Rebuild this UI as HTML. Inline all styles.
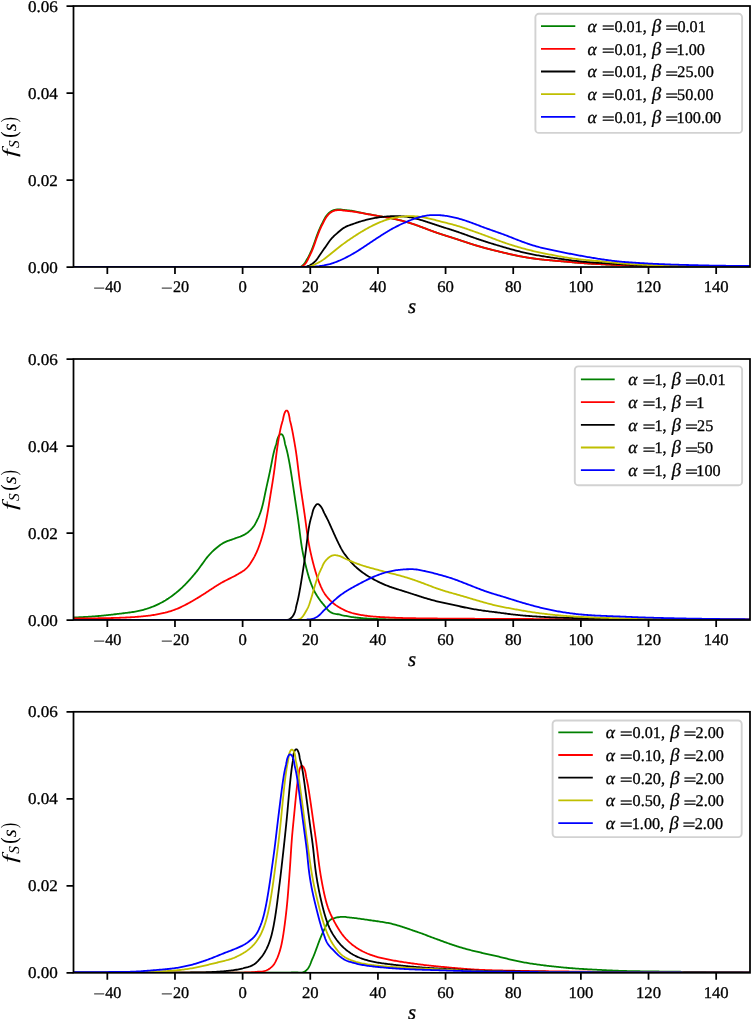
<!DOCTYPE html><html><head><meta charset="utf-8"><style>html,body{margin:0;padding:0;background:#fff;}svg{display:block;will-change:transform;}text{font-family:"Liberation Serif",serif;fill:#000;text-rendering:geometricPrecision;stroke:#000;stroke-width:0.3px;}.it{font-style:italic;}</style></head><body>
<svg width="751" height="1019" viewBox="0 0 751 1019">
<rect x="0" y="0" width="751" height="1019" fill="#fff"/>
<clipPath id="c0"><rect x="73.50" y="6.00" width="676.50" height="261.00"/></clipPath>
<g clip-path="url(#c0)" fill="none" stroke-width="1.80" stroke-linejoin="round" stroke-linecap="butt">
<path d="M73.20 267.00 L74.40 267.00 L75.60 267.00 L76.80 267.00 L78.00 267.00 L79.20 267.00 L80.40 267.00 L81.60 267.00 L82.80 267.00 L84.00 267.00 L85.20 267.00 L86.40 267.00 L87.60 267.00 L88.80 267.00 L90.00 267.00 L91.20 267.00 L92.40 267.00 L93.60 267.00 L94.80 267.00 L96.00 267.00 L97.20 267.00 L98.40 267.00 L99.60 267.00 L100.80 267.00 L102.00 267.00 L103.20 267.00 L104.40 267.00 L105.60 267.00 L106.80 267.00 L108.00 267.00 L109.20 267.00 L110.40 267.00 L111.60 267.00 L112.80 267.00 L114.00 267.00 L115.20 267.00 L116.40 267.00 L117.60 267.00 L118.80 267.00 L120.00 267.00 L121.20 267.00 L122.40 267.00 L123.60 267.00 L124.80 267.00 L126.00 267.00 L127.20 267.00 L128.40 267.00 L129.60 267.00 L130.80 267.00 L132.00 267.00 L133.20 267.00 L134.40 267.00 L135.60 267.00 L136.80 267.00 L138.00 267.00 L139.20 267.00 L140.40 267.00 L141.60 267.00 L142.80 267.00 L144.00 267.00 L145.20 267.00 L146.40 267.00 L147.60 267.00 L148.80 267.00 L150.00 267.00 L151.20 267.00 L152.40 267.00 L153.60 267.00 L154.80 267.00 L156.00 267.00 L157.20 267.00 L158.40 267.00 L159.60 267.00 L160.80 267.00 L162.00 267.00 L163.20 267.00 L164.40 267.00 L165.60 267.00 L166.80 267.00 L168.00 267.00 L169.20 267.00 L170.40 267.00 L171.60 267.00 L172.80 267.00 L174.00 267.00 L175.20 267.00 L176.40 267.00 L177.60 267.00 L178.80 267.00 L180.00 267.00 L181.20 267.00 L182.40 267.00 L183.60 267.00 L184.80 267.00 L186.00 267.00 L187.20 267.00 L188.40 267.00 L189.60 267.00 L190.80 267.00 L192.00 267.00 L193.20 267.00 L194.40 267.00 L195.60 267.00 L196.80 267.00 L198.00 267.00 L199.20 267.00 L200.40 267.00 L201.60 267.00 L202.80 267.00 L204.00 267.00 L205.20 267.00 L206.40 267.00 L207.60 267.00 L208.80 267.00 L210.00 267.00 L211.20 267.00 L212.40 267.00 L213.60 267.00 L214.80 267.00 L216.00 267.00 L217.20 267.00 L218.40 267.00 L219.60 267.00 L220.80 267.00 L222.00 267.00 L223.20 267.00 L224.40 267.00 L225.60 267.00 L226.80 267.00 L228.00 267.00 L229.20 267.00 L230.40 267.00 L231.60 267.00 L232.80 267.00 L234.00 267.00 L235.20 267.00 L236.40 267.00 L237.60 267.00 L238.80 267.00 L240.00 267.00 L241.20 267.00 L242.40 267.00 L243.60 267.00 L244.80 267.00 L246.00 267.00 L247.20 267.00 L248.40 267.00 L249.60 267.00 L250.80 267.00 L252.00 267.00 L253.20 267.00 L254.40 267.00 L255.60 267.00 L256.80 267.00 L258.00 267.00 L259.20 267.00 L260.40 267.00 L261.60 267.00 L262.80 267.00 L264.00 267.00 L265.20 267.00 L266.40 267.00 L267.60 267.00 L268.80 267.00 L270.00 267.00 L271.20 267.00 L272.40 267.00 L273.60 267.00 L274.80 267.00 L276.00 267.00 L277.20 267.00 L278.40 267.00 L279.60 267.00 L280.80 267.00 L281.99 267.00 L283.19 267.00 L284.38 267.00 L285.58 267.00 L286.76 267.00 L287.95 267.00 L289.13 267.00 L290.30 267.00 L291.47 267.00 L292.67 267.00 L293.90 267.00 L295.14 267.00 L296.38 267.00 L297.59 267.00 L298.79 267.00 L299.98 267.00 L301.08 266.64 L302.04 266.00 L302.89 265.17 L303.71 264.30 L304.49 263.39 L305.19 262.40 L305.81 261.35 L306.41 260.29 L307.02 259.28 L307.63 258.27 L308.21 257.25 L308.75 256.20 L309.28 255.14 L309.79 254.08 L310.30 253.01 L310.79 251.94 L311.27 250.86 L311.74 249.76 L312.19 248.66 L312.62 247.55 L313.05 246.43 L313.46 245.31 L313.86 244.19 L314.26 243.06 L314.66 241.93 L315.06 240.80 L315.45 239.67 L315.85 238.53 L316.25 237.40 L316.65 236.28 L317.07 235.15 L317.48 234.03 L317.91 232.91 L318.35 231.80 L318.80 230.69 L319.25 229.58 L319.73 228.49 L320.21 227.40 L320.72 226.32 L321.23 225.25 L321.77 224.19 L322.31 223.14 L322.85 222.08 L323.38 221.01 L323.91 219.93 L324.46 218.87 L325.05 217.83 L325.69 216.83 L326.38 215.86 L327.10 214.93 L327.87 214.03 L328.69 213.18 L329.57 212.40 L330.52 211.69 L331.52 211.07 L332.56 210.55 L333.65 210.12 L334.78 209.78 L335.93 209.54 L337.11 209.40 L338.29 209.35 L339.48 209.38 L340.68 209.48 L341.88 209.62 L343.07 209.77 L344.26 209.91 L345.45 210.05 L346.63 210.18 L347.81 210.30 L348.99 210.44 L350.17 210.58 L351.35 210.74 L352.53 210.91 L353.71 211.10 L354.89 211.30 L356.06 211.52 L357.24 211.76 L358.41 212.01 L359.58 212.27 L360.74 212.53 L361.91 212.79 L363.08 213.04 L364.25 213.29 L365.43 213.54 L366.60 213.79 L367.77 214.03 L368.95 214.26 L370.12 214.49 L371.30 214.71 L372.48 214.93 L373.66 215.15 L374.84 215.36 L376.02 215.56 L377.20 215.77 L378.38 215.97 L379.56 216.17 L380.75 216.38 L381.93 216.59 L383.11 216.79 L384.29 217.00 L385.47 217.22 L386.65 217.44 L387.83 217.66 L389.01 217.89 L390.18 218.12 L391.36 218.36 L392.53 218.60 L393.71 218.84 L394.88 219.09 L396.05 219.35 L397.22 219.61 L398.39 219.88 L399.56 220.16 L400.72 220.44 L401.88 220.73 L403.04 221.03 L404.20 221.34 L405.36 221.65 L406.51 221.98 L407.66 222.32 L408.81 222.66 L409.95 223.02 L411.09 223.38 L412.23 223.75 L413.37 224.13 L414.50 224.52 L415.63 224.92 L416.76 225.32 L417.89 225.72 L419.02 226.13 L420.14 226.55 L421.27 226.97 L422.39 227.39 L423.51 227.81 L424.64 228.24 L425.76 228.66 L426.88 229.09 L428.00 229.51 L429.12 229.94 L430.25 230.36 L431.37 230.78 L432.49 231.19 L433.62 231.60 L434.75 232.01 L435.88 232.41 L437.01 232.81 L438.15 233.19 L439.28 233.58 L440.42 233.96 L441.56 234.33 L442.70 234.70 L443.84 235.06 L444.99 235.43 L446.13 235.78 L447.28 236.14 L448.42 236.50 L449.57 236.86 L450.71 237.22 L451.86 237.58 L453.00 237.94 L454.14 238.31 L455.28 238.67 L456.42 239.05 L457.56 239.42 L458.70 239.80 L459.84 240.18 L460.98 240.56 L462.11 240.94 L463.25 241.32 L464.39 241.70 L465.53 242.08 L466.67 242.46 L467.80 242.84 L468.94 243.21 L470.09 243.58 L471.23 243.94 L472.37 244.31 L473.52 244.66 L474.66 245.02 L475.81 245.37 L476.96 245.71 L478.11 246.05 L479.26 246.39 L480.41 246.72 L481.57 247.05 L482.72 247.38 L483.88 247.69 L485.04 248.01 L486.19 248.32 L487.35 248.63 L488.51 248.93 L489.68 249.23 L490.84 249.52 L492.00 249.81 L493.17 250.10 L494.33 250.39 L495.50 250.68 L496.66 250.96 L497.83 251.24 L498.99 251.53 L500.16 251.81 L501.33 252.09 L502.49 252.37 L503.66 252.65 L504.83 252.93 L505.99 253.21 L507.16 253.49 L508.33 253.76 L509.50 254.03 L510.67 254.30 L511.84 254.57 L513.01 254.83 L514.18 255.08 L515.35 255.33 L516.53 255.57 L517.70 255.81 L518.88 256.04 L520.06 256.27 L521.23 256.49 L522.41 256.70 L523.59 256.92 L524.78 257.12 L525.96 257.32 L527.14 257.52 L528.33 257.71 L529.51 257.90 L530.70 258.08 L531.88 258.25 L533.07 258.43 L534.26 258.59 L535.45 258.75 L536.64 258.91 L537.83 259.06 L539.02 259.20 L540.21 259.34 L541.40 259.47 L542.59 259.60 L543.79 259.72 L544.98 259.83 L546.17 259.95 L547.37 260.06 L548.56 260.16 L549.76 260.27 L550.95 260.37 L552.15 260.47 L553.34 260.58 L554.54 260.68 L555.74 260.78 L556.93 260.88 L558.13 260.98 L559.32 261.08 L560.52 261.19 L561.71 261.29 L562.91 261.40 L564.10 261.51 L565.30 261.62 L566.49 261.72 L567.69 261.83 L568.88 261.94 L570.08 262.05 L571.27 262.16 L572.47 262.27 L573.66 262.38 L574.86 262.48 L576.05 262.59 L577.25 262.69 L578.45 262.79 L579.64 262.89 L580.84 262.99 L582.03 263.08 L583.23 263.17 L584.43 263.26 L585.62 263.34 L586.82 263.43 L588.02 263.51 L589.21 263.58 L590.41 263.66 L591.61 263.73 L592.81 263.80 L594.01 263.87 L595.20 263.94 L596.40 264.00 L597.60 264.07 L598.80 264.13 L600.00 264.19 L601.20 264.25 L602.39 264.31 L603.59 264.37 L604.79 264.43 L605.99 264.49 L607.19 264.55 L608.39 264.61 L609.59 264.66 L610.78 264.72 L611.98 264.77 L613.18 264.83 L614.38 264.88 L615.58 264.94 L616.78 264.99 L617.98 265.04 L619.18 265.09 L620.37 265.14 L621.57 265.19 L622.77 265.24 L623.97 265.29 L625.17 265.33 L626.37 265.38 L627.57 265.42 L628.77 265.46 L629.97 265.51 L631.17 265.55 L632.37 265.59 L633.57 265.62 L634.76 265.66 L635.96 265.70 L637.16 265.73 L638.36 265.76 L639.56 265.80 L640.76 265.83 L641.96 265.85 L643.16 265.88 L644.36 265.91 L645.56 265.93 L646.76 265.96 L647.96 265.98 L649.16 266.00 L650.36 266.03 L651.56 266.05 L652.76 266.07 L653.96 266.09 L655.16 266.11 L656.36 266.12 L657.56 266.14 L658.76 266.16 L659.96 266.18 L661.16 266.19 L662.36 266.21 L663.56 266.22 L664.76 266.24 L665.96 266.25 L667.16 266.27 L668.36 266.28 L669.56 266.29 L670.76 266.31 L671.96 266.32 L673.16 266.33 L674.36 266.34 L675.56 266.35 L676.76 266.37 L677.96 266.38 L679.16 266.39 L680.36 266.40 L681.56 266.41 L682.76 266.42 L683.96 266.43 L685.16 266.44 L686.36 266.45 L687.56 266.46 L688.76 266.47 L689.96 266.48 L691.16 266.49 L692.36 266.50 L693.56 266.51 L694.76 266.52 L695.96 266.53 L697.16 266.54 L698.36 266.55 L699.56 266.56 L700.76 266.57 L701.96 266.57 L703.16 266.58 L704.36 266.59 L705.56 266.60 L706.76 266.61 L707.96 266.62 L709.16 266.63 L710.36 266.63 L711.56 266.64 L712.76 266.65 L713.96 266.66 L715.16 266.66 L716.36 266.67 L717.56 266.68 L718.76 266.69 L719.96 266.69 L721.16 266.70 L722.36 266.71 L723.56 266.71 L724.76 266.72 L725.96 266.72 L727.16 266.73 L728.36 266.74 L729.56 266.74 L730.76 266.75 L731.96 266.75 L733.16 266.76 L734.36 266.76 L735.56 266.77 L736.76 266.77 L737.96 266.77 L739.16 266.78 L740.36 266.78 L741.56 266.78 L742.76 266.79 L743.96 266.79 L745.16 266.79 L746.36 266.80 L747.56 266.80 L748.76 266.80 L749.96 266.80 L749.96 266.80" stroke="#008000"/>
<path d="M73.20 267.00 L74.40 267.00 L75.60 267.00 L76.80 267.00 L78.00 267.00 L79.20 267.00 L80.40 267.00 L81.60 267.00 L82.80 267.00 L84.00 267.00 L85.20 267.00 L86.40 267.00 L87.60 267.00 L88.80 267.00 L90.00 267.00 L91.20 267.00 L92.40 267.00 L93.60 267.00 L94.80 267.00 L96.00 267.00 L97.20 267.00 L98.40 267.00 L99.60 267.00 L100.80 267.00 L102.00 267.00 L103.20 267.00 L104.40 267.00 L105.60 267.00 L106.80 267.00 L108.00 267.00 L109.20 267.00 L110.40 267.00 L111.60 267.00 L112.80 267.00 L114.00 267.00 L115.20 267.00 L116.40 267.00 L117.60 267.00 L118.80 267.00 L120.00 267.00 L121.20 267.00 L122.40 267.00 L123.60 267.00 L124.80 267.00 L126.00 267.00 L127.20 267.00 L128.40 267.00 L129.60 267.00 L130.80 267.00 L132.00 267.00 L133.20 267.00 L134.40 267.00 L135.60 267.00 L136.80 267.00 L138.00 267.00 L139.20 267.00 L140.40 267.00 L141.60 267.00 L142.80 267.00 L144.00 267.00 L145.20 267.00 L146.40 267.00 L147.60 267.00 L148.80 267.00 L150.00 267.00 L151.20 267.00 L152.40 267.00 L153.60 267.00 L154.80 267.00 L156.00 267.00 L157.20 267.00 L158.40 267.00 L159.60 267.00 L160.80 267.00 L162.00 267.00 L163.20 267.00 L164.40 267.00 L165.60 267.00 L166.80 267.00 L168.00 267.00 L169.20 267.00 L170.40 267.00 L171.60 267.00 L172.80 267.00 L174.00 267.00 L175.20 267.00 L176.40 267.00 L177.60 267.00 L178.80 267.00 L180.00 267.00 L181.20 267.00 L182.40 267.00 L183.60 267.00 L184.80 267.00 L186.00 267.00 L187.20 267.00 L188.40 267.00 L189.60 267.00 L190.80 267.00 L192.00 267.00 L193.20 267.00 L194.40 267.00 L195.60 267.00 L196.80 267.00 L198.00 267.00 L199.20 267.00 L200.40 267.00 L201.60 267.00 L202.80 267.00 L204.00 267.00 L205.20 267.00 L206.40 267.00 L207.60 267.00 L208.80 267.00 L210.00 267.00 L211.20 267.00 L212.40 267.00 L213.60 267.00 L214.80 267.00 L216.00 267.00 L217.20 267.00 L218.40 267.00 L219.60 267.00 L220.80 267.00 L222.00 267.00 L223.20 267.00 L224.40 267.00 L225.60 267.00 L226.80 267.00 L228.00 267.00 L229.20 267.00 L230.40 267.00 L231.60 267.00 L232.80 267.00 L234.00 267.00 L235.20 267.00 L236.40 267.00 L237.60 267.00 L238.80 267.00 L240.00 267.00 L241.20 267.00 L242.40 267.00 L243.60 267.00 L244.80 267.00 L246.00 267.00 L247.20 267.00 L248.40 267.00 L249.60 267.00 L250.80 267.00 L252.00 267.00 L253.20 267.00 L254.40 267.00 L255.60 267.00 L256.80 267.00 L258.00 267.00 L259.20 267.00 L260.40 267.00 L261.60 267.00 L262.80 267.00 L264.00 267.00 L265.20 267.00 L266.40 267.00 L267.60 267.00 L268.80 267.00 L270.00 267.00 L271.20 267.00 L272.40 267.00 L273.60 267.00 L274.80 267.00 L276.00 267.00 L277.20 267.00 L278.40 267.00 L279.60 267.00 L280.80 267.00 L282.00 267.00 L283.19 267.00 L284.39 267.00 L285.58 267.00 L286.78 267.00 L287.96 267.00 L289.15 267.00 L290.33 267.00 L291.50 267.00 L292.68 267.00 L293.89 267.00 L295.13 267.00 L296.37 267.00 L297.59 267.00 L298.79 267.00 L299.98 267.00 L301.14 266.99 L302.21 266.35 L303.19 265.71 L304.10 264.93 L304.93 264.08 L305.70 263.16 L306.39 262.18 L307.01 261.15 L307.58 260.08 L308.11 258.99 L308.62 257.91 L309.13 256.83 L309.65 255.77 L310.18 254.72 L310.69 253.66 L311.20 252.60 L311.68 251.52 L312.15 250.43 L312.60 249.33 L313.03 248.22 L313.46 247.10 L313.87 245.98 L314.28 244.85 L314.68 243.73 L315.07 242.60 L315.47 241.47 L315.86 240.33 L316.26 239.20 L316.66 238.07 L317.07 236.95 L317.48 235.82 L317.90 234.70 L318.32 233.58 L318.76 232.47 L319.21 231.36 L319.67 230.25 L320.14 229.16 L320.63 228.07 L321.13 226.99 L321.65 225.92 L322.18 224.86 L322.73 223.81 L323.27 222.75 L323.80 221.68 L324.32 220.60 L324.88 219.54 L325.47 218.50 L326.11 217.50 L326.80 216.54 L327.53 215.60 L328.30 214.71 L329.12 213.86 L330.00 213.08 L330.94 212.37 L331.94 211.76 L332.99 211.23 L334.09 210.81 L335.21 210.47 L336.36 210.24 L337.54 210.10 L338.72 210.05 L339.92 210.08 L341.11 210.19 L342.31 210.33 L343.50 210.49 L344.70 210.63 L345.88 210.76 L347.07 210.89 L348.25 211.01 L349.43 211.13 L350.61 211.27 L351.80 211.42 L352.98 211.59 L354.16 211.76 L355.35 211.94 L356.53 212.14 L357.71 212.33 L358.89 212.54 L360.08 212.74 L361.26 212.95 L362.44 213.17 L363.62 213.38 L364.80 213.60 L365.98 213.81 L367.16 214.03 L368.34 214.24 L369.52 214.45 L370.70 214.66 L371.88 214.87 L373.06 215.07 L374.24 215.27 L375.43 215.48 L376.61 215.68 L377.79 215.88 L378.97 216.08 L380.16 216.28 L381.34 216.48 L382.52 216.69 L383.70 216.90 L384.88 217.11 L386.06 217.33 L387.24 217.55 L388.42 217.78 L389.60 218.00 L390.77 218.24 L391.95 218.48 L393.12 218.72 L394.30 218.97 L395.47 219.22 L396.64 219.48 L397.81 219.75 L398.98 220.02 L400.14 220.30 L401.31 220.58 L402.47 220.88 L403.63 221.18 L404.78 221.50 L405.94 221.82 L407.09 222.15 L408.24 222.49 L409.38 222.84 L410.52 223.20 L411.66 223.57 L412.80 223.94 L413.94 224.33 L415.07 224.72 L416.20 225.12 L417.33 225.52 L418.46 225.93 L419.58 226.34 L420.71 226.76 L421.83 227.18 L422.96 227.60 L424.08 228.03 L425.20 228.45 L426.32 228.88 L427.44 229.30 L428.56 229.73 L429.69 230.15 L430.81 230.57 L431.93 230.99 L433.06 231.40 L434.19 231.81 L435.32 232.21 L436.45 232.61 L437.58 233.00 L438.72 233.39 L439.85 233.77 L440.99 234.14 L442.13 234.52 L443.27 234.88 L444.42 235.25 L445.56 235.61 L446.71 235.96 L447.85 236.32 L449.00 236.68 L450.14 237.04 L451.29 237.40 L452.43 237.76 L453.57 238.12 L454.71 238.49 L455.85 238.86 L457.00 239.23 L458.13 239.61 L459.27 239.99 L460.41 240.37 L461.55 240.75 L462.69 241.13 L463.82 241.51 L464.96 241.89 L466.10 242.27 L467.24 242.65 L468.38 243.02 L469.52 243.39 L470.66 243.76 L471.80 244.13 L472.95 244.49 L474.09 244.84 L475.24 245.19 L476.39 245.54 L477.54 245.89 L478.69 246.22 L479.84 246.56 L480.99 246.89 L482.15 247.21 L483.30 247.54 L484.46 247.85 L485.62 248.17 L486.78 248.47 L487.94 248.78 L489.10 249.08 L490.26 249.38 L491.42 249.67 L492.59 249.96 L493.75 250.25 L494.92 250.54 L496.08 250.82 L497.25 251.10 L498.41 251.39 L499.58 251.67 L500.75 251.95 L501.91 252.23 L503.08 252.51 L504.25 252.79 L505.41 253.07 L506.58 253.35 L507.75 253.63 L508.91 253.90 L510.08 254.17 L511.25 254.43 L512.42 254.70 L513.59 254.95 L514.77 255.21 L515.94 255.45 L517.12 255.69 L518.29 255.93 L519.47 256.16 L520.65 256.38 L521.83 256.60 L523.01 256.81 L524.19 257.02 L525.37 257.22 L526.55 257.42 L527.74 257.61 L528.92 257.80 L530.11 257.99 L531.29 258.17 L532.48 258.34 L533.67 258.51 L534.85 258.67 L536.04 258.83 L537.23 258.98 L538.42 259.13 L539.61 259.27 L540.81 259.40 L542.00 259.53 L543.19 259.66 L544.38 259.78 L545.58 259.89 L546.77 260.00 L547.97 260.11 L549.16 260.22 L550.36 260.32 L551.55 260.42 L552.75 260.53 L553.94 260.63 L555.14 260.73 L556.34 260.83 L557.53 260.93 L558.73 261.03 L559.92 261.14 L561.12 261.24 L562.31 261.35 L563.51 261.45 L564.70 261.56 L565.90 261.67 L567.09 261.78 L568.29 261.89 L569.48 262.00 L570.68 262.11 L571.87 262.22 L573.07 262.32 L574.26 262.43 L575.46 262.54 L576.65 262.64 L577.85 262.74 L579.05 262.84 L580.24 262.94 L581.44 263.03 L582.63 263.12 L583.83 263.21 L585.03 263.30 L586.22 263.39 L587.42 263.47 L588.62 263.55 L589.82 263.62 L591.01 263.70 L592.21 263.77 L593.41 263.84 L594.61 263.91 L595.81 263.97 L597.00 264.04 L598.20 264.10 L599.40 264.16 L600.60 264.22 L601.80 264.28 L603.00 264.34 L604.19 264.40 L605.39 264.46 L606.59 264.52 L607.79 264.58 L608.99 264.63 L610.19 264.69 L611.39 264.75 L612.58 264.80 L613.78 264.86 L614.98 264.91 L616.18 264.96 L617.38 265.02 L618.58 265.07 L619.78 265.12 L620.98 265.17 L622.18 265.21 L623.37 265.26 L624.57 265.31 L625.77 265.35 L626.97 265.40 L628.17 265.44 L629.37 265.48 L630.57 265.53 L631.77 265.57 L632.97 265.61 L634.17 265.64 L635.37 265.68 L636.57 265.71 L637.77 265.75 L638.97 265.78 L640.17 265.81 L641.36 265.84 L642.56 265.87 L643.76 265.90 L644.96 265.92 L646.16 265.95 L647.36 265.97 L648.56 265.99 L649.76 266.02 L650.96 266.04 L652.16 266.06 L653.36 266.08 L654.56 266.10 L655.76 266.12 L656.96 266.13 L658.16 266.15 L659.36 266.17 L660.56 266.18 L661.76 266.20 L662.96 266.22 L664.16 266.23 L665.36 266.24 L666.56 266.26 L667.76 266.27 L668.96 266.29 L670.16 266.30 L671.36 266.31 L672.56 266.32 L673.76 266.34 L674.96 266.35 L676.16 266.36 L677.36 266.37 L678.56 266.38 L679.76 266.39 L680.96 266.40 L682.16 266.42 L683.36 266.43 L684.56 266.44 L685.76 266.45 L686.96 266.46 L688.16 266.47 L689.36 266.48 L690.56 266.49 L691.76 266.50 L692.96 266.50 L694.16 266.51 L695.36 266.52 L696.56 266.53 L697.76 266.54 L698.96 266.55 L700.16 266.56 L701.36 266.57 L702.56 266.58 L703.76 266.59 L704.96 266.60 L706.16 266.60 L707.36 266.61 L708.56 266.62 L709.76 266.63 L710.96 266.64 L712.16 266.65 L713.36 266.65 L714.56 266.66 L715.76 266.67 L716.96 266.68 L718.16 266.68 L719.36 266.69 L720.56 266.70 L721.76 266.70 L722.96 266.71 L724.16 266.72 L725.36 266.72 L726.56 266.73 L727.76 266.73 L728.96 266.74 L730.16 266.74 L731.36 266.75 L732.56 266.75 L733.76 266.76 L734.96 266.76 L736.16 266.77 L737.36 266.77 L738.56 266.78 L739.76 266.78 L740.96 266.78 L742.16 266.79 L743.36 266.79 L744.56 266.79 L745.76 266.79 L746.96 266.80 L748.16 266.80 L749.36 266.80 L749.76 266.80" stroke="#ff0000"/>
<path d="M73.20 267.00 L74.40 267.00 L75.60 267.00 L76.80 267.00 L78.00 267.00 L79.20 267.00 L80.40 267.00 L81.60 267.00 L82.80 267.00 L84.00 267.00 L85.20 267.00 L86.40 267.00 L87.60 267.00 L88.80 267.00 L90.00 267.00 L91.20 267.00 L92.40 267.00 L93.60 267.00 L94.80 267.00 L96.00 267.00 L97.20 267.00 L98.40 267.00 L99.60 267.00 L100.80 267.00 L102.00 267.00 L103.20 267.00 L104.40 267.00 L105.60 267.00 L106.80 267.00 L108.00 267.00 L109.20 267.00 L110.40 267.00 L111.60 267.00 L112.80 267.00 L114.00 267.00 L115.20 267.00 L116.40 267.00 L117.60 267.00 L118.80 267.00 L120.00 267.00 L121.20 267.00 L122.40 267.00 L123.60 267.00 L124.80 267.00 L126.00 267.00 L127.20 267.00 L128.40 267.00 L129.60 267.00 L130.80 267.00 L132.00 267.00 L133.20 267.00 L134.40 267.00 L135.60 267.00 L136.80 267.00 L138.00 267.00 L139.20 267.00 L140.40 267.00 L141.60 267.00 L142.80 267.00 L144.00 267.00 L145.20 267.00 L146.40 267.00 L147.60 267.00 L148.80 267.00 L150.00 267.00 L151.20 267.00 L152.40 267.00 L153.60 267.00 L154.80 267.00 L156.00 267.00 L157.20 267.00 L158.40 267.00 L159.60 267.00 L160.80 267.00 L162.00 267.00 L163.20 267.00 L164.40 267.00 L165.60 267.00 L166.80 267.00 L168.00 267.00 L169.20 267.00 L170.40 267.00 L171.60 267.00 L172.80 267.00 L174.00 267.00 L175.20 267.00 L176.40 267.00 L177.60 267.00 L178.80 267.00 L180.00 267.00 L181.20 267.00 L182.40 267.00 L183.60 267.00 L184.80 267.00 L186.00 267.00 L187.20 267.00 L188.40 267.00 L189.60 267.00 L190.80 267.00 L192.00 267.00 L193.20 267.00 L194.40 267.00 L195.60 267.00 L196.80 267.00 L198.00 267.00 L199.20 267.00 L200.40 267.00 L201.60 267.00 L202.80 267.00 L204.00 267.00 L205.20 267.00 L206.40 267.00 L207.60 267.00 L208.80 267.00 L210.00 267.00 L211.20 267.00 L212.40 267.00 L213.60 267.00 L214.80 267.00 L216.00 267.00 L217.20 267.00 L218.40 267.00 L219.60 267.00 L220.80 267.00 L222.00 267.00 L223.20 267.00 L224.40 267.00 L225.60 267.00 L226.80 267.00 L228.00 267.00 L229.20 267.00 L230.40 267.00 L231.60 267.00 L232.80 267.00 L234.00 267.00 L235.20 267.00 L236.40 267.00 L237.60 267.00 L238.80 267.00 L240.00 267.00 L241.20 267.00 L242.40 267.00 L243.60 267.00 L244.80 267.00 L246.00 267.00 L247.20 267.00 L248.40 267.00 L249.60 267.00 L250.80 267.00 L252.00 267.00 L253.20 267.00 L254.40 267.00 L255.60 267.00 L256.80 267.00 L258.00 267.00 L259.20 267.00 L260.40 267.00 L261.60 267.00 L262.80 267.00 L264.00 267.00 L265.20 267.00 L266.40 267.00 L267.60 267.00 L268.80 267.00 L270.00 267.00 L271.20 267.00 L272.40 267.00 L273.60 267.00 L274.80 267.00 L276.00 267.00 L277.20 267.00 L278.40 267.00 L279.60 267.00 L280.80 267.00 L282.00 267.00 L283.20 267.00 L284.40 267.00 L285.60 267.00 L286.80 267.00 L288.00 267.00 L289.20 267.00 L290.39 267.00 L291.59 267.00 L292.79 267.00 L293.98 267.00 L295.17 267.00 L296.36 267.00 L297.55 267.00 L298.75 267.00 L299.96 267.00 L301.17 267.00 L302.38 267.00 L303.58 267.00 L304.77 267.00 L305.94 266.60 L307.09 266.34 L308.21 265.97 L309.31 265.52 L310.36 264.98 L311.37 264.37 L312.34 263.70 L313.28 262.98 L314.19 262.23 L315.05 261.42 L315.86 260.56 L316.62 259.64 L317.33 258.68 L318.02 257.70 L318.68 256.70 L319.36 255.71 L320.03 254.73 L320.72 253.75 L321.41 252.78 L322.10 251.81 L322.77 250.83 L323.45 249.84 L324.12 248.85 L324.80 247.87 L325.47 246.88 L326.14 245.89 L326.82 244.90 L327.49 243.91 L328.17 242.93 L328.86 241.95 L329.57 240.99 L330.30 240.05 L331.06 239.13 L331.84 238.23 L332.65 237.35 L333.48 236.51 L334.34 235.69 L335.22 234.88 L336.10 234.09 L336.99 233.31 L337.89 232.55 L338.80 231.79 L339.71 231.04 L340.62 230.28 L341.54 229.52 L342.48 228.78 L343.46 228.11 L344.47 227.49 L345.52 226.93 L346.60 226.41 L347.69 225.93 L348.79 225.49 L349.91 225.06 L351.04 224.66 L352.18 224.28 L353.31 223.89 L354.44 223.50 L355.57 223.10 L356.70 222.71 L357.83 222.33 L358.97 221.96 L360.11 221.60 L361.26 221.26 L362.41 220.92 L363.56 220.59 L364.72 220.28 L365.87 219.98 L367.04 219.69 L368.20 219.41 L369.37 219.14 L370.54 218.88 L371.71 218.63 L372.88 218.40 L374.06 218.17 L375.24 217.96 L376.42 217.76 L377.60 217.56 L378.78 217.38 L379.97 217.22 L381.15 217.06 L382.34 216.91 L383.53 216.78 L384.72 216.66 L385.92 216.55 L387.11 216.45 L388.30 216.36 L389.50 216.29 L390.69 216.23 L391.89 216.18 L393.09 216.15 L394.28 216.13 L395.48 216.12 L396.67 216.13 L397.87 216.15 L399.06 216.19 L400.26 216.24 L401.45 216.31 L402.64 216.38 L403.83 216.47 L405.02 216.58 L406.21 216.71 L407.39 216.87 L408.57 217.05 L409.75 217.25 L410.92 217.47 L412.09 217.72 L413.25 217.98 L414.42 218.26 L415.58 218.54 L416.74 218.84 L417.90 219.14 L419.05 219.46 L420.20 219.79 L421.35 220.12 L422.50 220.47 L423.65 220.82 L424.79 221.18 L425.93 221.54 L427.07 221.91 L428.21 222.29 L429.35 222.67 L430.49 223.05 L431.62 223.43 L432.76 223.81 L433.90 224.19 L435.03 224.57 L436.17 224.95 L437.31 225.33 L438.45 225.71 L439.59 226.08 L440.73 226.44 L441.87 226.81 L443.02 227.17 L444.16 227.53 L445.30 227.89 L446.45 228.24 L447.59 228.60 L448.74 228.95 L449.88 229.31 L451.02 229.67 L452.16 230.04 L453.30 230.41 L454.44 230.78 L455.58 231.16 L456.71 231.55 L457.85 231.94 L458.98 232.34 L460.11 232.74 L461.24 233.14 L462.37 233.54 L463.49 233.95 L464.62 234.36 L465.75 234.77 L466.88 235.18 L468.01 235.59 L469.14 235.99 L470.26 236.40 L471.39 236.80 L472.53 237.20 L473.66 237.60 L474.79 237.99 L475.92 238.39 L477.06 238.78 L478.19 239.16 L479.33 239.55 L480.47 239.93 L481.61 240.31 L482.75 240.68 L483.89 241.05 L485.03 241.42 L486.17 241.79 L487.31 242.16 L488.46 242.52 L489.60 242.88 L490.75 243.24 L491.89 243.59 L493.04 243.94 L494.19 244.29 L495.33 244.64 L496.48 244.99 L497.63 245.33 L498.78 245.67 L499.93 246.01 L501.08 246.35 L502.23 246.69 L503.38 247.02 L504.54 247.36 L505.69 247.69 L506.84 248.02 L507.99 248.35 L509.15 248.68 L510.30 249.01 L511.46 249.33 L512.61 249.65 L513.77 249.97 L514.93 250.28 L516.09 250.59 L517.25 250.89 L518.41 251.19 L519.57 251.49 L520.74 251.77 L521.90 252.06 L523.07 252.34 L524.24 252.61 L525.41 252.88 L526.58 253.14 L527.75 253.40 L528.92 253.66 L530.09 253.90 L531.27 254.14 L532.44 254.38 L533.62 254.61 L534.80 254.83 L535.98 255.05 L537.16 255.27 L538.34 255.47 L539.52 255.68 L540.71 255.88 L541.89 256.07 L543.07 256.26 L544.26 256.45 L545.44 256.63 L546.63 256.81 L547.82 256.99 L549.00 257.17 L550.19 257.35 L551.38 257.52 L552.56 257.70 L553.75 257.87 L554.94 258.04 L556.13 258.22 L557.31 258.39 L558.50 258.56 L559.69 258.74 L560.88 258.91 L562.06 259.08 L563.25 259.25 L564.44 259.42 L565.63 259.58 L566.82 259.75 L568.01 259.91 L569.19 260.07 L570.38 260.23 L571.57 260.38 L572.76 260.53 L573.95 260.68 L575.15 260.83 L576.34 260.97 L577.53 261.11 L578.72 261.24 L579.91 261.37 L581.11 261.49 L582.30 261.61 L583.49 261.73 L584.69 261.84 L585.88 261.95 L587.08 262.05 L588.27 262.15 L589.47 262.24 L590.67 262.33 L591.86 262.41 L593.06 262.50 L594.26 262.57 L595.45 262.65 L596.65 262.73 L597.85 262.80 L599.05 262.88 L600.24 262.95 L601.44 263.02 L602.64 263.10 L603.84 263.17 L605.04 263.25 L606.23 263.32 L607.43 263.40 L608.63 263.47 L609.83 263.55 L611.02 263.63 L612.22 263.70 L613.42 263.78 L614.62 263.86 L615.81 263.93 L617.01 264.01 L618.21 264.08 L619.41 264.15 L620.60 264.22 L621.80 264.29 L623.00 264.36 L624.20 264.43 L625.40 264.50 L626.59 264.56 L627.79 264.62 L628.99 264.68 L630.19 264.74 L631.39 264.80 L632.59 264.86 L633.79 264.91 L634.98 264.97 L636.18 265.02 L637.38 265.07 L638.58 265.11 L639.78 265.16 L640.98 265.21 L642.18 265.25 L643.38 265.29 L644.58 265.33 L645.78 265.37 L646.98 265.41 L648.17 265.44 L649.37 265.48 L650.57 265.51 L651.77 265.54 L652.97 265.57 L654.17 265.61 L655.37 265.64 L656.57 265.67 L657.77 265.69 L658.97 265.72 L660.17 265.75 L661.37 265.77 L662.57 265.80 L663.77 265.82 L664.97 265.85 L666.17 265.87 L667.37 265.89 L668.57 265.92 L669.77 265.94 L670.97 265.96 L672.17 265.98 L673.37 266.00 L674.57 266.01 L675.77 266.03 L676.97 266.05 L678.17 266.07 L679.37 266.08 L680.57 266.10 L681.77 266.11 L682.97 266.13 L684.17 266.14 L685.37 266.16 L686.57 266.17 L687.77 266.18 L688.97 266.20 L690.17 266.21 L691.37 266.22 L692.57 266.24 L693.77 266.25 L694.97 266.26 L696.17 266.27 L697.37 266.28 L698.57 266.30 L699.77 266.31 L700.97 266.32 L702.17 266.33 L703.37 266.34 L704.57 266.35 L705.77 266.37 L706.97 266.38 L708.17 266.39 L709.37 266.40 L710.57 266.41 L711.77 266.42 L712.97 266.43 L714.17 266.44 L715.37 266.45 L716.57 266.46 L717.77 266.46 L718.97 266.47 L720.17 266.48 L721.37 266.49 L722.57 266.50 L723.77 266.51 L724.97 266.51 L726.17 266.52 L727.37 266.53 L728.57 266.53 L729.77 266.54 L730.97 266.55 L732.17 266.55 L733.37 266.56 L734.57 266.56 L735.77 266.57 L736.97 266.57 L738.17 266.58 L739.37 266.58 L740.57 266.58 L741.77 266.59 L742.97 266.59 L744.17 266.59 L745.37 266.60 L746.57 266.60 L747.77 266.60 L748.97 266.60 L749.77 266.60" stroke="#000000"/>
<path d="M73.20 267.00 L74.40 267.00 L75.60 267.00 L76.80 267.00 L78.00 267.00 L79.20 267.00 L80.40 267.00 L81.60 267.00 L82.80 267.00 L84.00 267.00 L85.20 267.00 L86.40 267.00 L87.60 267.00 L88.80 267.00 L90.00 267.00 L91.20 267.00 L92.40 267.00 L93.60 267.00 L94.80 267.00 L96.00 267.00 L97.20 267.00 L98.40 267.00 L99.60 267.00 L100.80 267.00 L102.00 267.00 L103.20 267.00 L104.40 267.00 L105.60 267.00 L106.80 267.00 L108.00 267.00 L109.20 267.00 L110.40 267.00 L111.60 267.00 L112.80 267.00 L114.00 267.00 L115.20 267.00 L116.40 267.00 L117.60 267.00 L118.80 267.00 L120.00 267.00 L121.20 267.00 L122.40 267.00 L123.60 267.00 L124.80 267.00 L126.00 267.00 L127.20 267.00 L128.40 267.00 L129.60 267.00 L130.80 267.00 L132.00 267.00 L133.20 267.00 L134.40 267.00 L135.60 267.00 L136.80 267.00 L138.00 267.00 L139.20 267.00 L140.40 267.00 L141.60 267.00 L142.80 267.00 L144.00 267.00 L145.20 267.00 L146.40 267.00 L147.60 267.00 L148.80 267.00 L150.00 267.00 L151.20 267.00 L152.40 267.00 L153.60 267.00 L154.80 267.00 L156.00 267.00 L157.20 267.00 L158.40 267.00 L159.60 267.00 L160.80 267.00 L162.00 267.00 L163.20 267.00 L164.40 267.00 L165.60 267.00 L166.80 267.00 L168.00 267.00 L169.20 267.00 L170.40 267.00 L171.60 267.00 L172.80 267.00 L174.00 267.00 L175.20 267.00 L176.40 267.00 L177.60 267.00 L178.80 267.00 L180.00 267.00 L181.20 267.00 L182.40 267.00 L183.60 267.00 L184.80 267.00 L186.00 267.00 L187.20 267.00 L188.40 267.00 L189.60 267.00 L190.80 267.00 L192.00 267.00 L193.20 267.00 L194.40 267.00 L195.60 267.00 L196.80 267.00 L198.00 267.00 L199.20 267.00 L200.40 267.00 L201.60 267.00 L202.80 267.00 L204.00 267.00 L205.20 267.00 L206.40 267.00 L207.60 267.00 L208.80 267.00 L210.00 267.00 L211.20 267.00 L212.40 267.00 L213.60 267.00 L214.80 267.00 L216.00 267.00 L217.20 267.00 L218.40 267.00 L219.60 267.00 L220.80 267.00 L222.00 267.00 L223.20 267.00 L224.40 267.00 L225.60 267.00 L226.80 267.00 L228.00 267.00 L229.20 267.00 L230.40 267.00 L231.60 267.00 L232.80 267.00 L234.00 267.00 L235.20 267.00 L236.40 267.00 L237.60 267.00 L238.80 267.00 L240.00 267.00 L241.20 267.00 L242.40 267.00 L243.60 267.00 L244.80 267.00 L246.00 267.00 L247.20 267.00 L248.40 267.00 L249.60 267.00 L250.80 267.00 L252.00 267.00 L253.20 267.00 L254.40 267.00 L255.60 267.00 L256.80 267.00 L258.00 267.00 L259.20 267.00 L260.40 267.00 L261.60 267.00 L262.80 267.00 L264.00 267.00 L265.20 267.00 L266.40 267.00 L267.60 267.00 L268.80 267.00 L270.00 267.00 L271.20 267.00 L272.40 267.00 L273.60 267.00 L274.80 267.00 L276.00 267.00 L277.20 267.00 L278.40 267.00 L279.60 267.00 L280.80 267.00 L282.00 267.00 L283.20 267.00 L284.40 267.00 L285.60 267.00 L286.80 267.00 L288.00 267.00 L289.20 267.00 L290.40 267.00 L291.60 267.00 L292.80 267.00 L293.99 267.00 L295.19 267.00 L296.39 267.00 L297.58 267.00 L298.78 267.00 L299.97 267.00 L301.17 267.00 L302.37 267.00 L303.57 267.00 L304.78 267.00 L305.98 267.00 L307.17 267.00 L308.36 266.98 L309.52 266.50 L310.68 266.21 L311.81 265.86 L312.93 265.43 L314.02 264.92 L315.07 264.36 L316.12 263.79 L317.17 263.25 L318.23 262.71 L319.27 262.16 L320.30 261.57 L321.32 260.95 L322.31 260.31 L323.29 259.63 L324.25 258.92 L325.21 258.20 L326.15 257.47 L327.10 256.74 L328.05 256.01 L328.99 255.27 L329.92 254.53 L330.85 253.78 L331.78 253.02 L332.71 252.26 L333.64 251.50 L334.56 250.74 L335.49 249.99 L336.42 249.23 L337.36 248.48 L338.30 247.73 L339.24 246.99 L340.18 246.26 L341.14 245.53 L342.09 244.81 L343.05 244.10 L344.02 243.39 L344.99 242.68 L345.97 241.99 L346.94 241.29 L347.93 240.61 L348.91 239.93 L349.90 239.25 L350.90 238.58 L351.89 237.91 L352.89 237.25 L353.89 236.59 L354.90 235.93 L355.90 235.28 L356.91 234.63 L357.93 233.99 L358.94 233.35 L359.96 232.72 L360.98 232.09 L362.01 231.47 L363.04 230.86 L364.07 230.25 L365.11 229.65 L366.15 229.06 L367.19 228.47 L368.24 227.89 L369.30 227.32 L370.36 226.76 L371.42 226.21 L372.49 225.67 L373.56 225.13 L374.64 224.61 L375.72 224.10 L376.81 223.60 L377.90 223.11 L378.99 222.63 L380.10 222.17 L381.20 221.72 L382.32 221.29 L383.43 220.87 L384.56 220.47 L385.69 220.09 L386.82 219.72 L387.97 219.38 L389.11 219.05 L390.26 218.74 L391.42 218.45 L392.58 218.18 L393.75 217.93 L394.92 217.69 L396.09 217.48 L397.27 217.28 L398.45 217.09 L399.64 216.93 L400.82 216.78 L402.01 216.64 L403.20 216.53 L404.39 216.42 L405.58 216.34 L406.77 216.27 L407.96 216.22 L409.16 216.19 L410.35 216.17 L411.54 216.18 L412.73 216.20 L413.92 216.24 L415.11 216.31 L416.30 216.39 L417.49 216.50 L418.68 216.62 L419.86 216.77 L421.04 216.93 L422.22 217.12 L423.40 217.31 L424.57 217.53 L425.75 217.76 L426.92 218.00 L428.08 218.26 L429.25 218.53 L430.42 218.81 L431.58 219.09 L432.74 219.38 L433.90 219.68 L435.06 219.98 L436.22 220.29 L437.38 220.59 L438.54 220.90 L439.70 221.21 L440.86 221.51 L442.01 221.82 L443.17 222.12 L444.33 222.42 L445.49 222.71 L446.66 222.99 L447.82 223.28 L448.98 223.56 L450.14 223.85 L451.30 224.15 L452.46 224.45 L453.62 224.76 L454.77 225.09 L455.92 225.43 L457.07 225.77 L458.21 226.12 L459.36 226.47 L460.50 226.83 L461.64 227.20 L462.78 227.57 L463.92 227.95 L465.05 228.33 L466.19 228.71 L467.32 229.10 L468.46 229.49 L469.59 229.89 L470.72 230.28 L471.86 230.68 L472.99 231.08 L474.12 231.48 L475.25 231.88 L476.38 232.29 L477.51 232.69 L478.64 233.10 L479.76 233.51 L480.89 233.92 L482.02 234.33 L483.14 234.74 L484.27 235.16 L485.39 235.58 L486.52 236.00 L487.64 236.42 L488.76 236.84 L489.88 237.26 L491.01 237.69 L492.13 238.11 L493.25 238.54 L494.37 238.96 L495.49 239.38 L496.61 239.81 L497.73 240.23 L498.86 240.65 L499.98 241.07 L501.11 241.48 L502.23 241.89 L503.36 242.30 L504.49 242.70 L505.62 243.09 L506.75 243.48 L507.89 243.87 L509.03 244.24 L510.17 244.62 L511.31 244.98 L512.45 245.34 L513.60 245.70 L514.75 246.05 L515.90 246.39 L517.05 246.73 L518.20 247.07 L519.35 247.40 L520.50 247.73 L521.66 248.05 L522.82 248.37 L523.97 248.68 L525.13 248.99 L526.29 249.30 L527.45 249.60 L528.62 249.89 L529.78 250.18 L530.94 250.47 L532.11 250.75 L533.28 251.03 L534.45 251.30 L535.62 251.57 L536.79 251.83 L537.96 252.09 L539.13 252.35 L540.30 252.60 L541.48 252.85 L542.65 253.09 L543.83 253.33 L545.00 253.57 L546.18 253.81 L547.35 254.05 L548.53 254.28 L549.71 254.51 L550.89 254.74 L552.06 254.97 L553.24 255.19 L554.42 255.41 L555.60 255.63 L556.78 255.85 L557.96 256.07 L559.14 256.28 L560.32 256.49 L561.51 256.69 L562.69 256.90 L563.87 257.10 L565.06 257.29 L566.24 257.48 L567.42 257.67 L568.61 257.85 L569.80 258.03 L570.98 258.20 L572.17 258.37 L573.36 258.54 L574.55 258.69 L575.74 258.85 L576.93 259.00 L578.12 259.14 L579.31 259.28 L580.50 259.41 L581.70 259.55 L582.89 259.67 L584.08 259.79 L585.28 259.91 L586.47 260.03 L587.66 260.14 L588.86 260.26 L590.05 260.37 L591.25 260.47 L592.44 260.58 L593.64 260.69 L594.83 260.80 L596.03 260.90 L597.22 261.01 L598.42 261.12 L599.61 261.23 L600.81 261.34 L602.00 261.46 L603.20 261.57 L604.39 261.69 L605.59 261.80 L606.78 261.92 L607.97 262.04 L609.17 262.16 L610.36 262.28 L611.56 262.40 L612.75 262.52 L613.94 262.64 L615.14 262.76 L616.33 262.87 L617.53 262.98 L618.72 263.09 L619.92 263.20 L621.11 263.31 L622.31 263.41 L623.50 263.51 L624.70 263.61 L625.89 263.70 L627.09 263.79 L628.29 263.88 L629.48 263.97 L630.68 264.05 L631.88 264.13 L633.08 264.21 L634.27 264.29 L635.47 264.36 L636.67 264.43 L637.87 264.50 L639.06 264.57 L640.26 264.64 L641.46 264.70 L642.66 264.76 L643.86 264.82 L645.06 264.88 L646.25 264.94 L647.45 264.99 L648.65 265.04 L649.85 265.10 L651.05 265.15 L652.25 265.19 L653.45 265.24 L654.65 265.28 L655.85 265.32 L657.05 265.37 L658.24 265.40 L659.44 265.44 L660.64 265.48 L661.84 265.51 L663.04 265.54 L664.24 265.57 L665.44 265.60 L666.64 265.63 L667.84 265.65 L669.04 265.68 L670.24 265.70 L671.44 265.72 L672.64 265.75 L673.84 265.77 L675.04 265.79 L676.24 265.81 L677.44 265.82 L678.64 265.84 L679.84 265.86 L681.04 265.88 L682.24 265.89 L683.44 265.91 L684.64 265.92 L685.84 265.94 L687.04 265.95 L688.24 265.97 L689.44 265.98 L690.64 266.00 L691.84 266.01 L693.04 266.02 L694.24 266.04 L695.44 266.05 L696.64 266.06 L697.84 266.08 L699.04 266.09 L700.24 266.10 L701.44 266.11 L702.64 266.13 L703.84 266.14 L705.04 266.15 L706.24 266.16 L707.44 266.17 L708.64 266.18 L709.84 266.20 L711.04 266.21 L712.24 266.22 L713.44 266.23 L714.64 266.24 L715.84 266.25 L717.04 266.26 L718.24 266.27 L719.44 266.28 L720.64 266.30 L721.84 266.31 L723.04 266.32 L724.24 266.33 L725.44 266.34 L726.64 266.35 L727.84 266.35 L729.04 266.36 L730.24 266.37 L731.44 266.38 L732.64 266.39 L733.84 266.40 L735.04 266.41 L736.24 266.42 L737.44 266.43 L738.64 266.43 L739.84 266.44 L741.04 266.45 L742.24 266.46 L743.44 266.46 L744.64 266.47 L745.84 266.48 L747.04 266.49 L748.24 266.49 L749.44 266.50 L749.84 266.50" stroke="#bfbf00"/>
<path d="M73.20 267.00 L74.40 267.00 L75.60 267.00 L76.80 267.00 L78.00 267.00 L79.20 267.00 L80.40 267.00 L81.60 267.00 L82.80 267.00 L84.00 267.00 L85.20 267.00 L86.40 267.00 L87.60 267.00 L88.80 267.00 L90.00 267.00 L91.20 267.00 L92.40 267.00 L93.60 267.00 L94.80 267.00 L96.00 267.00 L97.20 267.00 L98.40 267.00 L99.60 267.00 L100.80 267.00 L102.00 267.00 L103.20 267.00 L104.40 267.00 L105.60 267.00 L106.80 267.00 L108.00 267.00 L109.20 267.00 L110.40 267.00 L111.60 267.00 L112.80 267.00 L114.00 267.00 L115.20 267.00 L116.40 267.00 L117.60 267.00 L118.80 267.00 L120.00 267.00 L121.20 267.00 L122.40 267.00 L123.60 267.00 L124.80 267.00 L126.00 267.00 L127.20 267.00 L128.40 267.00 L129.60 267.00 L130.80 267.00 L132.00 267.00 L133.20 267.00 L134.40 267.00 L135.60 267.00 L136.80 267.00 L138.00 267.00 L139.20 267.00 L140.40 267.00 L141.60 267.00 L142.80 267.00 L144.00 267.00 L145.20 267.00 L146.40 267.00 L147.60 267.00 L148.80 267.00 L150.00 267.00 L151.20 267.00 L152.40 267.00 L153.60 267.00 L154.80 267.00 L156.00 267.00 L157.20 267.00 L158.40 267.00 L159.60 267.00 L160.80 267.00 L162.00 267.00 L163.20 267.00 L164.40 267.00 L165.60 267.00 L166.80 267.00 L168.00 267.00 L169.20 267.00 L170.40 267.00 L171.60 267.00 L172.80 267.00 L174.00 267.00 L175.20 267.00 L176.40 267.00 L177.60 267.00 L178.80 267.00 L180.00 267.00 L181.20 267.00 L182.40 267.00 L183.60 267.00 L184.80 267.00 L186.00 267.00 L187.20 267.00 L188.40 267.00 L189.60 267.00 L190.80 267.00 L192.00 267.00 L193.20 267.00 L194.40 267.00 L195.60 267.00 L196.80 267.00 L198.00 267.00 L199.20 267.00 L200.40 267.00 L201.60 267.00 L202.80 267.00 L204.00 267.00 L205.20 267.00 L206.40 267.00 L207.60 267.00 L208.80 267.00 L210.00 267.00 L211.20 267.00 L212.40 267.00 L213.60 267.00 L214.80 267.00 L216.00 267.00 L217.20 267.00 L218.40 267.00 L219.60 267.00 L220.80 267.00 L222.00 267.00 L223.20 267.00 L224.40 267.00 L225.60 267.00 L226.80 267.00 L228.00 267.00 L229.20 267.00 L230.40 267.00 L231.60 267.00 L232.80 267.00 L234.00 267.00 L235.20 267.00 L236.40 267.00 L237.60 267.00 L238.80 267.00 L240.00 267.00 L241.20 267.00 L242.40 267.00 L243.60 267.00 L244.80 267.00 L246.00 267.00 L247.20 267.00 L248.40 267.00 L249.60 267.00 L250.80 267.00 L252.00 267.00 L253.20 267.00 L254.40 267.00 L255.60 267.00 L256.80 267.00 L258.00 267.00 L259.20 267.00 L260.40 267.00 L261.60 267.00 L262.80 267.00 L264.00 267.00 L265.20 267.00 L266.40 267.00 L267.60 267.00 L268.80 267.00 L270.00 267.00 L271.20 267.00 L272.40 267.00 L273.60 267.00 L274.80 267.00 L276.00 267.00 L277.20 267.00 L278.40 267.00 L279.60 267.00 L280.80 267.00 L282.00 267.00 L283.20 267.00 L284.40 267.00 L285.60 267.00 L286.80 267.00 L288.00 267.00 L289.20 267.00 L290.40 267.00 L291.60 267.00 L292.80 267.00 L294.00 267.00 L295.20 267.00 L296.40 267.00 L297.60 267.00 L298.80 267.00 L300.00 267.00 L301.20 267.00 L302.40 267.00 L303.60 267.00 L304.80 267.00 L306.00 267.00 L307.19 267.00 L308.39 267.00 L309.59 267.00 L310.79 267.00 L311.98 267.00 L313.18 267.00 L314.37 266.96 L315.56 266.51 L316.76 266.40 L317.94 266.28 L319.13 266.15 L320.31 265.99 L321.50 265.82 L322.67 265.63 L323.85 265.43 L325.02 265.20 L326.18 264.95 L327.34 264.68 L328.50 264.39 L329.65 264.09 L330.80 263.76 L331.94 263.41 L333.07 263.04 L334.20 262.65 L335.32 262.25 L336.44 261.83 L337.55 261.39 L338.66 260.94 L339.76 260.48 L340.85 260.00 L341.94 259.50 L343.03 259.00 L344.11 258.48 L345.18 257.96 L346.25 257.42 L347.32 256.87 L348.38 256.32 L349.43 255.75 L350.48 255.18 L351.53 254.59 L352.57 254.00 L353.61 253.40 L354.64 252.79 L355.66 252.17 L356.69 251.54 L357.71 250.91 L358.72 250.27 L359.73 249.63 L360.74 248.98 L361.75 248.33 L362.75 247.67 L363.75 247.01 L364.75 246.35 L365.75 245.68 L366.74 245.02 L367.74 244.35 L368.74 243.68 L369.73 243.01 L370.73 242.35 L371.73 241.68 L372.73 241.02 L373.73 240.35 L374.73 239.69 L375.73 239.03 L376.73 238.37 L377.74 237.72 L378.74 237.06 L379.75 236.41 L380.75 235.75 L381.76 235.10 L382.77 234.46 L383.78 233.81 L384.80 233.17 L385.82 232.54 L386.84 231.91 L387.86 231.29 L388.89 230.68 L389.92 230.07 L390.96 229.47 L392.00 228.89 L393.05 228.31 L394.11 227.74 L395.16 227.19 L396.23 226.64 L397.30 226.10 L398.37 225.58 L399.45 225.06 L400.53 224.54 L401.62 224.04 L402.71 223.54 L403.80 223.04 L404.89 222.56 L405.99 222.07 L407.09 221.60 L408.19 221.13 L409.30 220.67 L410.41 220.22 L411.52 219.77 L412.63 219.34 L413.75 218.93 L414.88 218.52 L416.00 218.14 L417.14 217.77 L418.28 217.42 L419.42 217.10 L420.57 216.79 L421.72 216.51 L422.88 216.25 L424.05 216.02 L425.22 215.81 L426.39 215.63 L427.57 215.47 L428.75 215.33 L429.93 215.22 L431.12 215.14 L432.30 215.08 L433.49 215.04 L434.68 215.03 L435.87 215.04 L437.07 215.07 L438.26 215.12 L439.45 215.18 L440.64 215.27 L441.83 215.38 L443.01 215.50 L444.20 215.65 L445.39 215.80 L446.57 215.97 L447.75 216.16 L448.93 216.36 L450.11 216.58 L451.28 216.81 L452.45 217.05 L453.62 217.30 L454.79 217.57 L455.95 217.85 L457.11 218.14 L458.27 218.45 L459.42 218.76 L460.58 219.09 L461.72 219.43 L462.87 219.78 L464.01 220.14 L465.15 220.51 L466.29 220.89 L467.42 221.28 L468.55 221.67 L469.68 222.07 L470.81 222.48 L471.93 222.90 L473.06 223.32 L474.18 223.74 L475.30 224.17 L476.42 224.60 L477.54 225.02 L478.66 225.45 L479.78 225.88 L480.90 226.31 L482.03 226.73 L483.15 227.15 L484.27 227.57 L485.40 227.99 L486.52 228.40 L487.65 228.81 L488.78 229.21 L489.91 229.62 L491.04 230.02 L492.17 230.42 L493.31 230.81 L494.44 231.21 L495.57 231.61 L496.70 232.00 L497.83 232.40 L498.96 232.80 L500.09 233.21 L501.22 233.61 L502.35 234.03 L503.47 234.44 L504.59 234.86 L505.72 235.28 L506.84 235.71 L507.95 236.14 L509.07 236.58 L510.19 237.02 L511.30 237.46 L512.42 237.90 L513.53 238.34 L514.65 238.78 L515.76 239.22 L516.88 239.66 L518.00 240.09 L519.12 240.52 L520.24 240.95 L521.36 241.37 L522.49 241.79 L523.61 242.20 L524.74 242.61 L525.87 243.01 L527.00 243.40 L528.14 243.79 L529.27 244.17 L530.41 244.55 L531.55 244.92 L532.69 245.28 L533.84 245.63 L534.99 245.97 L536.14 246.31 L537.29 246.63 L538.45 246.95 L539.60 247.25 L540.77 247.55 L541.93 247.83 L543.09 248.11 L544.26 248.38 L545.43 248.65 L546.60 248.90 L547.77 249.16 L548.95 249.41 L550.12 249.65 L551.29 249.90 L552.47 250.14 L553.64 250.38 L554.82 250.62 L555.99 250.86 L557.17 251.10 L558.34 251.35 L559.52 251.59 L560.69 251.83 L561.87 252.07 L563.05 252.31 L564.22 252.56 L565.40 252.80 L566.57 253.04 L567.75 253.27 L568.92 253.51 L570.10 253.75 L571.28 253.98 L572.46 254.21 L573.63 254.44 L574.81 254.67 L575.99 254.89 L577.17 255.11 L578.35 255.33 L579.53 255.55 L580.71 255.76 L581.89 255.98 L583.07 256.19 L584.25 256.40 L585.44 256.61 L586.62 256.81 L587.80 257.02 L588.98 257.22 L590.17 257.42 L591.35 257.62 L592.53 257.82 L593.72 258.01 L594.90 258.21 L596.08 258.40 L597.27 258.59 L598.45 258.78 L599.64 258.96 L600.83 259.15 L602.01 259.32 L603.20 259.50 L604.39 259.67 L605.57 259.84 L606.76 260.01 L607.95 260.17 L609.14 260.33 L610.33 260.48 L611.52 260.63 L612.71 260.77 L613.90 260.92 L615.09 261.05 L616.29 261.18 L617.48 261.31 L618.67 261.43 L619.87 261.55 L621.06 261.67 L622.25 261.78 L623.45 261.88 L624.64 261.98 L625.84 262.08 L627.04 262.18 L628.23 262.27 L629.43 262.35 L630.63 262.44 L631.82 262.52 L633.02 262.60 L634.22 262.68 L635.42 262.76 L636.61 262.83 L637.81 262.91 L639.01 262.98 L640.21 263.05 L641.40 263.12 L642.60 263.19 L643.80 263.26 L645.00 263.33 L646.20 263.40 L647.39 263.46 L648.59 263.53 L649.79 263.59 L650.99 263.66 L652.19 263.72 L653.39 263.78 L654.58 263.84 L655.78 263.90 L656.98 263.96 L658.18 264.01 L659.38 264.07 L660.58 264.12 L661.78 264.17 L662.98 264.22 L664.17 264.27 L665.37 264.32 L666.57 264.36 L667.77 264.41 L668.97 264.45 L670.17 264.49 L671.37 264.53 L672.57 264.57 L673.77 264.61 L674.97 264.65 L676.17 264.68 L677.37 264.72 L678.57 264.75 L679.77 264.79 L680.96 264.82 L682.16 264.86 L683.36 264.89 L684.56 264.92 L685.76 264.96 L686.96 264.99 L688.16 265.02 L689.36 265.06 L690.56 265.09 L691.76 265.12 L692.96 265.15 L694.16 265.18 L695.36 265.21 L696.56 265.24 L697.76 265.27 L698.96 265.30 L700.16 265.33 L701.36 265.36 L702.56 265.38 L703.76 265.41 L704.96 265.43 L706.16 265.46 L707.36 265.48 L708.56 265.51 L709.76 265.53 L710.96 265.55 L712.16 265.57 L713.36 265.59 L714.56 265.61 L715.76 265.63 L716.95 265.65 L718.15 265.67 L719.35 265.69 L720.55 265.70 L721.75 265.72 L722.95 265.74 L724.15 265.75 L725.35 265.77 L726.55 265.78 L727.75 265.80 L728.95 265.81 L730.15 265.83 L731.35 265.84 L732.55 265.86 L733.75 265.87 L734.95 265.88 L736.15 265.89 L737.35 265.91 L738.55 265.92 L739.75 265.93 L740.95 265.94 L742.15 265.95 L743.35 265.96 L744.55 265.97 L745.75 265.98 L746.95 265.99 L748.15 265.99 L749.35 266.00 L749.75 266.00" stroke="#0000ff"/>
</g>
<rect x="73.50" y="6.00" width="676.50" height="261.00" fill="none" stroke="#000" stroke-width="1.75" stroke-linejoin="miter"/>
<path d="M107.33 267.00 V274.00 M174.97 267.00 V274.00 M242.62 267.00 V274.00 M310.27 267.00 V274.00 M377.93 267.00 V274.00 M445.57 267.00 V274.00 M513.23 267.00 V274.00 M580.88 267.00 V274.00 M648.52 267.00 V274.00 M716.17 267.00 V274.00 M73.50 267.00 H66.50 M73.50 180.00 H66.50 M73.50 93.00 H66.50 M73.50 6.00 H66.50" stroke="#000" stroke-width="1.75" fill="none"/>
<rect x="94.12" y="287.60" width="10.1" height="1.0" fill="#222"/>
<text x="105.23" y="292.20" font-size="16.20">40</text>
<rect x="161.78" y="287.60" width="10.1" height="1.0" fill="#222"/>
<text x="172.88" y="292.20" font-size="16.20">20</text>
<text transform="translate(242.62 292.20) scale(1.03 1)" font-size="16.20" text-anchor="middle">0</text>
<text transform="translate(310.27 292.20) scale(1.03 1)" font-size="16.20" text-anchor="middle">20</text>
<text transform="translate(377.93 292.20) scale(1.03 1)" font-size="16.20" text-anchor="middle">40</text>
<text transform="translate(445.57 292.20) scale(1.03 1)" font-size="16.20" text-anchor="middle">60</text>
<text transform="translate(513.23 292.20) scale(1.03 1)" font-size="16.20" text-anchor="middle">80</text>
<text transform="translate(580.88 292.20) scale(1.03 1)" font-size="16.20" text-anchor="middle">100</text>
<text transform="translate(648.52 292.20) scale(1.03 1)" font-size="16.20" text-anchor="middle">120</text>
<text transform="translate(716.17 292.20) scale(1.03 1)" font-size="16.20" text-anchor="middle">140</text>
<text transform="translate(57.90 272.50) scale(1.055 1)" font-size="16.20" text-anchor="end">0.00</text>
<text transform="translate(57.90 185.50) scale(1.055 1)" font-size="16.20" text-anchor="end">0.02</text>
<text transform="translate(57.90 98.50) scale(1.055 1)" font-size="16.20" text-anchor="end">0.04</text>
<text transform="translate(57.90 11.50) scale(1.055 1)" font-size="16.20" text-anchor="end">0.06</text>
<text x="412.05" y="312.90" font-size="20.80" text-anchor="middle" class="it">s</text>
<text transform="translate(15.70 157.02) rotate(-90) scale(1.414 1)" font-size="20.00" style="stroke:none" class="it">f</text>
<text transform="translate(18.50 147.98) rotate(-90) scale(1.017 1)" font-size="15.20" style="stroke:none" class="it">S</text>
<text transform="translate(15.50 137.84) rotate(-90) scale(0.867 1)" font-size="22.00" style="stroke:none">(</text>
<text transform="translate(15.70 131.35) rotate(-90) scale(1.024 1)" font-size="20.00" style="stroke:none" class="it">s</text>
<text transform="translate(15.50 122.29) rotate(-90) scale(0.690 1)" font-size="22.00" style="stroke:none">)</text>
<rect x="535.40" y="13.80" width="206.70" height="119.10" rx="3.5" ry="3.5" fill="#fff" stroke="#d2d2d2" stroke-width="1.90"/>
<path d="M541.00 26.10 H575.30" stroke="#008000" stroke-width="1.80"/>
<text x="587.48" y="32.00" font-size="17.50" class="it">α</text>
<text x="601.65" y="32.00" font-size="16.20" textLength="12.97" lengthAdjust="spacingAndGlyphs" dy="1.2">=</text>
<text x="614.38" y="32.00" font-size="16.20">0.01,</text>
<text x="652.06" y="32.00" font-size="18.50" class="it">β</text>
<text x="665.20" y="32.00" font-size="16.20" textLength="12.97" lengthAdjust="spacingAndGlyphs" dy="1.2">=</text>
<text x="677.43" y="32.00" font-size="16.20">0.01</text>
<path d="M541.00 48.80 H575.30" stroke="#ff0000" stroke-width="1.80"/>
<text x="587.48" y="54.70" font-size="17.50" class="it">α</text>
<text x="601.65" y="54.70" font-size="16.20" textLength="12.97" lengthAdjust="spacingAndGlyphs" dy="1.2">=</text>
<text x="614.38" y="54.70" font-size="16.20">0.01,</text>
<text x="652.06" y="54.70" font-size="18.50" class="it">β</text>
<text x="665.20" y="54.70" font-size="16.20" textLength="12.97" lengthAdjust="spacingAndGlyphs" dy="1.2">=</text>
<text x="676.62" y="54.70" font-size="16.20">1.00</text>
<path d="M541.00 71.50 H575.30" stroke="#000000" stroke-width="1.80"/>
<text x="587.48" y="77.40" font-size="17.50" class="it">α</text>
<text x="601.65" y="77.40" font-size="16.20" textLength="12.97" lengthAdjust="spacingAndGlyphs" dy="1.2">=</text>
<text x="614.38" y="77.40" font-size="16.20">0.01,</text>
<text x="652.06" y="77.40" font-size="18.50" class="it">β</text>
<text x="665.20" y="77.40" font-size="16.20" textLength="12.97" lengthAdjust="spacingAndGlyphs" dy="1.2">=</text>
<text x="677.34" y="77.40" font-size="16.20">25.00</text>
<path d="M541.00 94.20 H575.30" stroke="#bfbf00" stroke-width="1.80"/>
<text x="587.48" y="100.10" font-size="17.50" class="it">α</text>
<text x="601.65" y="100.10" font-size="16.20" textLength="12.97" lengthAdjust="spacingAndGlyphs" dy="1.2">=</text>
<text x="614.38" y="100.10" font-size="16.20">0.01,</text>
<text x="652.06" y="100.10" font-size="18.50" class="it">β</text>
<text x="665.20" y="100.10" font-size="16.20" textLength="12.97" lengthAdjust="spacingAndGlyphs" dy="1.2">=</text>
<text x="677.11" y="100.10" font-size="16.20">50.00</text>
<path d="M541.00 116.90 H575.30" stroke="#0000ff" stroke-width="1.80"/>
<text x="587.48" y="122.80" font-size="17.50" class="it">α</text>
<text x="601.65" y="122.80" font-size="16.20" textLength="12.97" lengthAdjust="spacingAndGlyphs" dy="1.2">=</text>
<text x="614.38" y="122.80" font-size="16.20">0.01,</text>
<text x="652.06" y="122.80" font-size="18.50" class="it">β</text>
<text x="665.20" y="122.80" font-size="16.20" textLength="12.97" lengthAdjust="spacingAndGlyphs" dy="1.2">=</text>
<text x="676.62" y="122.80" font-size="16.20">100.00</text>
<clipPath id="c1"><rect x="73.50" y="359.00" width="676.50" height="261.00"/></clipPath>
<g clip-path="url(#c1)" fill="none" stroke-width="1.80" stroke-linejoin="round" stroke-linecap="butt">
<path d="M73.20 617.50 L74.40 617.46 L75.60 617.41 L76.80 617.36 L78.00 617.31 L79.19 617.25 L80.39 617.19 L81.59 617.13 L82.79 617.07 L83.99 617.00 L85.19 616.93 L86.38 616.86 L87.58 616.79 L88.78 616.71 L89.98 616.63 L91.17 616.55 L92.37 616.47 L93.57 616.38 L94.76 616.29 L95.96 616.20 L97.16 616.10 L98.35 616.00 L99.55 615.90 L100.74 615.79 L101.94 615.68 L103.13 615.56 L104.32 615.45 L105.52 615.32 L106.71 615.20 L107.90 615.07 L109.09 614.93 L110.29 614.80 L111.48 614.66 L112.67 614.52 L113.86 614.38 L115.05 614.24 L116.24 614.10 L117.44 613.96 L118.63 613.82 L119.82 613.68 L121.01 613.54 L122.20 613.40 L123.39 613.26 L124.58 613.12 L125.77 612.97 L126.96 612.83 L128.15 612.67 L129.34 612.51 L130.53 612.35 L131.71 612.17 L132.90 611.99 L134.08 611.79 L135.26 611.58 L136.43 611.36 L137.60 611.13 L138.77 610.89 L139.94 610.63 L141.11 610.35 L142.27 610.06 L143.42 609.76 L144.57 609.44 L145.72 609.10 L146.86 608.75 L148.00 608.38 L149.13 608.00 L150.26 607.60 L151.38 607.19 L152.49 606.76 L153.60 606.32 L154.70 605.86 L155.80 605.38 L156.89 604.89 L157.97 604.38 L159.04 603.86 L160.11 603.32 L161.17 602.76 L162.22 602.19 L163.26 601.61 L164.29 601.01 L165.32 600.40 L166.33 599.77 L167.34 599.13 L168.35 598.48 L169.34 597.81 L170.33 597.13 L171.30 596.44 L172.27 595.74 L173.23 595.03 L174.19 594.31 L175.13 593.58 L176.06 592.83 L176.99 592.07 L177.91 591.31 L178.81 590.53 L179.71 589.74 L180.60 588.94 L181.48 588.12 L182.35 587.30 L183.21 586.47 L184.06 585.63 L184.90 584.78 L185.74 583.92 L186.57 583.06 L187.39 582.19 L188.21 581.31 L189.02 580.43 L189.82 579.54 L190.62 578.65 L191.42 577.75 L192.20 576.85 L192.99 575.94 L193.76 575.03 L194.53 574.11 L195.29 573.19 L196.04 572.25 L196.78 571.32 L197.52 570.37 L198.24 569.42 L198.96 568.46 L199.67 567.50 L200.38 566.54 L201.08 565.57 L201.78 564.60 L202.48 563.63 L203.17 562.65 L203.86 561.68 L204.56 560.71 L205.27 559.75 L205.99 558.79 L206.72 557.85 L207.47 556.92 L208.25 556.01 L209.03 555.12 L209.83 554.24 L210.64 553.36 L211.46 552.50 L212.29 551.66 L213.15 550.83 L214.01 550.02 L214.90 549.23 L215.80 548.46 L216.72 547.71 L217.65 546.98 L218.58 546.26 L219.52 545.53 L220.47 544.82 L221.44 544.13 L222.43 543.48 L223.46 542.89 L224.52 542.35 L225.60 541.85 L226.69 541.38 L227.80 540.95 L228.93 540.55 L230.06 540.17 L231.19 539.78 L232.32 539.38 L233.43 538.97 L234.55 538.56 L235.67 538.16 L236.81 537.77 L237.94 537.40 L239.07 537.01 L240.19 536.61 L241.29 536.16 L242.37 535.68 L243.43 535.16 L244.47 534.61 L245.49 534.01 L246.48 533.37 L247.44 532.69 L248.36 531.96 L249.25 531.19 L250.10 530.39 L250.93 529.56 L251.73 528.70 L252.50 527.81 L253.24 526.89 L253.94 525.93 L254.60 524.95 L255.21 523.93 L255.77 522.89 L256.32 521.84 L256.86 520.78 L257.39 519.72 L257.90 518.65 L258.40 517.58 L258.88 516.49 L259.34 515.39 L259.77 514.29 L260.19 513.17 L260.58 512.05 L260.96 510.91 L261.32 509.78 L261.66 508.63 L261.98 507.48 L262.29 506.33 L262.59 505.17 L262.87 504.01 L263.15 502.85 L263.41 501.68 L263.67 500.51 L263.92 499.34 L264.17 498.16 L264.41 496.99 L264.65 495.82 L264.90 494.64 L265.14 493.47 L265.38 492.29 L265.63 491.12 L265.88 489.95 L266.13 488.77 L266.39 487.60 L266.64 486.43 L266.90 485.26 L267.16 484.09 L267.42 482.92 L267.68 481.74 L267.95 480.57 L268.21 479.40 L268.47 478.23 L268.73 477.06 L268.98 475.89 L269.23 474.72 L269.49 473.54 L269.73 472.37 L269.98 471.19 L270.22 470.02 L270.45 468.84 L270.69 467.67 L270.92 466.49 L271.15 465.31 L271.38 464.13 L271.60 462.96 L271.83 461.78 L272.06 460.60 L272.29 459.42 L272.52 458.25 L272.76 457.08 L273.00 455.90 L273.26 454.74 L273.52 453.57 L273.79 452.42 L274.07 451.27 L274.36 450.13 L274.67 449.00 L275.00 447.89 L275.34 446.81 L275.69 445.74 L276.04 444.66 L276.36 443.50 L276.66 442.25 L276.94 440.95 L277.24 439.71 L277.61 438.55 L278.05 437.43 L278.56 436.35 L279.19 435.34 L279.97 434.49 L280.90 434.07 L281.85 434.35 L282.64 435.16 L283.20 436.19 L283.60 437.31 L283.95 438.46 L284.26 439.63 L284.52 440.85 L284.74 442.15 L284.98 443.45 L285.27 444.65 L285.58 445.76 L285.89 446.84 L286.21 447.93 L286.50 449.04 L286.79 450.17 L287.07 451.32 L287.34 452.47 L287.60 453.63 L287.85 454.80 L288.09 455.97 L288.33 457.14 L288.56 458.32 L288.79 459.49 L289.01 460.67 L289.23 461.85 L289.45 463.03 L289.66 464.21 L289.86 465.39 L290.07 466.58 L290.27 467.76 L290.46 468.94 L290.66 470.13 L290.85 471.31 L291.04 472.50 L291.23 473.68 L291.41 474.87 L291.60 476.05 L291.78 477.24 L291.96 478.42 L292.14 479.61 L292.32 480.80 L292.50 481.98 L292.68 483.17 L292.86 484.36 L293.04 485.54 L293.21 486.73 L293.39 487.92 L293.57 489.10 L293.75 490.29 L293.92 491.48 L294.10 492.66 L294.28 493.85 L294.46 495.04 L294.63 496.22 L294.81 497.41 L294.99 498.60 L295.17 499.79 L295.34 500.97 L295.52 502.16 L295.70 503.35 L295.88 504.53 L296.06 505.72 L296.24 506.91 L296.41 508.09 L296.59 509.28 L296.77 510.47 L296.95 511.65 L297.12 512.84 L297.30 514.03 L297.47 515.21 L297.64 516.40 L297.82 517.59 L297.98 518.78 L298.15 519.96 L298.32 521.15 L298.48 522.34 L298.64 523.53 L298.80 524.72 L298.96 525.91 L299.11 527.10 L299.26 528.29 L299.42 529.48 L299.57 530.67 L299.72 531.86 L299.87 533.05 L300.02 534.24 L300.17 535.43 L300.33 536.62 L300.48 537.81 L300.64 539.00 L300.80 540.19 L300.97 541.38 L301.14 542.56 L301.31 543.75 L301.49 544.94 L301.67 546.12 L301.86 547.31 L302.06 548.49 L302.26 549.67 L302.47 550.85 L302.69 552.03 L302.92 553.21 L303.15 554.38 L303.39 555.56 L303.64 556.73 L303.90 557.90 L304.16 559.07 L304.42 560.24 L304.70 561.41 L304.98 562.57 L305.26 563.74 L305.54 564.90 L305.83 566.07 L306.13 567.23 L306.42 568.39 L306.73 569.55 L307.03 570.71 L307.34 571.87 L307.66 573.03 L307.98 574.18 L308.31 575.33 L308.65 576.48 L309.00 577.63 L309.36 578.77 L309.73 579.90 L310.12 581.04 L310.52 582.16 L310.93 583.28 L311.36 584.40 L311.80 585.51 L312.26 586.61 L312.74 587.70 L313.23 588.79 L313.75 589.86 L314.28 590.93 L314.82 591.99 L315.39 593.04 L315.98 594.07 L316.58 595.10 L317.21 596.11 L317.85 597.11 L318.51 598.10 L319.19 599.08 L319.89 600.04 L320.60 600.99 L321.33 601.92 L322.08 602.84 L322.84 603.75 L323.61 604.65 L324.36 605.58 L325.09 606.54 L325.83 607.51 L326.58 608.45 L327.36 609.37 L328.16 610.26 L329.02 611.08 L329.95 611.80 L330.95 612.41 L332.02 612.92 L333.13 613.33 L334.28 613.64 L335.46 613.88 L336.65 614.06 L337.85 614.25 L339.03 614.47 L340.19 614.73 L341.34 615.01 L342.50 615.28 L343.66 615.52 L344.83 615.76 L346.01 615.99 L347.18 616.21 L348.36 616.44 L349.54 616.65 L350.71 616.85 L351.90 617.04 L353.08 617.21 L354.27 617.36 L355.46 617.49 L356.65 617.63 L357.84 617.76 L359.03 617.88 L360.22 618.00 L361.42 618.12 L362.61 618.22 L363.80 618.32 L365.00 618.40 L366.20 618.49 L367.39 618.56 L368.59 618.63 L369.79 618.70 L370.99 618.76 L372.18 618.82 L373.38 618.87 L374.58 618.92 L375.78 618.96 L376.98 619.01 L378.18 619.05 L379.38 619.09 L380.58 619.12 L381.78 619.16 L382.98 619.19 L384.17 619.22 L385.37 619.25 L386.57 619.28 L387.77 619.31 L388.97 619.33 L390.17 619.35 L391.37 619.37 L392.57 619.39 L393.77 619.41 L394.97 619.42 L396.17 619.44 L397.37 619.45 L398.57 619.46 L399.77 619.47 L400.97 619.48 L402.17 619.49 L403.37 619.50 L404.57 619.51 L405.77 619.51 L406.97 619.52 L408.17 619.52 L409.37 619.53 L410.57 619.53 L411.77 619.54 L412.97 619.54 L414.17 619.55 L415.37 619.55 L416.57 619.56 L417.77 619.56 L418.97 619.56 L420.17 619.57 L421.37 619.57 L422.57 619.58 L423.77 619.58 L424.97 619.58 L426.17 619.59 L427.37 619.59 L428.57 619.60 L429.77 619.60 L430.97 619.60 L432.17 619.61 L433.37 619.61 L434.57 619.61 L435.77 619.62 L436.97 619.62 L438.17 619.62 L439.37 619.63 L440.57 619.63 L441.77 619.64 L442.97 619.64 L444.17 619.64 L445.37 619.65 L446.57 619.65 L447.77 619.65 L448.97 619.66 L450.17 619.66 L451.37 619.66 L452.57 619.67 L453.77 619.67 L454.97 619.67 L456.17 619.68 L457.37 619.68 L458.57 619.68 L459.77 619.69 L460.97 619.69 L462.17 619.69 L463.37 619.70 L464.57 619.70 L465.77 619.70 L466.97 619.70 L468.17 619.71 L469.37 619.71 L470.57 619.71 L471.77 619.72 L472.97 619.72 L474.17 619.72 L475.37 619.73 L476.57 619.73 L477.77 619.73 L478.97 619.73 L480.17 619.74 L481.37 619.74 L482.57 619.74 L483.77 619.75 L484.97 619.75 L486.17 619.75 L487.37 619.75 L488.57 619.76 L489.77 619.76 L490.97 619.76 L492.17 619.76 L493.37 619.77 L494.57 619.77 L495.77 619.77 L496.97 619.77 L498.17 619.78 L499.37 619.78 L500.57 619.78 L501.77 619.79 L502.97 619.79 L504.17 619.79 L505.37 619.79 L506.57 619.80 L507.77 619.80 L508.97 619.80 L510.17 619.80 L511.37 619.80 L512.57 619.81 L513.77 619.81 L514.97 619.81 L516.17 619.81 L517.37 619.82 L518.57 619.82 L519.77 619.82 L520.97 619.82 L522.17 619.83 L523.37 619.83 L524.57 619.83 L525.77 619.83 L526.97 619.83 L528.17 619.84 L529.37 619.84 L530.57 619.84 L531.77 619.84 L532.97 619.84 L534.17 619.85 L535.37 619.85 L536.57 619.85 L537.77 619.85 L538.97 619.85 L540.17 619.86 L541.37 619.86 L542.57 619.86 L543.77 619.86 L544.97 619.86 L546.17 619.87 L547.37 619.87 L548.57 619.87 L549.77 619.87 L550.97 619.87 L552.17 619.88 L553.37 619.88 L554.57 619.88 L555.77 619.88 L556.97 619.88 L558.17 619.88 L559.37 619.89 L560.57 619.89 L561.77 619.89 L562.97 619.89 L564.17 619.89 L565.37 619.89 L566.57 619.90 L567.77 619.90 L568.97 619.90 L570.17 619.90 L571.37 619.90 L572.57 619.90 L573.77 619.90 L574.97 619.91 L576.17 619.91 L577.37 619.91 L578.57 619.91 L579.77 619.91 L580.97 619.91 L582.17 619.92 L583.37 619.92 L584.57 619.92 L585.77 619.92 L586.97 619.92 L588.17 619.92 L589.37 619.92 L590.57 619.92 L591.77 619.93 L592.97 619.93 L594.17 619.93 L595.37 619.93 L596.57 619.93 L597.77 619.93 L598.97 619.93 L600.17 619.93 L601.37 619.94 L602.57 619.94 L603.77 619.94 L604.97 619.94 L606.17 619.94 L607.37 619.94 L608.57 619.94 L609.77 619.94 L610.97 619.94 L612.17 619.95 L613.37 619.95 L614.57 619.95 L615.77 619.95 L616.97 619.95 L618.17 619.95 L619.37 619.95 L620.57 619.95 L621.77 619.95 L622.97 619.96 L624.17 619.96 L625.37 619.96 L626.57 619.96 L627.77 619.96 L628.97 619.96 L630.17 619.96 L631.37 619.96 L632.57 619.96 L633.77 619.96 L634.97 619.96 L636.17 619.97 L637.37 619.97 L638.57 619.97 L639.77 619.97 L640.97 619.97 L642.17 619.97 L643.37 619.97 L644.57 619.97 L645.77 619.97 L646.97 619.97 L648.17 619.97 L649.37 619.97 L650.57 619.97 L651.77 619.97 L652.97 619.98 L654.17 619.98 L655.37 619.98 L656.57 619.98 L657.77 619.98 L658.97 619.98 L660.17 619.98 L661.37 619.98 L662.57 619.98 L663.77 619.98 L664.97 619.98 L666.17 619.98 L667.37 619.98 L668.57 619.98 L669.77 619.98 L670.97 619.98 L672.17 619.99 L673.37 619.99 L674.57 619.99 L675.77 619.99 L676.97 619.99 L678.17 619.99 L679.37 619.99 L680.57 619.99 L681.77 619.99 L682.97 619.99 L684.17 619.99 L685.37 619.99 L686.57 619.99 L687.77 619.99 L688.97 619.99 L690.17 619.99 L691.37 619.99 L692.57 619.99 L693.77 619.99 L694.97 619.99 L696.17 619.99 L697.37 619.99 L698.57 619.99 L699.77 619.99 L700.97 619.99 L702.17 619.99 L703.37 620.00 L704.57 620.00 L705.77 620.00 L706.97 620.00 L708.17 620.00 L709.37 620.00 L710.57 620.00 L711.77 620.00 L712.97 620.00 L714.17 620.00 L715.37 620.00 L716.57 620.00 L717.77 620.00 L718.97 620.00 L720.17 620.00 L721.37 620.00 L722.57 620.00 L723.77 620.00 L724.97 620.00 L726.17 620.00 L727.37 620.00 L728.57 620.00 L729.77 620.00 L730.97 620.00 L732.17 620.00 L733.37 620.00 L734.57 620.00 L735.77 620.00 L736.97 620.00 L738.17 620.00 L739.37 620.00 L740.57 620.00 L741.77 620.00 L742.97 620.00 L744.17 620.00 L745.37 620.00 L746.57 620.00 L747.77 620.00 L748.97 620.00 L749.77 620.00" stroke="#008000"/>
<path d="M73.20 618.50 L74.40 618.50 L75.60 618.50 L76.80 618.49 L78.00 618.49 L79.20 618.48 L80.40 618.47 L81.60 618.46 L82.80 618.45 L84.00 618.44 L85.20 618.43 L86.40 618.42 L87.60 618.41 L88.80 618.39 L90.00 618.38 L91.20 618.37 L92.40 618.35 L93.60 618.34 L94.80 618.32 L96.00 618.30 L97.20 618.29 L98.40 618.27 L99.60 618.25 L100.80 618.23 L102.00 618.21 L103.20 618.19 L104.40 618.17 L105.60 618.15 L106.80 618.12 L108.00 618.10 L109.20 618.07 L110.40 618.04 L111.60 618.01 L112.80 617.98 L113.99 617.95 L115.19 617.92 L116.39 617.88 L117.59 617.84 L118.79 617.80 L119.99 617.76 L121.19 617.72 L122.39 617.67 L123.59 617.62 L124.79 617.57 L125.99 617.52 L127.18 617.46 L128.38 617.40 L129.58 617.33 L130.78 617.27 L131.98 617.19 L133.17 617.12 L134.37 617.04 L135.57 616.95 L136.76 616.86 L137.96 616.77 L139.15 616.67 L140.35 616.57 L141.54 616.46 L142.74 616.34 L143.93 616.22 L145.12 616.09 L146.31 615.96 L147.51 615.82 L148.70 615.67 L149.88 615.52 L151.07 615.35 L152.26 615.18 L153.44 615.01 L154.63 614.82 L155.81 614.62 L156.99 614.42 L158.17 614.20 L159.34 613.98 L160.52 613.74 L161.69 613.49 L162.86 613.23 L164.02 612.95 L165.18 612.67 L166.34 612.36 L167.49 612.05 L168.64 611.72 L169.78 611.37 L170.92 611.02 L172.06 610.65 L173.19 610.27 L174.32 609.87 L175.43 609.45 L176.55 609.01 L177.65 608.55 L178.74 608.07 L179.83 607.58 L180.92 607.07 L182.00 606.55 L183.07 606.02 L184.14 605.49 L185.21 604.95 L186.27 604.40 L187.33 603.84 L188.38 603.27 L189.43 602.69 L190.48 602.11 L191.52 601.52 L192.56 600.92 L193.60 600.32 L194.64 599.71 L195.67 599.10 L196.70 598.49 L197.72 597.87 L198.75 597.25 L199.77 596.62 L200.79 595.99 L201.81 595.35 L202.82 594.71 L203.83 594.07 L204.84 593.42 L205.85 592.76 L206.85 592.11 L207.85 591.45 L208.85 590.79 L209.85 590.12 L210.85 589.46 L211.85 588.79 L212.85 588.13 L213.85 587.47 L214.85 586.82 L215.86 586.17 L216.87 585.53 L217.88 584.90 L218.90 584.28 L219.93 583.67 L220.97 583.07 L222.01 582.48 L223.06 581.91 L224.11 581.34 L225.17 580.79 L226.23 580.24 L227.30 579.71 L228.37 579.17 L229.44 578.64 L230.51 578.11 L231.58 577.57 L232.65 577.03 L233.71 576.49 L234.76 575.93 L235.81 575.36 L236.84 574.78 L237.87 574.18 L238.89 573.57 L239.91 572.96 L240.93 572.36 L241.96 571.75 L242.97 571.11 L243.94 570.43 L244.87 569.69 L245.77 568.92 L246.63 568.10 L247.45 567.25 L248.24 566.36 L248.99 565.43 L249.68 564.47 L250.34 563.47 L250.97 562.46 L251.59 561.45 L252.22 560.44 L252.85 559.43 L253.45 558.42 L254.04 557.38 L254.61 556.34 L255.16 555.28 L255.68 554.22 L256.19 553.14 L256.68 552.05 L257.16 550.96 L257.62 549.86 L258.07 548.75 L258.50 547.63 L258.92 546.51 L259.33 545.39 L259.72 544.26 L260.11 543.13 L260.49 541.99 L260.86 540.85 L261.22 539.71 L261.58 538.56 L261.93 537.41 L262.27 536.26 L262.60 535.11 L262.92 533.96 L263.24 532.80 L263.55 531.65 L263.86 530.49 L264.15 529.32 L264.44 528.16 L264.73 527.00 L265.00 525.83 L265.27 524.66 L265.53 523.49 L265.78 522.32 L266.02 521.14 L266.26 519.97 L266.50 518.79 L266.72 517.61 L266.94 516.44 L267.16 515.26 L267.37 514.07 L267.58 512.89 L267.78 511.71 L267.98 510.53 L268.18 509.34 L268.37 508.16 L268.57 506.98 L268.76 505.79 L268.95 504.61 L269.13 503.42 L269.32 502.24 L269.51 501.05 L269.69 499.87 L269.88 498.68 L270.07 497.50 L270.26 496.31 L270.45 495.13 L270.64 493.94 L270.83 492.76 L271.02 491.57 L271.22 490.39 L271.41 489.20 L271.61 488.02 L271.80 486.84 L272.00 485.65 L272.19 484.47 L272.38 483.28 L272.57 482.10 L272.76 480.91 L272.94 479.73 L273.13 478.54 L273.31 477.36 L273.48 476.17 L273.66 474.98 L273.83 473.79 L274.00 472.61 L274.16 471.42 L274.33 470.23 L274.49 469.04 L274.64 467.85 L274.80 466.66 L274.95 465.47 L275.10 464.28 L275.25 463.09 L275.40 461.90 L275.55 460.71 L275.70 459.52 L275.85 458.33 L276.00 457.14 L276.15 455.95 L276.31 454.76 L276.46 453.57 L276.62 452.38 L276.78 451.19 L276.95 450.00 L277.11 448.81 L277.28 447.63 L277.46 446.44 L277.63 445.25 L277.81 444.07 L277.99 442.88 L278.18 441.69 L278.37 440.51 L278.56 439.33 L278.76 438.14 L278.96 436.96 L279.16 435.78 L279.37 434.60 L279.59 433.42 L279.81 432.25 L280.05 431.07 L280.28 429.91 L280.53 428.75 L280.79 427.59 L281.06 426.45 L281.34 425.32 L281.63 424.22 L281.94 423.13 L282.26 422.07 L282.58 421.00 L282.88 419.86 L283.16 418.59 L283.43 417.25 L283.71 415.97 L284.03 414.78 L284.39 413.63 L284.82 412.51 L285.37 411.47 L286.07 410.66 L286.90 410.53 L287.65 411.18 L288.20 412.20 L288.58 413.32 L288.88 414.48 L289.14 415.66 L289.39 416.87 L289.60 418.18 L289.81 419.51 L290.06 420.75 L290.33 421.88 L290.61 422.96 L290.89 424.05 L291.15 425.16 L291.41 426.29 L291.66 427.44 L291.90 428.59 L292.14 429.75 L292.37 430.92 L292.59 432.10 L292.81 433.27 L293.03 434.45 L293.25 435.63 L293.46 436.81 L293.67 437.99 L293.88 439.17 L294.09 440.35 L294.30 441.53 L294.51 442.71 L294.71 443.90 L294.91 445.08 L295.11 446.26 L295.31 447.45 L295.50 448.63 L295.69 449.81 L295.88 451.00 L296.06 452.19 L296.23 453.37 L296.40 454.56 L296.57 455.75 L296.73 456.94 L296.89 458.12 L297.04 459.31 L297.19 460.50 L297.34 461.69 L297.49 462.89 L297.63 464.08 L297.78 465.27 L297.92 466.46 L298.06 467.65 L298.20 468.84 L298.35 470.03 L298.49 471.22 L298.64 472.42 L298.78 473.61 L298.93 474.80 L299.08 475.99 L299.24 477.18 L299.39 478.37 L299.55 479.56 L299.71 480.75 L299.87 481.94 L300.03 483.12 L300.20 484.31 L300.36 485.50 L300.53 486.69 L300.70 487.88 L300.87 489.06 L301.05 490.25 L301.22 491.44 L301.39 492.63 L301.57 493.81 L301.75 495.00 L301.92 496.19 L302.10 497.37 L302.28 498.56 L302.46 499.75 L302.64 500.93 L302.81 502.12 L302.99 503.31 L303.17 504.49 L303.34 505.68 L303.52 506.87 L303.69 508.06 L303.87 509.24 L304.04 510.43 L304.21 511.62 L304.39 512.81 L304.56 513.99 L304.72 515.18 L304.89 516.37 L305.06 517.56 L305.22 518.75 L305.38 519.94 L305.54 521.13 L305.70 522.31 L305.86 523.50 L306.02 524.69 L306.17 525.88 L306.33 527.07 L306.48 528.26 L306.64 529.45 L306.80 530.64 L306.96 531.83 L307.13 533.02 L307.29 534.21 L307.47 535.39 L307.64 536.58 L307.83 537.76 L308.01 538.95 L308.21 540.13 L308.41 541.31 L308.61 542.50 L308.83 543.68 L309.05 544.85 L309.27 546.03 L309.50 547.21 L309.74 548.38 L309.98 549.56 L310.23 550.73 L310.49 551.90 L310.74 553.08 L311.01 554.25 L311.28 555.42 L311.55 556.58 L311.83 557.75 L312.11 558.92 L312.39 560.08 L312.68 561.25 L312.98 562.41 L313.28 563.57 L313.59 564.73 L313.90 565.89 L314.21 567.05 L314.53 568.20 L314.86 569.35 L315.19 570.51 L315.53 571.66 L315.88 572.80 L316.23 573.95 L316.59 575.09 L316.96 576.23 L317.34 577.37 L317.72 578.50 L318.12 579.63 L318.53 580.76 L318.95 581.87 L319.39 582.99 L319.84 584.09 L320.30 585.19 L320.77 586.29 L321.26 587.37 L321.76 588.46 L322.28 589.53 L322.82 590.58 L323.40 591.62 L324.00 592.64 L324.63 593.64 L325.30 594.62 L326.00 595.57 L326.73 596.50 L327.49 597.41 L328.26 598.30 L329.05 599.17 L329.86 600.03 L330.69 600.87 L331.55 601.68 L332.43 602.46 L333.33 603.23 L334.25 603.97 L335.19 604.68 L336.14 605.37 L337.12 606.04 L338.12 606.68 L339.13 607.30 L340.15 607.89 L341.19 608.46 L342.24 609.01 L343.30 609.55 L344.36 610.07 L345.44 610.58 L346.53 611.06 L347.63 611.51 L348.75 611.93 L349.88 612.31 L351.02 612.67 L352.17 613.00 L353.32 613.29 L354.48 613.57 L355.65 613.84 L356.81 614.10 L357.98 614.35 L359.15 614.59 L360.33 614.82 L361.50 615.03 L362.68 615.23 L363.86 615.42 L365.05 615.59 L366.23 615.76 L367.42 615.91 L368.61 616.05 L369.80 616.18 L370.99 616.30 L372.19 616.42 L373.38 616.53 L374.58 616.63 L375.77 616.72 L376.97 616.81 L378.16 616.90 L379.36 616.98 L380.56 617.06 L381.76 617.13 L382.95 617.20 L384.15 617.27 L385.35 617.33 L386.55 617.39 L387.75 617.45 L388.95 617.51 L390.14 617.57 L391.34 617.62 L392.54 617.67 L393.74 617.72 L394.94 617.76 L396.14 617.81 L397.34 617.85 L398.54 617.89 L399.74 617.92 L400.94 617.96 L402.14 617.99 L403.33 618.03 L404.53 618.06 L405.73 618.08 L406.93 618.11 L408.13 618.14 L409.33 618.16 L410.53 618.18 L411.73 618.21 L412.93 618.23 L414.13 618.25 L415.33 618.26 L416.53 618.28 L417.73 618.30 L418.93 618.32 L420.13 618.33 L421.33 618.35 L422.53 618.36 L423.73 618.38 L424.93 618.39 L426.13 618.41 L427.33 618.42 L428.53 618.43 L429.73 618.45 L430.93 618.46 L432.13 618.47 L433.33 618.49 L434.53 618.50 L435.73 618.51 L436.93 618.52 L438.13 618.53 L439.33 618.54 L440.53 618.55 L441.73 618.56 L442.93 618.57 L444.13 618.58 L445.33 618.59 L446.53 618.60 L447.73 618.61 L448.93 618.62 L450.13 618.63 L451.33 618.64 L452.53 618.65 L453.73 618.65 L454.93 618.66 L456.13 618.67 L457.33 618.68 L458.53 618.69 L459.73 618.69 L460.93 618.70 L462.13 618.71 L463.33 618.71 L464.53 618.72 L465.73 618.73 L466.93 618.73 L468.13 618.74 L469.33 618.75 L470.53 618.75 L471.73 618.76 L472.93 618.77 L474.13 618.77 L475.33 618.78 L476.53 618.78 L477.73 618.79 L478.93 618.79 L480.13 618.80 L481.33 618.81 L482.53 618.81 L483.73 618.82 L484.93 618.82 L486.13 618.83 L487.33 618.83 L488.53 618.84 L489.73 618.84 L490.93 618.85 L492.13 618.85 L493.33 618.86 L494.53 618.86 L495.73 618.87 L496.93 618.87 L498.13 618.88 L499.33 618.88 L500.53 618.89 L501.73 618.89 L502.93 618.90 L504.13 618.90 L505.33 618.91 L506.53 618.91 L507.73 618.92 L508.93 618.92 L510.13 618.93 L511.33 618.93 L512.53 618.94 L513.73 618.94 L514.93 618.95 L516.13 618.95 L517.33 618.96 L518.53 618.96 L519.73 618.97 L520.93 618.97 L522.13 618.98 L523.33 618.98 L524.53 618.99 L525.73 618.99 L526.93 619.00 L528.13 619.00 L529.33 619.01 L530.53 619.01 L531.73 619.02 L532.93 619.02 L534.13 619.03 L535.33 619.03 L536.53 619.04 L537.73 619.04 L538.93 619.05 L540.13 619.05 L541.33 619.05 L542.53 619.06 L543.73 619.06 L544.93 619.07 L546.13 619.07 L547.33 619.08 L548.53 619.08 L549.73 619.09 L550.93 619.09 L552.13 619.10 L553.33 619.10 L554.53 619.10 L555.73 619.11 L556.93 619.11 L558.13 619.12 L559.33 619.12 L560.53 619.13 L561.73 619.13 L562.93 619.13 L564.13 619.14 L565.33 619.14 L566.53 619.15 L567.73 619.15 L568.93 619.16 L570.13 619.16 L571.33 619.16 L572.53 619.17 L573.73 619.17 L574.93 619.18 L576.13 619.18 L577.33 619.18 L578.53 619.19 L579.73 619.19 L580.93 619.20 L582.13 619.20 L583.33 619.20 L584.53 619.21 L585.73 619.21 L586.93 619.22 L588.13 619.22 L589.33 619.22 L590.53 619.23 L591.73 619.23 L592.93 619.23 L594.13 619.24 L595.33 619.24 L596.53 619.25 L597.73 619.25 L598.93 619.25 L600.13 619.26 L601.33 619.26 L602.53 619.26 L603.73 619.27 L604.93 619.27 L606.13 619.27 L607.33 619.28 L608.53 619.28 L609.73 619.28 L610.93 619.29 L612.13 619.29 L613.33 619.29 L614.53 619.30 L615.73 619.30 L616.93 619.30 L618.13 619.31 L619.33 619.31 L620.53 619.31 L621.73 619.32 L622.93 619.32 L624.13 619.32 L625.33 619.33 L626.53 619.33 L627.73 619.33 L628.93 619.34 L630.13 619.34 L631.33 619.34 L632.53 619.35 L633.73 619.35 L634.93 619.35 L636.13 619.35 L637.33 619.36 L638.53 619.36 L639.73 619.36 L640.93 619.37 L642.13 619.37 L643.33 619.37 L644.53 619.37 L645.73 619.38 L646.93 619.38 L648.13 619.38 L649.33 619.38 L650.53 619.39 L651.73 619.39 L652.93 619.39 L654.13 619.39 L655.33 619.40 L656.53 619.40 L657.73 619.40 L658.93 619.40 L660.13 619.41 L661.33 619.41 L662.53 619.41 L663.73 619.41 L664.93 619.42 L666.13 619.42 L667.33 619.42 L668.53 619.42 L669.73 619.43 L670.93 619.43 L672.13 619.43 L673.33 619.43 L674.53 619.43 L675.73 619.44 L676.93 619.44 L678.13 619.44 L679.33 619.44 L680.53 619.44 L681.73 619.45 L682.93 619.45 L684.13 619.45 L685.33 619.45 L686.53 619.45 L687.73 619.45 L688.93 619.46 L690.13 619.46 L691.33 619.46 L692.53 619.46 L693.73 619.46 L694.93 619.46 L696.13 619.47 L697.33 619.47 L698.53 619.47 L699.73 619.47 L700.93 619.47 L702.13 619.47 L703.33 619.47 L704.53 619.47 L705.73 619.48 L706.93 619.48 L708.13 619.48 L709.33 619.48 L710.53 619.48 L711.73 619.48 L712.93 619.48 L714.13 619.48 L715.33 619.48 L716.53 619.49 L717.73 619.49 L718.93 619.49 L720.13 619.49 L721.33 619.49 L722.53 619.49 L723.73 619.49 L724.93 619.49 L726.13 619.49 L727.33 619.49 L728.53 619.49 L729.73 619.49 L730.93 619.49 L732.13 619.50 L733.33 619.50 L734.53 619.50 L735.73 619.50 L736.93 619.50 L738.13 619.50 L739.33 619.50 L740.53 619.50 L741.73 619.50 L742.93 619.50 L744.13 619.50 L745.33 619.50 L746.53 619.50 L747.73 619.50 L748.93 619.50 L749.73 619.50" stroke="#ff0000"/>
<path d="M73.20 620.00 L74.40 620.00 L75.60 620.00 L76.80 620.00 L78.00 620.00 L79.20 620.00 L80.40 620.00 L81.60 620.00 L82.80 620.00 L84.00 620.00 L85.20 620.00 L86.40 620.00 L87.60 620.00 L88.80 620.00 L90.00 620.00 L91.20 620.00 L92.40 620.00 L93.60 620.00 L94.80 620.00 L96.00 620.00 L97.20 620.00 L98.40 620.00 L99.60 620.00 L100.80 620.00 L102.00 620.00 L103.20 620.00 L104.40 620.00 L105.60 620.00 L106.80 620.00 L108.00 620.00 L109.20 620.00 L110.40 620.00 L111.60 620.00 L112.80 620.00 L114.00 620.00 L115.20 620.00 L116.40 620.00 L117.60 620.00 L118.80 620.00 L120.00 620.00 L121.20 620.00 L122.40 620.00 L123.60 620.00 L124.80 620.00 L126.00 620.00 L127.20 620.00 L128.40 620.00 L129.60 620.00 L130.80 620.00 L132.00 620.00 L133.20 620.00 L134.40 620.00 L135.60 620.00 L136.80 620.00 L138.00 620.00 L139.20 620.00 L140.40 620.00 L141.60 620.00 L142.80 620.00 L144.00 620.00 L145.20 620.00 L146.40 620.00 L147.60 620.00 L148.80 620.00 L150.00 620.00 L151.20 620.00 L152.40 620.00 L153.60 620.00 L154.80 620.00 L156.00 620.00 L157.20 620.00 L158.40 620.00 L159.60 620.00 L160.80 620.00 L162.00 620.00 L163.20 620.00 L164.40 620.00 L165.60 620.00 L166.80 620.00 L168.00 620.00 L169.20 620.00 L170.40 620.00 L171.60 620.00 L172.80 620.00 L174.00 620.00 L175.20 620.00 L176.40 620.00 L177.60 620.00 L178.80 620.00 L180.00 620.00 L181.20 620.00 L182.40 620.00 L183.60 620.00 L184.80 620.00 L186.00 620.00 L187.20 620.00 L188.40 620.00 L189.60 620.00 L190.80 620.00 L192.00 620.00 L193.20 620.00 L194.40 620.00 L195.60 620.00 L196.80 620.00 L198.00 620.00 L199.20 620.00 L200.40 620.00 L201.60 620.00 L202.80 620.00 L204.00 620.00 L205.20 620.00 L206.40 620.00 L207.60 620.00 L208.80 620.00 L210.00 620.00 L211.20 620.00 L212.40 620.00 L213.60 620.00 L214.80 620.00 L216.00 620.00 L217.20 620.00 L218.40 620.00 L219.60 620.00 L220.80 620.00 L222.00 620.00 L223.20 620.00 L224.40 620.00 L225.60 620.00 L226.80 620.00 L228.00 620.00 L229.20 620.00 L230.40 620.00 L231.60 620.00 L232.80 620.00 L234.00 620.00 L235.20 620.00 L236.40 620.00 L237.60 620.00 L238.80 620.00 L240.00 620.00 L241.20 620.00 L242.40 620.00 L243.60 620.00 L244.80 620.00 L246.00 620.00 L247.20 620.00 L248.40 620.00 L249.60 620.00 L250.80 620.00 L252.00 620.00 L253.20 620.00 L254.40 620.00 L255.60 620.00 L256.80 620.00 L258.00 620.00 L259.20 620.00 L260.40 620.00 L261.60 620.00 L262.80 620.00 L264.00 620.00 L265.20 620.00 L266.40 620.00 L267.60 620.00 L268.80 620.00 L269.99 620.00 L271.19 620.00 L272.39 620.00 L273.58 620.00 L274.77 620.00 L275.95 620.00 L277.13 620.00 L278.31 620.00 L279.50 620.00 L280.71 620.00 L281.94 620.00 L283.17 620.00 L284.38 620.00 L285.58 619.99 L286.78 619.77 L287.95 619.58 L289.07 619.24 L290.12 618.73 L291.07 618.05 L291.92 617.22 L292.68 616.31 L293.34 615.32 L293.91 614.28 L294.40 613.20 L294.83 612.09 L295.21 610.96 L295.53 609.81 L295.81 608.63 L296.04 607.44 L296.28 606.25 L296.55 605.08 L296.85 603.93 L297.15 602.78 L297.44 601.63 L297.72 600.48 L297.98 599.31 L298.24 598.15 L298.48 596.98 L298.72 595.80 L298.95 594.63 L299.18 593.45 L299.40 592.27 L299.61 591.09 L299.82 589.91 L300.03 588.73 L300.24 587.55 L300.44 586.36 L300.64 585.18 L300.83 584.00 L301.03 582.81 L301.22 581.63 L301.42 580.44 L301.61 579.26 L301.80 578.08 L301.99 576.89 L302.18 575.71 L302.37 574.52 L302.55 573.33 L302.74 572.15 L302.93 570.96 L303.11 569.78 L303.29 568.59 L303.47 567.41 L303.65 566.22 L303.83 565.03 L304.01 563.85 L304.19 562.66 L304.36 561.47 L304.53 560.28 L304.70 559.10 L304.86 557.91 L305.03 556.72 L305.19 555.53 L305.35 554.34 L305.51 553.15 L305.66 551.96 L305.81 550.77 L305.96 549.58 L306.11 548.39 L306.26 547.20 L306.41 546.01 L306.55 544.82 L306.70 543.63 L306.85 542.44 L306.99 541.25 L307.14 540.05 L307.29 538.86 L307.44 537.67 L307.60 536.48 L307.75 535.30 L307.92 534.11 L308.08 532.92 L308.25 531.73 L308.43 530.55 L308.61 529.36 L308.80 528.18 L309.00 527.00 L309.21 525.82 L309.43 524.65 L309.67 523.48 L309.91 522.32 L310.18 521.17 L310.46 520.02 L310.76 518.90 L311.07 517.78 L311.40 516.68 L311.73 515.56 L312.04 514.41 L312.33 513.22 L312.63 512.01 L312.96 510.82 L313.34 509.65 L313.79 508.53 L314.31 507.45 L314.93 506.43 L315.63 505.46 L316.43 504.59 L317.37 504.06 L318.38 504.15 L319.31 504.78 L320.12 505.65 L320.87 506.58 L321.56 507.56 L322.18 508.60 L322.73 509.71 L323.25 510.87 L323.76 512.01 L324.29 513.12 L324.83 514.18 L325.37 515.21 L325.91 516.22 L326.45 517.25 L326.98 518.29 L327.50 519.35 L328.02 520.42 L328.52 521.49 L329.03 522.58 L329.52 523.66 L330.02 524.75 L330.51 525.84 L331.00 526.94 L331.49 528.03 L331.98 529.13 L332.47 530.22 L332.96 531.32 L333.46 532.41 L333.95 533.51 L334.44 534.60 L334.94 535.69 L335.43 536.78 L335.93 537.87 L336.43 538.96 L336.94 540.05 L337.45 541.13 L337.97 542.21 L338.50 543.29 L339.03 544.36 L339.56 545.43 L340.10 546.49 L340.65 547.55 L341.22 548.61 L341.81 549.65 L342.42 550.67 L343.05 551.69 L343.70 552.69 L344.37 553.67 L345.07 554.64 L345.78 555.60 L346.50 556.56 L347.23 557.50 L347.96 558.44 L348.71 559.37 L349.47 560.29 L350.25 561.20 L351.04 562.09 L351.84 562.97 L352.66 563.84 L353.49 564.69 L354.34 565.53 L355.19 566.36 L356.07 567.17 L356.96 567.97 L357.86 568.75 L358.77 569.52 L359.69 570.27 L360.63 571.01 L361.58 571.73 L362.54 572.44 L363.51 573.13 L364.50 573.82 L365.49 574.48 L366.49 575.14 L367.50 575.78 L368.51 576.41 L369.54 577.02 L370.57 577.63 L371.61 578.23 L372.65 578.81 L373.70 579.39 L374.76 579.95 L375.82 580.51 L376.88 581.06 L377.95 581.60 L379.03 582.13 L380.10 582.65 L381.19 583.15 L382.28 583.65 L383.37 584.14 L384.47 584.61 L385.57 585.07 L386.68 585.52 L387.79 585.96 L388.91 586.38 L390.03 586.79 L391.16 587.19 L392.29 587.57 L393.43 587.95 L394.57 588.32 L395.71 588.69 L396.85 589.05 L397.99 589.40 L399.14 589.76 L400.29 590.11 L401.43 590.46 L402.58 590.82 L403.72 591.17 L404.87 591.53 L406.01 591.90 L407.15 592.26 L408.29 592.63 L409.43 593.00 L410.58 593.37 L411.72 593.74 L412.86 594.12 L414.00 594.49 L415.14 594.86 L416.28 595.23 L417.42 595.61 L418.56 595.97 L419.70 596.34 L420.85 596.70 L421.99 597.06 L423.13 597.42 L424.28 597.78 L425.43 598.13 L426.58 598.47 L427.73 598.81 L428.88 599.15 L430.03 599.48 L431.19 599.80 L432.34 600.12 L433.50 600.43 L434.66 600.74 L435.82 601.04 L436.98 601.33 L438.15 601.61 L439.31 601.89 L440.48 602.16 L441.65 602.43 L442.82 602.69 L443.99 602.95 L445.16 603.20 L446.33 603.45 L447.51 603.70 L448.68 603.95 L449.85 604.20 L451.03 604.45 L452.20 604.70 L453.37 604.95 L454.54 605.21 L455.71 605.47 L456.88 605.72 L458.06 605.98 L459.23 606.24 L460.40 606.50 L461.57 606.75 L462.74 607.00 L463.92 607.25 L465.09 607.50 L466.27 607.74 L467.44 607.97 L468.62 608.21 L469.80 608.43 L470.97 608.65 L472.15 608.87 L473.34 609.08 L474.52 609.28 L475.70 609.48 L476.88 609.68 L478.07 609.87 L479.25 610.05 L480.44 610.23 L481.62 610.41 L482.81 610.58 L484.00 610.75 L485.19 610.91 L486.38 611.07 L487.57 611.22 L488.76 611.38 L489.95 611.52 L491.14 611.67 L492.33 611.82 L493.52 611.96 L494.71 612.11 L495.90 612.26 L497.09 612.41 L498.28 612.56 L499.47 612.71 L500.66 612.87 L501.84 613.03 L503.03 613.19 L504.22 613.35 L505.41 613.51 L506.60 613.67 L507.79 613.83 L508.98 613.99 L510.17 614.14 L511.35 614.29 L512.55 614.44 L513.74 614.58 L514.93 614.71 L516.12 614.85 L517.31 614.97 L518.51 615.09 L519.70 615.21 L520.89 615.32 L522.09 615.43 L523.28 615.54 L524.48 615.64 L525.67 615.74 L526.87 615.83 L528.07 615.93 L529.26 616.02 L530.46 616.11 L531.66 616.19 L532.85 616.28 L534.05 616.36 L535.25 616.44 L536.44 616.52 L537.64 616.60 L538.84 616.67 L540.04 616.74 L541.24 616.81 L542.43 616.88 L543.63 616.95 L544.83 617.01 L546.03 617.07 L547.23 617.13 L548.43 617.18 L549.62 617.24 L550.82 617.29 L552.02 617.34 L553.22 617.39 L554.42 617.43 L555.62 617.48 L556.82 617.52 L558.02 617.56 L559.22 617.60 L560.42 617.64 L561.62 617.68 L562.81 617.72 L564.01 617.76 L565.21 617.79 L566.41 617.83 L567.61 617.86 L568.81 617.90 L570.01 617.93 L571.21 617.97 L572.41 618.00 L573.61 618.03 L574.81 618.07 L576.01 618.10 L577.21 618.13 L578.41 618.16 L579.61 618.19 L580.81 618.22 L582.01 618.25 L583.21 618.27 L584.41 618.30 L585.61 618.33 L586.81 618.36 L588.01 618.38 L589.21 618.41 L590.41 618.43 L591.60 618.46 L592.80 618.48 L594.00 618.50 L595.20 618.53 L596.40 618.55 L597.60 618.57 L598.80 618.59 L600.00 618.61 L601.20 618.63 L602.40 618.65 L603.60 618.67 L604.80 618.69 L606.00 618.71 L607.20 618.73 L608.40 618.75 L609.60 618.76 L610.80 618.78 L612.00 618.80 L613.20 618.81 L614.40 618.83 L615.60 618.84 L616.80 618.86 L618.00 618.87 L619.20 618.88 L620.40 618.90 L621.60 618.91 L622.80 618.92 L624.00 618.94 L625.20 618.95 L626.40 618.96 L627.60 618.98 L628.80 618.99 L630.00 619.00 L631.20 619.01 L632.40 619.02 L633.60 619.04 L634.80 619.05 L636.00 619.06 L637.20 619.07 L638.40 619.08 L639.60 619.09 L640.80 619.10 L642.00 619.12 L643.20 619.13 L644.40 619.14 L645.60 619.15 L646.80 619.16 L648.00 619.17 L649.20 619.18 L650.40 619.19 L651.60 619.20 L652.80 619.21 L654.00 619.22 L655.20 619.23 L656.40 619.25 L657.60 619.26 L658.80 619.27 L660.00 619.28 L661.20 619.29 L662.40 619.30 L663.60 619.31 L664.80 619.32 L666.00 619.33 L667.20 619.33 L668.40 619.34 L669.60 619.35 L670.80 619.36 L672.00 619.37 L673.20 619.38 L674.40 619.39 L675.60 619.40 L676.80 619.41 L678.00 619.42 L679.20 619.42 L680.40 619.43 L681.60 619.44 L682.80 619.45 L684.00 619.46 L685.20 619.47 L686.40 619.47 L687.60 619.48 L688.80 619.49 L690.00 619.50 L691.20 619.50 L692.40 619.51 L693.60 619.52 L694.80 619.53 L696.00 619.53 L697.20 619.54 L698.40 619.55 L699.60 619.55 L700.80 619.56 L702.00 619.57 L703.20 619.57 L704.40 619.58 L705.60 619.58 L706.80 619.59 L708.00 619.59 L709.20 619.60 L710.40 619.61 L711.60 619.61 L712.80 619.62 L714.00 619.62 L715.20 619.63 L716.40 619.63 L717.60 619.63 L718.80 619.64 L720.00 619.64 L721.20 619.65 L722.40 619.65 L723.60 619.65 L724.80 619.66 L726.00 619.66 L727.20 619.67 L728.40 619.67 L729.60 619.67 L730.80 619.67 L732.00 619.68 L733.20 619.68 L734.40 619.68 L735.60 619.68 L736.80 619.69 L738.00 619.69 L739.20 619.69 L740.40 619.69 L741.60 619.69 L742.80 619.70 L744.00 619.70 L745.20 619.70 L746.40 619.70 L747.60 619.70 L748.80 619.70 L750.00 619.70 L750.00 619.70" stroke="#000000"/>
<path d="M73.20 620.00 L74.40 620.00 L75.60 620.00 L76.80 620.00 L78.00 620.00 L79.20 620.00 L80.40 620.00 L81.60 620.00 L82.80 620.00 L84.00 620.00 L85.20 620.00 L86.40 620.00 L87.60 620.00 L88.80 620.00 L90.00 620.00 L91.20 620.00 L92.40 620.00 L93.60 620.00 L94.80 620.00 L96.00 620.00 L97.20 620.00 L98.40 620.00 L99.60 620.00 L100.80 620.00 L102.00 620.00 L103.20 620.00 L104.40 620.00 L105.60 620.00 L106.80 620.00 L108.00 620.00 L109.20 620.00 L110.40 620.00 L111.60 620.00 L112.80 620.00 L114.00 620.00 L115.20 620.00 L116.40 620.00 L117.60 620.00 L118.80 620.00 L120.00 620.00 L121.20 620.00 L122.40 620.00 L123.60 620.00 L124.80 620.00 L126.00 620.00 L127.20 620.00 L128.40 620.00 L129.60 620.00 L130.80 620.00 L132.00 620.00 L133.20 620.00 L134.40 620.00 L135.60 620.00 L136.80 620.00 L138.00 620.00 L139.20 620.00 L140.40 620.00 L141.60 620.00 L142.80 620.00 L144.00 620.00 L145.20 620.00 L146.40 620.00 L147.60 620.00 L148.80 620.00 L150.00 620.00 L151.20 620.00 L152.40 620.00 L153.60 620.00 L154.80 620.00 L156.00 620.00 L157.20 620.00 L158.40 620.00 L159.60 620.00 L160.80 620.00 L162.00 620.00 L163.20 620.00 L164.40 620.00 L165.60 620.00 L166.80 620.00 L168.00 620.00 L169.20 620.00 L170.40 620.00 L171.60 620.00 L172.80 620.00 L174.00 620.00 L175.20 620.00 L176.40 620.00 L177.60 620.00 L178.80 620.00 L180.00 620.00 L181.20 620.00 L182.40 620.00 L183.60 620.00 L184.80 620.00 L186.00 620.00 L187.20 620.00 L188.40 620.00 L189.60 620.00 L190.80 620.00 L192.00 620.00 L193.20 620.00 L194.40 620.00 L195.60 620.00 L196.80 620.00 L198.00 620.00 L199.20 620.00 L200.40 620.00 L201.60 620.00 L202.80 620.00 L204.00 620.00 L205.20 620.00 L206.40 620.00 L207.60 620.00 L208.80 620.00 L210.00 620.00 L211.20 620.00 L212.40 620.00 L213.60 620.00 L214.80 620.00 L216.00 620.00 L217.20 620.00 L218.40 620.00 L219.60 620.00 L220.80 620.00 L222.00 620.00 L223.20 620.00 L224.40 620.00 L225.60 620.00 L226.80 620.00 L228.00 620.00 L229.20 620.00 L230.40 620.00 L231.60 620.00 L232.80 620.00 L234.00 620.00 L235.20 620.00 L236.40 620.00 L237.60 620.00 L238.80 620.00 L240.00 620.00 L241.20 620.00 L242.40 620.00 L243.60 620.00 L244.80 620.00 L246.00 620.00 L247.20 620.00 L248.40 620.00 L249.60 620.00 L250.80 620.00 L252.00 620.00 L253.20 620.00 L254.40 620.00 L255.60 620.00 L256.80 620.00 L258.00 620.00 L259.20 620.00 L260.40 620.00 L261.60 620.00 L262.80 620.00 L264.00 620.00 L265.20 620.00 L266.40 620.00 L267.60 620.00 L268.80 620.00 L270.00 620.00 L271.20 620.00 L272.40 620.00 L273.60 620.00 L274.80 620.00 L276.00 620.00 L277.20 620.00 L278.40 620.00 L279.60 620.00 L280.79 620.00 L281.99 620.00 L283.18 620.00 L284.37 620.00 L285.56 620.00 L286.75 620.00 L287.93 620.00 L289.11 620.00 L290.30 620.00 L291.51 620.00 L292.75 620.00 L293.97 620.00 L295.18 620.00 L296.39 619.84 L297.57 619.72 L298.73 619.48 L299.82 619.07 L300.81 618.46 L301.68 617.66 L302.47 616.77 L303.22 615.84 L303.92 614.86 L304.56 613.82 L305.13 612.76 L305.70 611.72 L306.29 610.70 L306.88 609.69 L307.43 608.65 L307.96 607.59 L308.44 606.52 L308.89 605.42 L309.30 604.30 L309.68 603.17 L310.04 602.03 L310.40 600.89 L310.76 599.75 L311.12 598.61 L311.47 597.47 L311.82 596.32 L312.16 595.18 L312.49 594.03 L312.82 592.87 L313.15 591.72 L313.48 590.57 L313.81 589.42 L314.14 588.26 L314.47 587.11 L314.81 585.96 L315.15 584.81 L315.50 583.67 L315.86 582.52 L316.23 581.38 L316.60 580.24 L316.99 579.11 L317.38 577.98 L317.79 576.86 L318.21 575.74 L318.64 574.63 L319.09 573.52 L319.56 572.43 L320.04 571.34 L320.54 570.27 L321.05 569.20 L321.56 568.13 L322.05 567.04 L322.52 565.92 L323.00 564.82 L323.54 563.74 L324.14 562.71 L324.80 561.73 L325.52 560.79 L326.29 559.90 L327.10 559.05 L327.96 558.23 L328.87 557.47 L329.84 556.78 L330.86 556.18 L331.94 555.69 L333.06 555.35 L334.22 555.19 L335.39 555.18 L336.58 555.30 L337.75 555.50 L338.91 555.78 L340.04 556.14 L341.13 556.58 L342.20 557.09 L343.26 557.64 L344.31 558.21 L345.38 558.75 L346.46 559.28 L347.55 559.78 L348.65 560.27 L349.75 560.74 L350.85 561.20 L351.96 561.65 L353.07 562.09 L354.18 562.54 L355.29 562.97 L356.41 563.40 L357.53 563.81 L358.65 564.22 L359.78 564.62 L360.92 565.00 L362.05 565.38 L363.19 565.75 L364.34 566.10 L365.48 566.45 L366.63 566.79 L367.78 567.13 L368.94 567.46 L370.09 567.78 L371.25 568.10 L372.40 568.41 L373.56 568.72 L374.72 569.04 L375.88 569.35 L377.04 569.65 L378.20 569.96 L379.36 570.27 L380.52 570.58 L381.68 570.89 L382.83 571.20 L383.99 571.50 L385.15 571.81 L386.31 572.11 L387.47 572.41 L388.64 572.71 L389.80 573.01 L390.96 573.31 L392.12 573.60 L393.28 573.90 L394.45 574.20 L395.61 574.49 L396.77 574.79 L397.93 575.09 L399.09 575.40 L400.25 575.71 L401.40 576.03 L402.56 576.35 L403.71 576.68 L404.86 577.02 L406.01 577.36 L407.15 577.71 L408.30 578.07 L409.44 578.43 L410.58 578.80 L411.72 579.18 L412.85 579.56 L413.99 579.95 L415.12 580.34 L416.25 580.74 L417.38 581.14 L418.51 581.55 L419.64 581.96 L420.77 582.37 L421.89 582.79 L423.02 583.21 L424.14 583.63 L425.26 584.06 L426.38 584.49 L427.50 584.91 L428.62 585.34 L429.74 585.77 L430.86 586.20 L431.98 586.62 L433.11 587.05 L434.23 587.47 L435.36 587.88 L436.48 588.29 L437.61 588.69 L438.74 589.08 L439.88 589.46 L441.02 589.84 L442.16 590.21 L443.30 590.57 L444.44 590.93 L445.59 591.27 L446.74 591.61 L447.89 591.95 L449.04 592.28 L450.20 592.60 L451.35 592.93 L452.51 593.25 L453.66 593.58 L454.82 593.90 L455.97 594.22 L457.13 594.55 L458.28 594.87 L459.43 595.20 L460.59 595.53 L461.74 595.87 L462.89 596.20 L464.04 596.54 L465.19 596.88 L466.34 597.22 L467.49 597.56 L468.64 597.90 L469.79 598.25 L470.94 598.59 L472.09 598.93 L473.24 599.28 L474.39 599.62 L475.54 599.96 L476.70 600.30 L477.85 600.64 L479.00 600.97 L480.15 601.31 L481.30 601.64 L482.46 601.97 L483.61 602.30 L484.77 602.62 L485.92 602.94 L487.08 603.25 L488.24 603.56 L489.40 603.87 L490.56 604.17 L491.72 604.47 L492.89 604.76 L494.05 605.04 L495.22 605.32 L496.39 605.59 L497.56 605.85 L498.73 606.11 L499.90 606.36 L501.07 606.61 L502.25 606.85 L503.42 607.09 L504.60 607.32 L505.78 607.54 L506.96 607.76 L508.14 607.98 L509.32 608.20 L510.50 608.42 L511.68 608.63 L512.86 608.85 L514.04 609.06 L515.22 609.28 L516.40 609.49 L517.58 609.70 L518.76 609.91 L519.94 610.12 L521.12 610.33 L522.31 610.54 L523.49 610.74 L524.67 610.95 L525.85 611.14 L527.04 611.34 L528.22 611.53 L529.41 611.72 L530.59 611.91 L531.78 612.09 L532.96 612.27 L534.15 612.44 L535.34 612.62 L536.53 612.78 L537.71 612.95 L538.90 613.11 L540.09 613.27 L541.28 613.42 L542.47 613.57 L543.66 613.72 L544.85 613.86 L546.05 614.00 L547.24 614.14 L548.43 614.28 L549.62 614.41 L550.81 614.54 L552.01 614.67 L553.20 614.80 L554.39 614.92 L555.59 615.04 L556.78 615.16 L557.98 615.27 L559.17 615.38 L560.37 615.49 L561.56 615.59 L562.76 615.69 L563.95 615.79 L565.15 615.88 L566.35 615.98 L567.54 616.06 L568.74 616.15 L569.94 616.23 L571.13 616.31 L572.33 616.39 L573.53 616.46 L574.73 616.53 L575.92 616.60 L577.12 616.67 L578.32 616.73 L579.52 616.80 L580.72 616.86 L581.91 616.92 L583.11 616.98 L584.31 617.04 L585.51 617.09 L586.71 617.15 L587.91 617.20 L589.11 617.26 L590.31 617.31 L591.50 617.36 L592.70 617.41 L593.90 617.46 L595.10 617.51 L596.30 617.55 L597.50 617.60 L598.70 617.65 L599.90 617.69 L601.10 617.73 L602.30 617.77 L603.50 617.82 L604.70 617.86 L605.89 617.89 L607.09 617.93 L608.29 617.97 L609.49 618.01 L610.69 618.04 L611.89 618.07 L613.09 618.11 L614.29 618.14 L615.49 618.17 L616.69 618.20 L617.89 618.23 L619.09 618.26 L620.29 618.29 L621.49 618.32 L622.69 618.35 L623.89 618.38 L625.09 618.40 L626.29 618.43 L627.49 618.45 L628.69 618.48 L629.89 618.50 L631.09 618.53 L632.29 618.55 L633.49 618.58 L634.69 618.60 L635.89 618.62 L637.08 618.64 L638.28 618.67 L639.48 618.69 L640.68 618.71 L641.88 618.73 L643.08 618.75 L644.28 618.77 L645.48 618.79 L646.68 618.81 L647.88 618.83 L649.08 618.85 L650.28 618.87 L651.48 618.89 L652.68 618.91 L653.88 618.93 L655.08 618.94 L656.28 618.96 L657.48 618.98 L658.68 619.00 L659.88 619.01 L661.08 619.03 L662.28 619.04 L663.48 619.06 L664.68 619.08 L665.88 619.09 L667.08 619.11 L668.28 619.12 L669.48 619.13 L670.68 619.15 L671.88 619.16 L673.08 619.18 L674.28 619.19 L675.48 619.20 L676.68 619.21 L677.88 619.23 L679.08 619.24 L680.28 619.25 L681.48 619.26 L682.68 619.27 L683.88 619.29 L685.08 619.30 L686.28 619.31 L687.48 619.32 L688.68 619.33 L689.88 619.34 L691.08 619.35 L692.28 619.36 L693.48 619.37 L694.68 619.38 L695.88 619.39 L697.08 619.40 L698.28 619.41 L699.48 619.42 L700.68 619.43 L701.88 619.44 L703.08 619.45 L704.28 619.46 L705.48 619.47 L706.68 619.48 L707.88 619.49 L709.08 619.50 L710.28 619.51 L711.48 619.51 L712.68 619.52 L713.88 619.53 L715.08 619.54 L716.28 619.55 L717.48 619.56 L718.68 619.56 L719.88 619.57 L721.08 619.58 L722.28 619.59 L723.48 619.59 L724.68 619.60 L725.88 619.61 L727.08 619.61 L728.28 619.62 L729.48 619.63 L730.68 619.63 L731.88 619.64 L733.08 619.64 L734.28 619.65 L735.48 619.65 L736.68 619.66 L737.88 619.66 L739.08 619.67 L740.28 619.67 L741.48 619.68 L742.68 619.68 L743.88 619.69 L745.08 619.69 L746.28 619.69 L747.48 619.70 L748.68 619.70 L749.88 619.70 L749.88 619.70" stroke="#bfbf00"/>
<path d="M73.20 620.00 L74.40 620.00 L75.60 620.00 L76.80 620.00 L78.00 620.00 L79.20 620.00 L80.40 620.00 L81.60 620.00 L82.80 620.00 L84.00 620.00 L85.20 620.00 L86.40 620.00 L87.60 620.00 L88.80 620.00 L90.00 620.00 L91.20 620.00 L92.40 620.00 L93.60 620.00 L94.80 620.00 L96.00 620.00 L97.20 620.00 L98.40 620.00 L99.60 620.00 L100.80 620.00 L102.00 620.00 L103.20 620.00 L104.40 620.00 L105.60 620.00 L106.80 620.00 L108.00 620.00 L109.20 620.00 L110.40 620.00 L111.60 620.00 L112.80 620.00 L114.00 620.00 L115.20 620.00 L116.40 620.00 L117.60 620.00 L118.80 620.00 L120.00 620.00 L121.20 620.00 L122.40 620.00 L123.60 620.00 L124.80 620.00 L126.00 620.00 L127.20 620.00 L128.40 620.00 L129.60 620.00 L130.80 620.00 L132.00 620.00 L133.20 620.00 L134.40 620.00 L135.60 620.00 L136.80 620.00 L138.00 620.00 L139.20 620.00 L140.40 620.00 L141.60 620.00 L142.80 620.00 L144.00 620.00 L145.20 620.00 L146.40 620.00 L147.60 620.00 L148.80 620.00 L150.00 620.00 L151.20 620.00 L152.40 620.00 L153.60 620.00 L154.80 620.00 L156.00 620.00 L157.20 620.00 L158.40 620.00 L159.60 620.00 L160.80 620.00 L162.00 620.00 L163.20 620.00 L164.40 620.00 L165.60 620.00 L166.80 620.00 L168.00 620.00 L169.20 620.00 L170.40 620.00 L171.60 620.00 L172.80 620.00 L174.00 620.00 L175.20 620.00 L176.40 620.00 L177.60 620.00 L178.80 620.00 L180.00 620.00 L181.20 620.00 L182.40 620.00 L183.60 620.00 L184.80 620.00 L186.00 620.00 L187.20 620.00 L188.40 620.00 L189.60 620.00 L190.80 620.00 L192.00 620.00 L193.20 620.00 L194.40 620.00 L195.60 620.00 L196.80 620.00 L198.00 620.00 L199.20 620.00 L200.40 620.00 L201.60 620.00 L202.80 620.00 L204.00 620.00 L205.20 620.00 L206.40 620.00 L207.60 620.00 L208.80 620.00 L210.00 620.00 L211.20 620.00 L212.40 620.00 L213.60 620.00 L214.80 620.00 L216.00 620.00 L217.20 620.00 L218.40 620.00 L219.60 620.00 L220.80 620.00 L222.00 620.00 L223.20 620.00 L224.40 620.00 L225.60 620.00 L226.80 620.00 L228.00 620.00 L229.20 620.00 L230.40 620.00 L231.60 620.00 L232.80 620.00 L234.00 620.00 L235.20 620.00 L236.40 620.00 L237.60 620.00 L238.80 620.00 L240.00 620.00 L241.20 620.00 L242.40 620.00 L243.60 620.00 L244.80 620.00 L246.00 620.00 L247.20 620.00 L248.40 620.00 L249.60 620.00 L250.80 620.00 L252.00 620.00 L253.20 620.00 L254.40 620.00 L255.60 620.00 L256.80 620.00 L258.00 620.00 L259.20 620.00 L260.40 620.00 L261.60 620.00 L262.80 620.00 L264.00 620.00 L265.20 620.00 L266.40 620.00 L267.60 620.00 L268.80 620.00 L270.00 620.00 L271.20 620.00 L272.40 620.00 L273.60 620.00 L274.80 620.00 L276.00 620.00 L277.20 620.00 L278.40 620.00 L279.60 620.00 L280.80 620.00 L282.00 620.00 L283.20 620.00 L284.40 620.00 L285.60 620.00 L286.80 620.00 L288.00 620.00 L289.20 620.00 L290.40 620.00 L291.60 620.00 L292.80 620.00 L294.00 620.00 L295.19 620.00 L296.39 620.00 L297.59 620.00 L298.78 620.00 L299.97 620.00 L301.16 620.00 L302.35 620.00 L303.53 620.00 L304.72 620.00 L305.92 619.98 L307.13 619.50 L308.33 619.46 L309.52 619.36 L310.70 619.18 L311.85 618.93 L312.99 618.62 L314.11 618.25 L315.21 617.81 L316.26 617.29 L317.28 616.69 L318.25 616.01 L319.17 615.27 L320.05 614.47 L320.89 613.62 L321.71 612.75 L322.53 611.86 L323.35 610.97 L324.19 610.11 L325.04 609.27 L325.89 608.44 L326.75 607.61 L327.61 606.78 L328.46 605.94 L329.31 605.10 L330.17 604.27 L331.03 603.43 L331.89 602.60 L332.76 601.78 L333.63 600.96 L334.51 600.15 L335.40 599.35 L336.30 598.57 L337.21 597.79 L338.13 597.03 L339.06 596.28 L340.00 595.55 L340.95 594.83 L341.91 594.13 L342.89 593.44 L343.87 592.76 L344.87 592.10 L345.87 591.46 L346.88 590.82 L347.90 590.20 L348.93 589.59 L349.96 588.98 L351.00 588.38 L352.04 587.79 L353.09 587.21 L354.14 586.63 L355.19 586.05 L356.24 585.48 L357.30 584.91 L358.35 584.34 L359.41 583.77 L360.47 583.21 L361.53 582.65 L362.59 582.10 L363.66 581.55 L364.73 581.00 L365.80 580.46 L366.87 579.93 L367.95 579.41 L369.03 578.89 L370.11 578.38 L371.20 577.88 L372.29 577.39 L373.39 576.90 L374.49 576.43 L375.60 575.97 L376.70 575.52 L377.82 575.08 L378.94 574.66 L380.06 574.25 L381.19 573.85 L382.32 573.47 L383.46 573.11 L384.60 572.76 L385.75 572.43 L386.90 572.12 L388.05 571.82 L389.21 571.54 L390.38 571.28 L391.55 571.04 L392.72 570.81 L393.90 570.60 L395.07 570.40 L396.26 570.22 L397.44 570.06 L398.63 569.91 L399.81 569.77 L401.00 569.65 L402.19 569.55 L403.39 569.46 L404.58 569.38 L405.77 569.32 L406.96 569.27 L408.16 569.24 L409.35 569.20 L410.54 569.18 L411.74 569.18 L412.93 569.21 L414.12 569.28 L415.31 569.37 L416.50 569.50 L417.68 569.66 L418.86 569.85 L420.03 570.07 L421.21 570.30 L422.38 570.53 L423.55 570.76 L424.72 571.00 L425.89 571.26 L427.06 571.52 L428.22 571.80 L429.39 572.08 L430.55 572.38 L431.71 572.67 L432.87 572.98 L434.03 573.28 L435.19 573.59 L436.35 573.90 L437.50 574.22 L438.66 574.53 L439.82 574.85 L440.97 575.17 L442.13 575.49 L443.28 575.81 L444.43 576.14 L445.58 576.47 L446.73 576.81 L447.88 577.15 L449.02 577.50 L450.17 577.86 L451.31 578.23 L452.44 578.61 L453.57 579.00 L454.70 579.40 L455.83 579.80 L456.96 580.21 L458.08 580.63 L459.20 581.05 L460.32 581.48 L461.44 581.91 L462.56 582.35 L463.67 582.79 L464.79 583.23 L465.90 583.67 L467.02 584.12 L468.13 584.56 L469.25 585.01 L470.36 585.45 L471.48 585.90 L472.59 586.34 L473.70 586.78 L474.82 587.23 L475.94 587.66 L477.05 588.10 L478.17 588.53 L479.29 588.96 L480.42 589.39 L481.54 589.81 L482.66 590.22 L483.79 590.63 L484.92 591.03 L486.05 591.42 L487.19 591.81 L488.32 592.19 L489.46 592.56 L490.60 592.92 L491.75 593.28 L492.89 593.64 L494.04 593.99 L495.19 594.33 L496.33 594.68 L497.48 595.02 L498.63 595.37 L499.78 595.71 L500.93 596.06 L502.08 596.40 L503.22 596.75 L504.37 597.10 L505.52 597.46 L506.66 597.81 L507.81 598.17 L508.95 598.53 L510.10 598.89 L511.24 599.25 L512.39 599.61 L513.53 599.97 L514.68 600.32 L515.82 600.68 L516.97 601.03 L518.12 601.39 L519.26 601.74 L520.41 602.08 L521.56 602.43 L522.71 602.77 L523.86 603.11 L525.01 603.44 L526.17 603.77 L527.32 604.10 L528.48 604.43 L529.63 604.75 L530.79 605.08 L531.94 605.39 L533.10 605.71 L534.26 606.02 L535.42 606.32 L536.58 606.63 L537.74 606.93 L538.91 607.22 L540.07 607.51 L541.23 607.80 L542.40 608.08 L543.57 608.36 L544.73 608.63 L545.90 608.90 L547.07 609.16 L548.25 609.42 L549.42 609.67 L550.59 609.91 L551.77 610.16 L552.94 610.39 L554.12 610.62 L555.30 610.85 L556.48 611.07 L557.66 611.28 L558.84 611.49 L560.02 611.69 L561.21 611.89 L562.39 612.09 L563.57 612.27 L564.76 612.46 L565.95 612.64 L567.13 612.81 L568.32 612.98 L569.51 613.14 L570.70 613.30 L571.89 613.45 L573.08 613.60 L574.27 613.75 L575.46 613.89 L576.65 614.02 L577.84 614.15 L579.04 614.28 L580.23 614.40 L581.42 614.51 L582.62 614.63 L583.81 614.73 L585.01 614.83 L586.20 614.93 L587.40 615.02 L588.60 615.11 L589.79 615.19 L590.99 615.27 L592.19 615.34 L593.39 615.42 L594.58 615.48 L595.78 615.55 L596.98 615.61 L598.18 615.66 L599.38 615.72 L600.58 615.77 L601.77 615.82 L602.97 615.87 L604.17 615.92 L605.37 615.97 L606.57 616.01 L607.77 616.06 L608.97 616.10 L610.17 616.15 L611.37 616.19 L612.57 616.24 L613.77 616.28 L614.96 616.33 L616.16 616.37 L617.36 616.42 L618.56 616.46 L619.76 616.51 L620.96 616.56 L622.16 616.60 L623.36 616.65 L624.56 616.70 L625.76 616.75 L626.96 616.80 L628.15 616.84 L629.35 616.89 L630.55 616.94 L631.75 616.99 L632.95 617.04 L634.15 617.09 L635.35 617.14 L636.55 617.18 L637.75 617.23 L638.95 617.28 L640.14 617.32 L641.34 617.36 L642.54 617.41 L643.74 617.45 L644.94 617.49 L646.14 617.53 L647.34 617.57 L648.54 617.61 L649.74 617.65 L650.94 617.69 L652.14 617.72 L653.34 617.76 L654.54 617.79 L655.74 617.83 L656.94 617.86 L658.14 617.89 L659.33 617.93 L660.53 617.96 L661.73 617.99 L662.93 618.02 L664.13 618.05 L665.33 618.08 L666.53 618.11 L667.73 618.14 L668.93 618.17 L670.13 618.19 L671.33 618.22 L672.53 618.25 L673.73 618.27 L674.93 618.30 L676.13 618.32 L677.33 618.35 L678.53 618.37 L679.73 618.39 L680.93 618.42 L682.13 618.44 L683.33 618.46 L684.53 618.48 L685.73 618.51 L686.93 618.53 L688.13 618.55 L689.33 618.57 L690.53 618.59 L691.73 618.61 L692.93 618.63 L694.13 618.65 L695.33 618.67 L696.53 618.69 L697.73 618.70 L698.93 618.72 L700.13 618.74 L701.33 618.76 L702.53 618.78 L703.73 618.80 L704.93 618.82 L706.13 618.83 L707.33 618.85 L708.53 618.87 L709.73 618.88 L710.93 618.90 L712.12 618.92 L713.32 618.94 L714.52 618.95 L715.72 618.97 L716.92 618.98 L718.12 619.00 L719.32 619.01 L720.52 619.03 L721.72 619.04 L722.92 619.06 L724.12 619.07 L725.32 619.09 L726.52 619.10 L727.72 619.11 L728.92 619.13 L730.12 619.14 L731.32 619.15 L732.52 619.16 L733.72 619.17 L734.92 619.19 L736.12 619.20 L737.32 619.21 L738.52 619.22 L739.72 619.23 L740.92 619.24 L742.12 619.25 L743.32 619.26 L744.52 619.27 L745.72 619.28 L746.92 619.28 L748.12 619.29 L749.32 619.30 L749.72 619.30" stroke="#0000ff"/>
</g>
<rect x="73.50" y="359.00" width="676.50" height="261.00" fill="none" stroke="#000" stroke-width="1.75" stroke-linejoin="miter"/>
<path d="M107.33 620.00 V627.00 M174.97 620.00 V627.00 M242.62 620.00 V627.00 M310.27 620.00 V627.00 M377.93 620.00 V627.00 M445.57 620.00 V627.00 M513.23 620.00 V627.00 M580.88 620.00 V627.00 M648.52 620.00 V627.00 M716.17 620.00 V627.00 M73.50 620.00 H66.50 M73.50 533.00 H66.50 M73.50 446.00 H66.50 M73.50 359.00 H66.50" stroke="#000" stroke-width="1.75" fill="none"/>
<rect x="94.12" y="640.60" width="10.1" height="1.0" fill="#222"/>
<text x="105.23" y="645.20" font-size="16.20">40</text>
<rect x="161.78" y="640.60" width="10.1" height="1.0" fill="#222"/>
<text x="172.88" y="645.20" font-size="16.20">20</text>
<text transform="translate(242.62 645.20) scale(1.03 1)" font-size="16.20" text-anchor="middle">0</text>
<text transform="translate(310.27 645.20) scale(1.03 1)" font-size="16.20" text-anchor="middle">20</text>
<text transform="translate(377.93 645.20) scale(1.03 1)" font-size="16.20" text-anchor="middle">40</text>
<text transform="translate(445.57 645.20) scale(1.03 1)" font-size="16.20" text-anchor="middle">60</text>
<text transform="translate(513.23 645.20) scale(1.03 1)" font-size="16.20" text-anchor="middle">80</text>
<text transform="translate(580.88 645.20) scale(1.03 1)" font-size="16.20" text-anchor="middle">100</text>
<text transform="translate(648.52 645.20) scale(1.03 1)" font-size="16.20" text-anchor="middle">120</text>
<text transform="translate(716.17 645.20) scale(1.03 1)" font-size="16.20" text-anchor="middle">140</text>
<text transform="translate(57.90 625.50) scale(1.055 1)" font-size="16.20" text-anchor="end">0.00</text>
<text transform="translate(57.90 538.50) scale(1.055 1)" font-size="16.20" text-anchor="end">0.02</text>
<text transform="translate(57.90 451.50) scale(1.055 1)" font-size="16.20" text-anchor="end">0.04</text>
<text transform="translate(57.90 364.50) scale(1.055 1)" font-size="16.20" text-anchor="end">0.06</text>
<text x="412.05" y="665.90" font-size="20.80" text-anchor="middle" class="it">s</text>
<text transform="translate(15.70 510.02) rotate(-90) scale(1.414 1)" font-size="20.00" style="stroke:none" class="it">f</text>
<text transform="translate(18.50 500.98) rotate(-90) scale(1.017 1)" font-size="15.20" style="stroke:none" class="it">S</text>
<text transform="translate(15.50 490.84) rotate(-90) scale(0.867 1)" font-size="22.00" style="stroke:none">(</text>
<text transform="translate(15.70 484.35) rotate(-90) scale(1.024 1)" font-size="20.00" style="stroke:none" class="it">s</text>
<text transform="translate(15.50 475.29) rotate(-90) scale(0.690 1)" font-size="22.00" style="stroke:none">)</text>
<rect x="574.80" y="366.40" width="167.30" height="118.80" rx="3.5" ry="3.5" fill="#fff" stroke="#d2d2d2" stroke-width="1.90"/>
<path d="M580.90 379.40 H614.70" stroke="#008000" stroke-width="1.80"/>
<text x="628.28" y="385.30" font-size="17.50" class="it">α</text>
<text x="642.45" y="385.30" font-size="16.20" textLength="12.97" lengthAdjust="spacingAndGlyphs" dy="1.2">=</text>
<text x="654.38" y="385.30" font-size="16.20">1,</text>
<text x="671.80" y="385.30" font-size="18.50" class="it">β</text>
<text x="684.95" y="385.30" font-size="16.20" textLength="12.97" lengthAdjust="spacingAndGlyphs" dy="1.2">=</text>
<text x="697.17" y="385.30" font-size="16.20">0.01</text>
<path d="M580.90 402.10 H614.70" stroke="#ff0000" stroke-width="1.80"/>
<text x="628.28" y="408.00" font-size="17.50" class="it">α</text>
<text x="642.45" y="408.00" font-size="16.20" textLength="12.97" lengthAdjust="spacingAndGlyphs" dy="1.2">=</text>
<text x="654.38" y="408.00" font-size="16.20">1,</text>
<text x="671.80" y="408.00" font-size="18.50" class="it">β</text>
<text x="684.95" y="408.00" font-size="16.20" textLength="12.97" lengthAdjust="spacingAndGlyphs" dy="1.2">=</text>
<text x="696.37" y="408.00" font-size="16.20">1</text>
<path d="M580.90 424.80 H614.70" stroke="#000000" stroke-width="1.80"/>
<text x="628.28" y="430.70" font-size="17.50" class="it">α</text>
<text x="642.45" y="430.70" font-size="16.20" textLength="12.97" lengthAdjust="spacingAndGlyphs" dy="1.2">=</text>
<text x="654.38" y="430.70" font-size="16.20">1,</text>
<text x="671.80" y="430.70" font-size="18.50" class="it">β</text>
<text x="684.95" y="430.70" font-size="16.20" textLength="12.97" lengthAdjust="spacingAndGlyphs" dy="1.2">=</text>
<text x="697.08" y="430.70" font-size="16.20">25</text>
<path d="M580.90 447.50 H614.70" stroke="#bfbf00" stroke-width="1.80"/>
<text x="628.28" y="453.40" font-size="17.50" class="it">α</text>
<text x="642.45" y="453.40" font-size="16.20" textLength="12.97" lengthAdjust="spacingAndGlyphs" dy="1.2">=</text>
<text x="654.38" y="453.40" font-size="16.20">1,</text>
<text x="671.80" y="453.40" font-size="18.50" class="it">β</text>
<text x="684.95" y="453.40" font-size="16.20" textLength="12.97" lengthAdjust="spacingAndGlyphs" dy="1.2">=</text>
<text x="696.85" y="453.40" font-size="16.20">50</text>
<path d="M580.90 470.20 H614.70" stroke="#0000ff" stroke-width="1.80"/>
<text x="628.28" y="476.10" font-size="17.50" class="it">α</text>
<text x="642.45" y="476.10" font-size="16.20" textLength="12.97" lengthAdjust="spacingAndGlyphs" dy="1.2">=</text>
<text x="654.38" y="476.10" font-size="16.20">1,</text>
<text x="671.80" y="476.10" font-size="18.50" class="it">β</text>
<text x="684.95" y="476.10" font-size="16.20" textLength="12.97" lengthAdjust="spacingAndGlyphs" dy="1.2">=</text>
<text x="696.37" y="476.10" font-size="16.20">100</text>
<clipPath id="c2"><rect x="73.50" y="711.80" width="676.50" height="261.00"/></clipPath>
<g clip-path="url(#c2)" fill="none" stroke-width="1.80" stroke-linejoin="round" stroke-linecap="butt">
<path d="M73.20 972.70 L74.40 972.70 L75.60 972.70 L76.80 972.70 L78.00 972.70 L79.20 972.70 L80.40 972.70 L81.60 972.70 L82.80 972.70 L84.00 972.70 L85.20 972.70 L86.40 972.70 L87.60 972.70 L88.80 972.70 L90.00 972.70 L91.20 972.70 L92.40 972.70 L93.60 972.70 L94.80 972.70 L96.00 972.70 L97.20 972.70 L98.40 972.70 L99.60 972.70 L100.80 972.70 L102.00 972.70 L103.20 972.70 L104.40 972.70 L105.60 972.70 L106.80 972.70 L108.00 972.70 L109.20 972.70 L110.40 972.70 L111.60 972.70 L112.80 972.70 L114.00 972.70 L115.20 972.70 L116.40 972.70 L117.60 972.70 L118.80 972.70 L120.00 972.70 L121.20 972.70 L122.40 972.70 L123.60 972.70 L124.80 972.70 L126.00 972.70 L127.20 972.70 L128.40 972.70 L129.60 972.70 L130.80 972.70 L132.00 972.70 L133.20 972.70 L134.40 972.70 L135.60 972.70 L136.80 972.70 L138.00 972.70 L139.20 972.70 L140.40 972.70 L141.60 972.70 L142.80 972.70 L144.00 972.70 L145.20 972.70 L146.40 972.70 L147.60 972.70 L148.80 972.70 L150.00 972.70 L151.20 972.70 L152.40 972.70 L153.60 972.70 L154.80 972.70 L156.00 972.70 L157.20 972.70 L158.40 972.70 L159.60 972.70 L160.80 972.70 L162.00 972.70 L163.20 972.70 L164.40 972.70 L165.60 972.70 L166.80 972.70 L168.00 972.70 L169.20 972.70 L170.40 972.70 L171.60 972.70 L172.80 972.70 L174.00 972.70 L175.20 972.70 L176.40 972.70 L177.60 972.70 L178.80 972.70 L180.00 972.70 L181.20 972.70 L182.40 972.70 L183.60 972.70 L184.80 972.70 L186.00 972.70 L187.20 972.70 L188.40 972.70 L189.60 972.70 L190.80 972.70 L192.00 972.70 L193.20 972.70 L194.40 972.70 L195.60 972.70 L196.80 972.70 L198.00 972.70 L199.20 972.70 L200.40 972.70 L201.60 972.70 L202.80 972.70 L204.00 972.70 L205.20 972.70 L206.40 972.70 L207.60 972.70 L208.80 972.70 L210.00 972.70 L211.20 972.70 L212.40 972.70 L213.60 972.70 L214.80 972.70 L216.00 972.70 L217.20 972.70 L218.40 972.70 L219.60 972.70 L220.80 972.70 L222.00 972.70 L223.20 972.70 L224.40 972.70 L225.60 972.70 L226.80 972.70 L228.00 972.70 L229.20 972.70 L230.40 972.70 L231.60 972.70 L232.80 972.70 L234.00 972.70 L235.20 972.70 L236.40 972.70 L237.60 972.70 L238.80 972.70 L240.00 972.70 L241.20 972.70 L242.40 972.70 L243.60 972.70 L244.80 972.70 L246.00 972.70 L247.20 972.70 L248.40 972.70 L249.60 972.70 L250.80 972.70 L252.00 972.70 L253.20 972.70 L254.40 972.70 L255.60 972.70 L256.80 972.70 L258.00 972.70 L259.20 972.70 L260.40 972.70 L261.60 972.70 L262.80 972.70 L264.00 972.70 L265.20 972.70 L266.40 972.70 L267.60 972.70 L268.80 972.70 L270.00 972.70 L271.20 972.70 L272.40 972.70 L273.60 972.70 L274.80 972.70 L276.00 972.70 L277.20 972.70 L278.40 972.70 L279.60 972.70 L280.80 972.70 L282.00 972.69 L283.20 972.69 L284.40 972.68 L285.59 972.67 L286.79 972.66 L287.98 972.64 L289.17 972.61 L290.36 972.58 L291.54 972.52 L292.72 972.46 L293.90 972.41 L295.10 972.39 L296.32 972.43 L297.56 972.52 L298.78 972.59 L299.99 972.61 L301.18 972.56 L302.36 972.42 L303.49 972.12 L304.55 971.64 L305.54 970.99 L306.45 970.23 L307.27 969.38 L307.99 968.44 L308.65 967.45 L309.24 966.42 L309.78 965.35 L310.26 964.25 L310.70 963.11 L311.11 961.96 L311.55 960.84 L312.01 959.74 L312.50 958.66 L312.98 957.58 L313.45 956.49 L313.90 955.39 L314.35 954.28 L314.78 953.17 L315.21 952.05 L315.63 950.93 L316.04 949.81 L316.45 948.68 L316.87 947.55 L317.27 946.43 L317.68 945.30 L318.10 944.17 L318.51 943.05 L318.93 941.92 L319.35 940.80 L319.77 939.68 L320.21 938.57 L320.65 937.46 L321.10 936.35 L321.57 935.25 L322.05 934.16 L322.54 933.08 L323.04 932.01 L323.54 930.93 L324.04 929.85 L324.55 928.77 L325.07 927.70 L325.62 926.64 L326.17 925.58 L326.72 924.52 L327.30 923.46 L327.94 922.44 L328.67 921.49 L329.46 920.61 L330.34 919.82 L331.32 919.18 L332.39 918.70 L333.52 918.34 L334.67 918.03 L335.83 917.73 L336.99 917.46 L338.16 917.24 L339.34 917.07 L340.52 916.93 L341.70 916.85 L342.89 916.81 L344.08 916.84 L345.27 916.94 L346.46 917.09 L347.65 917.27 L348.85 917.42 L350.03 917.56 L351.22 917.67 L352.41 917.79 L353.59 917.92 L354.78 918.06 L355.97 918.21 L357.15 918.37 L358.34 918.53 L359.53 918.70 L360.72 918.87 L361.90 919.04 L363.09 919.21 L364.28 919.38 L365.46 919.56 L366.65 919.73 L367.84 919.90 L369.03 920.07 L370.21 920.24 L371.40 920.41 L372.59 920.58 L373.78 920.75 L374.97 920.92 L376.15 921.09 L377.34 921.26 L378.53 921.43 L379.71 921.60 L380.90 921.77 L382.08 921.96 L383.27 922.14 L384.45 922.34 L385.63 922.54 L386.81 922.76 L387.98 922.98 L389.15 923.22 L390.32 923.47 L391.49 923.74 L392.65 924.02 L393.81 924.31 L394.96 924.62 L396.12 924.93 L397.27 925.26 L398.41 925.61 L399.56 925.96 L400.70 926.32 L401.84 926.68 L402.98 927.05 L404.12 927.43 L405.26 927.81 L406.39 928.20 L407.53 928.58 L408.66 928.97 L409.80 929.36 L410.93 929.75 L412.06 930.15 L413.19 930.54 L414.33 930.93 L415.46 931.33 L416.59 931.72 L417.72 932.12 L418.85 932.51 L419.99 932.89 L421.13 933.27 L422.26 933.65 L423.39 934.05 L424.50 934.48 L425.60 934.92 L426.70 935.38 L427.80 935.84 L428.91 936.28 L430.03 936.70 L431.15 937.10 L432.29 937.49 L433.41 937.89 L434.54 938.30 L435.66 938.72 L436.79 939.14 L437.91 939.56 L439.03 939.97 L440.15 940.39 L441.28 940.81 L442.40 941.22 L443.52 941.64 L444.65 942.05 L445.78 942.46 L446.91 942.87 L448.04 943.27 L449.17 943.67 L450.30 944.06 L451.43 944.45 L452.57 944.83 L453.71 945.21 L454.85 945.59 L455.99 945.95 L457.13 946.31 L458.28 946.67 L459.42 947.02 L460.57 947.37 L461.72 947.71 L462.87 948.04 L464.03 948.37 L465.18 948.70 L466.34 949.02 L467.50 949.33 L468.66 949.64 L469.82 949.95 L470.98 950.25 L472.14 950.54 L473.30 950.83 L474.47 951.12 L475.63 951.40 L476.80 951.68 L477.97 951.95 L479.14 952.22 L480.31 952.49 L481.48 952.75 L482.65 953.02 L483.82 953.28 L484.99 953.54 L486.16 953.79 L487.33 954.05 L488.51 954.31 L489.68 954.57 L490.85 954.83 L492.02 955.10 L493.19 955.37 L494.36 955.64 L495.53 955.91 L496.69 956.18 L497.86 956.46 L499.03 956.74 L500.19 957.03 L501.36 957.31 L502.52 957.60 L503.69 957.88 L504.85 958.17 L506.02 958.45 L507.18 958.74 L508.35 959.02 L509.52 959.30 L510.68 959.57 L511.85 959.84 L513.02 960.11 L514.19 960.38 L515.36 960.63 L516.54 960.89 L517.71 961.14 L518.88 961.38 L520.06 961.62 L521.24 961.85 L522.41 962.08 L523.59 962.30 L524.77 962.52 L525.95 962.73 L527.13 962.93 L528.32 963.13 L529.50 963.33 L530.69 963.52 L531.87 963.70 L533.06 963.88 L534.24 964.06 L535.43 964.23 L536.62 964.40 L537.81 964.56 L539.00 964.72 L540.18 964.88 L541.37 965.04 L542.56 965.19 L543.76 965.34 L544.95 965.49 L546.14 965.63 L547.33 965.77 L548.52 965.92 L549.71 966.05 L550.90 966.19 L552.10 966.33 L553.29 966.46 L554.48 966.59 L555.67 966.72 L556.87 966.84 L558.06 966.97 L559.26 967.09 L560.45 967.21 L561.64 967.33 L562.84 967.44 L564.03 967.55 L565.23 967.66 L566.42 967.77 L567.62 967.88 L568.81 967.98 L570.01 968.08 L571.20 968.18 L572.40 968.27 L573.60 968.36 L574.79 968.45 L575.99 968.54 L577.19 968.62 L578.38 968.70 L579.58 968.78 L580.78 968.86 L581.98 968.93 L583.17 969.00 L584.37 969.07 L585.57 969.14 L586.77 969.21 L587.97 969.28 L589.16 969.34 L590.36 969.41 L591.56 969.47 L592.76 969.53 L593.96 969.60 L595.16 969.66 L596.35 969.72 L597.55 969.79 L598.75 969.85 L599.95 969.91 L601.15 969.97 L602.35 970.04 L603.54 970.10 L604.74 970.16 L605.94 970.22 L607.14 970.29 L608.34 970.35 L609.54 970.40 L610.74 970.46 L611.93 970.52 L613.13 970.57 L614.33 970.62 L615.53 970.67 L616.73 970.72 L617.93 970.76 L619.13 970.81 L620.33 970.85 L621.53 970.89 L622.73 970.92 L623.92 970.96 L625.12 970.99 L626.32 971.02 L627.52 971.05 L628.72 971.07 L629.92 971.10 L631.12 971.12 L632.32 971.15 L633.52 971.17 L634.72 971.19 L635.92 971.21 L637.12 971.23 L638.32 971.25 L639.52 971.27 L640.72 971.29 L641.92 971.30 L643.12 971.32 L644.32 971.34 L645.52 971.35 L646.72 971.37 L647.92 971.39 L649.12 971.40 L650.32 971.42 L651.52 971.43 L652.72 971.45 L653.92 971.46 L655.12 971.48 L656.32 971.49 L657.52 971.50 L658.72 971.52 L659.92 971.53 L661.12 971.55 L662.32 971.56 L663.52 971.58 L664.72 971.59 L665.92 971.60 L667.12 971.62 L668.32 971.63 L669.52 971.64 L670.72 971.66 L671.92 971.67 L673.12 971.68 L674.32 971.70 L675.52 971.71 L676.72 971.72 L677.92 971.74 L679.12 971.75 L680.32 971.76 L681.52 971.78 L682.72 971.79 L683.92 971.80 L685.12 971.82 L686.32 971.83 L687.52 971.84 L688.72 971.85 L689.92 971.87 L691.12 971.88 L692.32 971.89 L693.52 971.90 L694.72 971.91 L695.92 971.93 L697.12 971.94 L698.32 971.95 L699.52 971.96 L700.72 971.97 L701.92 971.98 L703.12 971.99 L704.32 972.00 L705.52 972.02 L706.72 972.03 L707.92 972.04 L709.12 972.05 L710.32 972.06 L711.52 972.07 L712.72 972.08 L713.92 972.09 L715.12 972.10 L716.32 972.11 L717.52 972.12 L718.72 972.12 L719.92 972.13 L721.12 972.14 L722.32 972.15 L723.52 972.16 L724.72 972.17 L725.92 972.18 L727.12 972.18 L728.32 972.19 L729.52 972.20 L730.72 972.21 L731.92 972.21 L733.12 972.22 L734.32 972.23 L735.52 972.23 L736.72 972.24 L737.92 972.25 L739.12 972.25 L740.32 972.26 L741.52 972.27 L742.72 972.27 L743.92 972.28 L745.12 972.28 L746.32 972.29 L747.52 972.29 L748.72 972.30 L749.92 972.30 L749.92 972.30" stroke="#008000"/>
<path d="M73.20 972.70 L74.40 972.70 L75.60 972.70 L76.80 972.70 L78.00 972.70 L79.20 972.70 L80.40 972.70 L81.60 972.70 L82.80 972.70 L84.00 972.70 L85.20 972.70 L86.40 972.70 L87.60 972.70 L88.80 972.70 L90.00 972.70 L91.20 972.70 L92.40 972.70 L93.60 972.70 L94.80 972.70 L96.00 972.70 L97.20 972.70 L98.40 972.70 L99.60 972.70 L100.80 972.70 L102.00 972.70 L103.20 972.70 L104.40 972.70 L105.60 972.70 L106.80 972.70 L108.00 972.70 L109.20 972.70 L110.40 972.70 L111.60 972.70 L112.80 972.70 L114.00 972.70 L115.20 972.70 L116.40 972.70 L117.60 972.70 L118.80 972.70 L120.00 972.70 L121.20 972.70 L122.40 972.70 L123.60 972.70 L124.80 972.70 L126.00 972.70 L127.20 972.69 L128.40 972.69 L129.60 972.69 L130.80 972.69 L132.00 972.69 L133.20 972.69 L134.40 972.69 L135.60 972.69 L136.80 972.69 L138.00 972.69 L139.20 972.69 L140.40 972.69 L141.60 972.69 L142.80 972.69 L144.00 972.69 L145.20 972.69 L146.40 972.69 L147.60 972.69 L148.80 972.69 L150.00 972.69 L151.20 972.69 L152.40 972.69 L153.60 972.69 L154.80 972.69 L156.00 972.69 L157.20 972.68 L158.40 972.68 L159.60 972.68 L160.80 972.68 L162.00 972.68 L163.20 972.68 L164.40 972.68 L165.60 972.68 L166.80 972.68 L168.00 972.68 L169.20 972.68 L170.40 972.68 L171.60 972.68 L172.80 972.68 L174.00 972.68 L175.20 972.67 L176.40 972.67 L177.60 972.67 L178.80 972.67 L180.00 972.67 L181.20 972.67 L182.40 972.67 L183.60 972.67 L184.80 972.67 L186.00 972.67 L187.20 972.67 L188.40 972.67 L189.60 972.66 L190.80 972.66 L192.00 972.66 L193.20 972.66 L194.40 972.66 L195.60 972.66 L196.80 972.66 L198.00 972.66 L199.20 972.66 L200.40 972.65 L201.60 972.65 L202.80 972.65 L204.00 972.65 L205.20 972.65 L206.40 972.65 L207.60 972.65 L208.80 972.65 L210.00 972.65 L211.20 972.64 L212.40 972.64 L213.60 972.64 L214.80 972.64 L216.00 972.64 L217.20 972.64 L218.40 972.64 L219.60 972.63 L220.80 972.63 L222.00 972.63 L223.20 972.63 L224.40 972.63 L225.60 972.63 L226.80 972.63 L228.00 972.62 L229.20 972.62 L230.40 972.62 L231.60 972.62 L232.80 972.61 L234.00 972.61 L235.20 972.61 L236.40 972.60 L237.60 972.60 L238.80 972.59 L240.00 972.58 L241.20 972.57 L242.40 972.56 L243.60 972.54 L244.80 972.52 L246.00 972.50 L247.19 972.46 L248.39 972.43 L249.58 972.38 L250.78 972.32 L251.97 972.25 L253.16 972.17 L254.34 972.07 L255.52 971.96 L256.71 971.84 L257.90 971.75 L259.10 971.69 L260.31 971.65 L261.51 971.57 L262.70 971.43 L263.87 971.20 L265.01 970.89 L266.13 970.50 L267.21 970.04 L268.26 969.49 L269.26 968.87 L270.21 968.18 L271.12 967.43 L271.99 966.63 L272.80 965.78 L273.56 964.87 L274.25 963.91 L274.87 962.89 L275.43 961.84 L275.96 960.78 L276.48 959.72 L276.99 958.66 L277.47 957.58 L277.91 956.48 L278.33 955.38 L278.73 954.26 L279.12 953.14 L279.49 952.02 L279.85 950.89 L280.18 949.75 L280.50 948.60 L280.80 947.45 L281.08 946.29 L281.35 945.12 L281.60 943.96 L281.84 942.78 L282.07 941.61 L282.30 940.43 L282.51 939.25 L282.72 938.07 L282.92 936.89 L283.11 935.71 L283.30 934.52 L283.48 933.34 L283.66 932.15 L283.83 930.96 L284.01 929.78 L284.17 928.59 L284.34 927.40 L284.50 926.21 L284.66 925.02 L284.81 923.83 L284.97 922.64 L285.12 921.45 L285.27 920.26 L285.42 919.07 L285.56 917.88 L285.70 916.69 L285.84 915.50 L285.98 914.30 L286.12 913.11 L286.25 911.92 L286.38 910.73 L286.51 909.53 L286.64 908.34 L286.76 907.15 L286.88 905.95 L287.00 904.76 L287.12 903.56 L287.23 902.37 L287.34 901.18 L287.45 899.98 L287.56 898.79 L287.67 897.59 L287.77 896.39 L287.87 895.20 L287.97 894.00 L288.06 892.81 L288.16 891.61 L288.25 890.41 L288.34 889.22 L288.44 888.02 L288.53 886.83 L288.62 885.63 L288.71 884.43 L288.80 883.24 L288.89 882.04 L288.98 880.84 L289.07 879.65 L289.16 878.45 L289.25 877.25 L289.34 876.06 L289.43 874.86 L289.51 873.66 L289.60 872.47 L289.69 871.27 L289.77 870.07 L289.86 868.88 L289.94 867.68 L290.03 866.48 L290.11 865.28 L290.19 864.09 L290.27 862.89 L290.35 861.69 L290.42 860.49 L290.50 859.30 L290.58 858.10 L290.65 856.90 L290.73 855.70 L290.80 854.51 L290.88 853.31 L290.95 852.11 L291.03 850.91 L291.11 849.72 L291.18 848.52 L291.26 847.32 L291.34 846.12 L291.43 844.93 L291.51 843.73 L291.60 842.53 L291.68 841.34 L291.77 840.14 L291.87 838.94 L291.96 837.75 L292.06 836.55 L292.16 835.36 L292.26 834.16 L292.37 832.97 L292.48 831.77 L292.59 830.58 L292.70 829.38 L292.81 828.19 L292.93 826.99 L293.05 825.80 L293.16 824.60 L293.28 823.41 L293.40 822.22 L293.52 821.02 L293.64 819.83 L293.76 818.63 L293.87 817.44 L293.99 816.25 L294.11 815.05 L294.23 813.86 L294.34 812.66 L294.46 811.47 L294.58 810.27 L294.69 809.08 L294.81 807.88 L294.92 806.69 L295.04 805.50 L295.15 804.30 L295.27 803.11 L295.38 801.91 L295.50 800.72 L295.62 799.52 L295.73 798.33 L295.85 797.14 L295.97 795.94 L296.09 794.75 L296.21 793.55 L296.34 792.36 L296.46 791.17 L296.59 789.98 L296.72 788.79 L296.85 787.60 L296.99 786.41 L297.13 785.23 L297.28 784.05 L297.44 782.88 L297.60 781.72 L297.78 780.58 L297.96 779.44 L298.15 778.31 L298.35 777.17 L298.54 776.02 L298.72 774.83 L298.88 773.58 L299.02 772.28 L299.18 771.02 L299.44 769.82 L299.79 768.67 L300.21 767.56 L300.75 766.52 L301.48 765.81 L302.37 765.85 L303.15 766.57 L303.78 767.56 L304.31 768.64 L304.75 769.75 L305.09 770.90 L305.36 772.07 L305.59 773.27 L305.80 774.50 L306.00 775.74 L306.21 776.97 L306.44 778.15 L306.69 779.29 L306.94 780.42 L307.18 781.55 L307.42 782.70 L307.64 783.86 L307.86 785.03 L308.07 786.20 L308.27 787.38 L308.47 788.56 L308.66 789.74 L308.86 790.92 L309.04 792.11 L309.23 793.29 L309.41 794.48 L309.59 795.66 L309.77 796.85 L309.95 798.03 L310.13 799.22 L310.30 800.41 L310.48 801.60 L310.65 802.78 L310.82 803.97 L311.00 805.16 L311.17 806.35 L311.34 807.53 L311.51 808.72 L311.68 809.91 L311.84 811.10 L312.01 812.29 L312.18 813.47 L312.35 814.66 L312.52 815.85 L312.68 817.04 L312.85 818.23 L313.02 819.42 L313.19 820.60 L313.35 821.79 L313.52 822.98 L313.69 824.17 L313.86 825.36 L314.03 826.54 L314.20 827.73 L314.37 828.92 L314.54 830.11 L314.71 831.30 L314.88 832.48 L315.05 833.67 L315.22 834.86 L315.38 836.05 L315.55 837.24 L315.72 838.42 L315.88 839.61 L316.05 840.80 L316.21 841.99 L316.37 843.18 L316.52 844.37 L316.68 845.56 L316.83 846.75 L316.98 847.94 L317.13 849.13 L317.28 850.32 L317.43 851.51 L317.57 852.70 L317.72 853.89 L317.87 855.09 L318.01 856.28 L318.16 857.47 L318.31 858.66 L318.46 859.85 L318.61 861.04 L318.76 862.23 L318.92 863.42 L319.08 864.61 L319.24 865.80 L319.41 866.98 L319.58 868.17 L319.75 869.36 L319.93 870.54 L320.11 871.73 L320.30 872.92 L320.49 874.10 L320.68 875.28 L320.88 876.47 L321.08 877.65 L321.29 878.83 L321.50 880.01 L321.71 881.19 L321.93 882.37 L322.15 883.55 L322.37 884.73 L322.60 885.91 L322.83 887.09 L323.06 888.26 L323.30 889.44 L323.54 890.61 L323.79 891.79 L324.04 892.96 L324.30 894.13 L324.56 895.30 L324.83 896.47 L325.11 897.63 L325.40 898.80 L325.69 899.96 L326.00 901.12 L326.31 902.27 L326.64 903.42 L326.98 904.57 L327.34 905.70 L327.71 906.84 L328.09 907.97 L328.50 909.09 L328.92 910.20 L329.36 911.31 L329.82 912.41 L330.29 913.50 L330.78 914.59 L331.29 915.67 L331.80 916.75 L332.33 917.82 L332.88 918.88 L333.43 919.94 L333.99 921.00 L334.55 922.05 L335.13 923.10 L335.71 924.15 L336.29 925.19 L336.89 926.23 L337.50 927.26 L338.11 928.28 L338.74 929.30 L339.38 930.30 L340.03 931.30 L340.70 932.28 L341.39 933.25 L342.09 934.21 L342.82 935.15 L343.56 936.08 L344.32 937.00 L345.10 937.89 L345.89 938.77 L346.71 939.63 L347.55 940.48 L348.40 941.31 L349.27 942.12 L350.15 942.91 L351.06 943.68 L351.97 944.44 L352.91 945.18 L353.86 945.90 L354.82 946.60 L355.79 947.28 L356.78 947.94 L357.78 948.58 L358.80 949.20 L359.82 949.81 L360.86 950.39 L361.91 950.96 L362.97 951.51 L364.04 952.03 L365.11 952.54 L366.20 953.03 L367.29 953.51 L368.40 953.96 L369.51 954.40 L370.62 954.82 L371.75 955.22 L372.88 955.61 L374.01 955.98 L375.15 956.34 L376.30 956.68 L377.45 957.01 L378.60 957.32 L379.76 957.62 L380.92 957.91 L382.09 958.19 L383.25 958.46 L384.42 958.72 L385.60 958.97 L386.77 959.22 L387.95 959.45 L389.12 959.68 L390.30 959.91 L391.48 960.13 L392.66 960.35 L393.84 960.56 L395.02 960.76 L396.20 960.97 L397.39 961.17 L398.57 961.36 L399.75 961.56 L400.94 961.75 L402.12 961.93 L403.31 962.12 L404.50 962.30 L405.68 962.48 L406.87 962.65 L408.06 962.83 L409.24 963.00 L410.43 963.17 L411.62 963.34 L412.81 963.50 L414.00 963.66 L415.19 963.82 L416.38 963.98 L417.57 964.13 L418.76 964.29 L419.95 964.44 L421.14 964.59 L422.33 964.73 L423.52 964.88 L424.71 965.02 L425.90 965.16 L427.09 965.30 L428.29 965.43 L429.48 965.56 L430.67 965.70 L431.86 965.83 L433.06 965.95 L434.25 966.08 L435.44 966.20 L436.64 966.32 L437.83 966.44 L439.03 966.56 L440.22 966.68 L441.42 966.80 L442.61 966.91 L443.80 967.02 L445.00 967.14 L446.19 967.25 L447.39 967.36 L448.58 967.47 L449.78 967.57 L450.97 967.68 L452.17 967.79 L453.36 967.90 L454.56 968.00 L455.76 968.11 L456.95 968.21 L458.15 968.32 L459.34 968.42 L460.54 968.52 L461.73 968.62 L462.93 968.72 L464.12 968.82 L465.32 968.91 L466.52 969.00 L467.71 969.09 L468.91 969.18 L470.11 969.26 L471.30 969.34 L472.50 969.42 L473.70 969.50 L474.90 969.57 L476.09 969.63 L477.29 969.69 L478.49 969.75 L479.69 969.81 L480.89 969.86 L482.09 969.92 L483.29 969.96 L484.48 970.01 L485.68 970.05 L486.88 970.09 L488.08 970.13 L489.28 970.17 L490.48 970.21 L491.68 970.24 L492.88 970.28 L494.08 970.31 L495.28 970.34 L496.48 970.37 L497.68 970.41 L498.88 970.44 L500.08 970.46 L501.28 970.49 L502.48 970.52 L503.68 970.55 L504.88 970.58 L506.08 970.60 L507.28 970.63 L508.48 970.65 L509.67 970.68 L510.87 970.70 L512.07 970.72 L513.27 970.75 L514.47 970.77 L515.67 970.79 L516.87 970.81 L518.07 970.84 L519.27 970.86 L520.47 970.88 L521.67 970.90 L522.87 970.92 L524.07 970.94 L525.27 970.96 L526.47 970.97 L527.67 970.99 L528.87 971.01 L530.07 971.03 L531.27 971.05 L532.47 971.06 L533.67 971.08 L534.87 971.10 L536.07 971.11 L537.27 971.13 L538.47 971.15 L539.67 971.16 L540.87 971.18 L542.07 971.20 L543.27 971.21 L544.47 971.23 L545.67 971.24 L546.87 971.26 L548.07 971.27 L549.27 971.29 L550.47 971.30 L551.67 971.32 L552.87 971.33 L554.07 971.35 L555.27 971.36 L556.47 971.38 L557.67 971.39 L558.87 971.41 L560.07 971.42 L561.27 971.44 L562.47 971.45 L563.67 971.47 L564.87 971.48 L566.07 971.49 L567.27 971.51 L568.47 971.52 L569.67 971.54 L570.87 971.55 L572.07 971.56 L573.27 971.58 L574.47 971.59 L575.67 971.60 L576.87 971.62 L578.07 971.63 L579.27 971.64 L580.47 971.66 L581.67 971.67 L582.87 971.68 L584.07 971.69 L585.27 971.71 L586.47 971.72 L587.67 971.73 L588.87 971.74 L590.07 971.75 L591.27 971.77 L592.47 971.78 L593.67 971.79 L594.87 971.80 L596.07 971.81 L597.27 971.82 L598.47 971.84 L599.67 971.85 L600.87 971.86 L602.07 971.87 L603.27 971.88 L604.47 971.89 L605.67 971.90 L606.87 971.91 L608.07 971.92 L609.27 971.93 L610.47 971.94 L611.67 971.95 L612.87 971.96 L614.07 971.97 L615.27 971.98 L616.47 971.99 L617.67 972.00 L618.87 972.01 L620.07 972.02 L621.27 972.03 L622.47 972.03 L623.67 972.04 L624.87 972.05 L626.07 972.06 L627.27 972.07 L628.47 972.08 L629.67 972.08 L630.87 972.09 L632.07 972.10 L633.27 972.11 L634.47 972.11 L635.67 972.12 L636.87 972.13 L638.07 972.14 L639.27 972.14 L640.47 972.15 L641.67 972.16 L642.87 972.16 L644.07 972.17 L645.27 972.17 L646.47 972.18 L647.67 972.19 L648.87 972.19 L650.07 972.20 L651.27 972.20 L652.47 972.21 L653.67 972.22 L654.87 972.22 L656.07 972.23 L657.27 972.23 L658.47 972.24 L659.67 972.24 L660.87 972.25 L662.07 972.25 L663.27 972.26 L664.47 972.26 L665.67 972.27 L666.87 972.27 L668.07 972.28 L669.27 972.29 L670.47 972.29 L671.67 972.30 L672.87 972.30 L674.07 972.31 L675.27 972.31 L676.47 972.32 L677.67 972.32 L678.87 972.33 L680.07 972.33 L681.27 972.34 L682.47 972.34 L683.67 972.34 L684.87 972.35 L686.07 972.35 L687.27 972.36 L688.47 972.36 L689.67 972.37 L690.87 972.37 L692.07 972.38 L693.27 972.38 L694.47 972.39 L695.67 972.39 L696.87 972.39 L698.07 972.40 L699.27 972.40 L700.47 972.41 L701.67 972.41 L702.87 972.41 L704.07 972.42 L705.27 972.42 L706.47 972.43 L707.67 972.43 L708.87 972.43 L710.07 972.44 L711.27 972.44 L712.47 972.44 L713.67 972.45 L714.87 972.45 L716.07 972.45 L717.27 972.46 L718.47 972.46 L719.67 972.46 L720.87 972.46 L722.07 972.47 L723.27 972.47 L724.47 972.47 L725.67 972.47 L726.87 972.48 L728.07 972.48 L729.27 972.48 L730.47 972.48 L731.67 972.48 L732.87 972.49 L734.07 972.49 L735.27 972.49 L736.47 972.49 L737.67 972.49 L738.87 972.49 L740.07 972.49 L741.27 972.50 L742.47 972.50 L743.67 972.50 L744.87 972.50 L746.07 972.50 L747.27 972.50 L748.47 972.50 L749.67 972.50 L749.67 972.50" stroke="#ff0000"/>
<path d="M73.20 972.70 L74.40 972.70 L75.60 972.70 L76.80 972.70 L78.00 972.70 L79.20 972.70 L80.40 972.70 L81.60 972.70 L82.80 972.70 L84.00 972.70 L85.20 972.70 L86.40 972.70 L87.60 972.70 L88.80 972.70 L90.00 972.70 L91.20 972.70 L92.40 972.70 L93.60 972.70 L94.80 972.70 L96.00 972.70 L97.20 972.69 L98.40 972.69 L99.60 972.69 L100.80 972.69 L102.00 972.69 L103.20 972.69 L104.40 972.69 L105.60 972.69 L106.80 972.69 L108.00 972.69 L109.20 972.69 L110.40 972.69 L111.60 972.69 L112.80 972.69 L114.00 972.68 L115.20 972.68 L116.40 972.68 L117.60 972.68 L118.80 972.68 L120.00 972.68 L121.20 972.68 L122.40 972.68 L123.60 972.68 L124.80 972.67 L126.00 972.67 L127.20 972.67 L128.40 972.67 L129.60 972.67 L130.80 972.67 L132.00 972.67 L133.20 972.66 L134.40 972.66 L135.60 972.66 L136.80 972.66 L138.00 972.66 L139.20 972.66 L140.40 972.65 L141.60 972.65 L142.80 972.65 L144.00 972.65 L145.20 972.65 L146.40 972.64 L147.60 972.64 L148.80 972.64 L150.00 972.64 L151.20 972.64 L152.40 972.63 L153.60 972.63 L154.80 972.63 L156.00 972.63 L157.20 972.62 L158.40 972.62 L159.60 972.62 L160.80 972.62 L162.00 972.61 L163.20 972.61 L164.40 972.61 L165.60 972.60 L166.80 972.60 L168.00 972.60 L169.20 972.60 L170.40 972.59 L171.60 972.59 L172.80 972.59 L174.00 972.58 L175.20 972.58 L176.40 972.58 L177.60 972.57 L178.80 972.57 L180.00 972.57 L181.20 972.56 L182.40 972.56 L183.60 972.55 L184.80 972.55 L186.00 972.55 L187.20 972.54 L188.40 972.54 L189.60 972.53 L190.80 972.52 L192.00 972.52 L193.20 972.51 L194.40 972.50 L195.60 972.49 L196.80 972.48 L198.00 972.46 L199.20 972.44 L200.40 972.42 L201.60 972.40 L202.80 972.37 L204.00 972.34 L205.20 972.31 L206.39 972.27 L207.59 972.23 L208.79 972.18 L209.99 972.13 L211.19 972.08 L212.39 972.02 L213.59 971.95 L214.78 971.89 L215.98 971.81 L217.18 971.74 L218.38 971.66 L219.57 971.57 L220.77 971.48 L221.96 971.39 L223.16 971.29 L224.35 971.19 L225.55 971.08 L226.74 970.97 L227.94 970.85 L229.13 970.72 L230.32 970.59 L231.51 970.44 L232.69 970.29 L233.88 970.12 L235.06 969.94 L236.24 969.75 L237.42 969.55 L238.59 969.32 L239.76 969.08 L240.92 968.82 L242.07 968.54 L243.22 968.25 L244.36 967.93 L245.51 967.62 L246.66 967.32 L247.82 967.02 L248.96 966.69 L250.09 966.31 L251.19 965.85 L252.25 965.34 L253.29 964.76 L254.29 964.14 L255.26 963.46 L256.19 962.73 L257.08 961.93 L257.90 961.08 L258.70 960.20 L259.47 959.32 L260.25 958.43 L261.01 957.53 L261.75 956.62 L262.45 955.68 L263.13 954.71 L263.77 953.72 L264.39 952.72 L264.99 951.70 L265.57 950.67 L266.13 949.63 L266.67 948.57 L267.18 947.50 L267.67 946.42 L268.14 945.33 L268.59 944.23 L269.02 943.12 L269.43 942.00 L269.82 940.87 L270.19 939.74 L270.55 938.60 L270.89 937.45 L271.22 936.30 L271.53 935.15 L271.82 933.99 L272.11 932.83 L272.38 931.66 L272.64 930.49 L272.90 929.32 L273.14 928.15 L273.38 926.97 L273.60 925.80 L273.83 924.62 L274.04 923.44 L274.25 922.26 L274.46 921.08 L274.66 919.89 L274.86 918.71 L275.05 917.53 L275.24 916.34 L275.43 915.16 L275.61 913.97 L275.79 912.79 L275.96 911.60 L276.14 910.41 L276.31 909.22 L276.47 908.04 L276.64 906.85 L276.80 905.66 L276.96 904.47 L277.11 903.28 L277.27 902.09 L277.42 900.90 L277.57 899.71 L277.72 898.52 L277.87 897.33 L278.02 896.14 L278.17 894.95 L278.32 893.76 L278.47 892.57 L278.62 891.37 L278.77 890.18 L278.92 888.99 L279.07 887.80 L279.22 886.61 L279.37 885.42 L279.52 884.23 L279.66 883.04 L279.81 881.85 L279.96 880.66 L280.11 879.47 L280.25 878.28 L280.39 877.08 L280.54 875.89 L280.68 874.70 L280.82 873.51 L280.96 872.32 L281.10 871.13 L281.23 869.93 L281.37 868.74 L281.51 867.55 L281.64 866.36 L281.78 865.17 L281.91 863.97 L282.05 862.78 L282.18 861.59 L282.32 860.40 L282.45 859.20 L282.58 858.01 L282.72 856.82 L282.85 855.63 L282.98 854.43 L283.12 853.24 L283.25 852.05 L283.38 850.85 L283.51 849.66 L283.65 848.47 L283.78 847.28 L283.91 846.08 L284.04 844.89 L284.17 843.70 L284.30 842.50 L284.43 841.31 L284.56 840.12 L284.68 838.93 L284.81 837.73 L284.94 836.54 L285.07 835.35 L285.19 834.15 L285.32 832.96 L285.44 831.77 L285.57 830.57 L285.69 829.38 L285.81 828.18 L285.93 826.99 L286.05 825.80 L286.18 824.60 L286.29 823.41 L286.41 822.22 L286.53 821.02 L286.65 819.83 L286.76 818.63 L286.88 817.44 L286.99 816.24 L287.10 815.05 L287.22 813.85 L287.33 812.66 L287.44 811.46 L287.55 810.27 L287.65 809.07 L287.76 807.88 L287.87 806.68 L287.98 805.49 L288.08 804.29 L288.19 803.10 L288.29 801.90 L288.40 800.71 L288.51 799.51 L288.61 798.32 L288.72 797.12 L288.83 795.93 L288.94 794.73 L289.05 793.54 L289.16 792.34 L289.27 791.15 L289.39 789.95 L289.50 788.76 L289.62 787.56 L289.73 786.37 L289.85 785.18 L289.97 783.98 L290.09 782.79 L290.21 781.59 L290.34 780.40 L290.46 779.21 L290.59 778.01 L290.72 776.82 L290.85 775.63 L290.98 774.44 L291.12 773.25 L291.26 772.06 L291.40 770.87 L291.55 769.68 L291.70 768.50 L291.85 767.33 L292.01 766.16 L292.18 765.01 L292.37 763.87 L292.56 762.74 L292.75 761.62 L292.93 760.46 L293.08 759.23 L293.18 757.93 L293.28 756.64 L293.40 755.41 L293.57 754.21 L293.81 753.04 L294.15 751.90 L294.65 750.82 L295.30 749.86 L296.12 749.27 L296.97 749.45 L297.63 750.30 L298.13 751.37 L298.57 752.48 L298.95 753.62 L299.24 754.82 L299.46 756.13 L299.67 757.48 L299.92 758.75 L300.19 759.89 L300.48 760.96 L300.77 762.04 L301.04 763.13 L301.31 764.25 L301.56 765.38 L301.80 766.53 L302.03 767.69 L302.25 768.86 L302.46 770.03 L302.66 771.21 L302.86 772.39 L303.05 773.57 L303.24 774.76 L303.42 775.94 L303.60 777.13 L303.78 778.31 L303.95 779.50 L304.12 780.69 L304.28 781.88 L304.45 783.07 L304.61 784.25 L304.77 785.44 L304.93 786.63 L305.08 787.82 L305.24 789.01 L305.40 790.20 L305.55 791.39 L305.71 792.58 L305.87 793.77 L306.03 794.96 L306.18 796.15 L306.34 797.34 L306.50 798.53 L306.66 799.72 L306.82 800.91 L306.98 802.10 L307.14 803.29 L307.30 804.48 L307.46 805.66 L307.62 806.85 L307.78 808.04 L307.94 809.23 L308.10 810.42 L308.26 811.61 L308.41 812.80 L308.57 813.99 L308.73 815.18 L308.89 816.37 L309.04 817.56 L309.20 818.75 L309.36 819.94 L309.52 821.13 L309.67 822.32 L309.83 823.51 L309.99 824.70 L310.15 825.89 L310.32 827.07 L310.48 828.26 L310.64 829.45 L310.81 830.64 L310.98 831.83 L311.14 833.02 L311.31 834.21 L311.48 835.39 L311.64 836.58 L311.81 837.77 L311.97 838.96 L312.13 840.15 L312.29 841.34 L312.44 842.53 L312.60 843.72 L312.74 844.91 L312.89 846.10 L313.03 847.29 L313.17 848.48 L313.30 849.67 L313.43 850.87 L313.56 852.06 L313.69 853.25 L313.81 854.45 L313.94 855.64 L314.06 856.83 L314.18 858.03 L314.30 859.22 L314.43 860.41 L314.55 861.61 L314.68 862.80 L314.82 863.99 L314.95 865.18 L315.09 866.37 L315.23 867.56 L315.38 868.76 L315.54 869.94 L315.69 871.13 L315.86 872.32 L316.03 873.51 L316.20 874.70 L316.38 875.88 L316.56 877.07 L316.75 878.25 L316.94 879.44 L317.14 880.62 L317.34 881.80 L317.55 882.98 L317.76 884.16 L317.98 885.35 L318.20 886.52 L318.42 887.70 L318.65 888.88 L318.88 890.06 L319.11 891.23 L319.35 892.41 L319.60 893.58 L319.84 894.76 L320.10 895.93 L320.35 897.10 L320.61 898.27 L320.88 899.44 L321.15 900.61 L321.42 901.78 L321.70 902.95 L321.98 904.12 L322.26 905.28 L322.55 906.44 L322.85 907.61 L323.15 908.77 L323.45 909.93 L323.76 911.09 L324.07 912.24 L324.39 913.40 L324.72 914.55 L325.06 915.70 L325.40 916.85 L325.75 917.99 L326.11 919.13 L326.49 920.27 L326.88 921.40 L327.28 922.52 L327.70 923.64 L328.13 924.75 L328.59 925.85 L329.06 926.95 L329.55 928.04 L330.06 929.11 L330.58 930.18 L331.13 931.24 L331.70 932.28 L332.29 933.32 L332.89 934.34 L333.52 935.36 L334.16 936.36 L334.82 937.35 L335.50 938.33 L336.20 939.29 L336.91 940.25 L337.64 941.19 L338.39 942.11 L339.16 943.02 L339.94 943.92 L340.74 944.80 L341.56 945.66 L342.39 946.51 L343.25 947.33 L344.12 948.14 L345.01 948.92 L345.91 949.69 L346.84 950.43 L347.78 951.15 L348.73 951.85 L349.71 952.52 L350.70 953.18 L351.70 953.80 L352.72 954.41 L353.75 954.99 L354.80 955.55 L355.86 956.08 L356.93 956.59 L358.01 957.08 L359.11 957.54 L360.21 957.99 L361.32 958.41 L362.44 958.81 L363.57 959.20 L364.71 959.56 L365.85 959.91 L367.00 960.24 L368.15 960.55 L369.31 960.85 L370.47 961.13 L371.63 961.40 L372.80 961.65 L373.97 961.89 L375.15 962.12 L376.33 962.33 L377.51 962.54 L378.69 962.74 L379.87 962.92 L381.06 963.10 L382.24 963.27 L383.43 963.44 L384.62 963.60 L385.81 963.76 L387.00 963.91 L388.19 964.06 L389.38 964.21 L390.57 964.36 L391.76 964.50 L392.95 964.64 L394.14 964.78 L395.34 964.92 L396.53 965.06 L397.72 965.19 L398.91 965.33 L400.11 965.46 L401.30 965.59 L402.49 965.72 L403.68 965.84 L404.88 965.97 L406.07 966.09 L407.27 966.21 L408.46 966.32 L409.65 966.44 L410.85 966.55 L412.04 966.65 L413.24 966.76 L414.43 966.86 L415.63 966.96 L416.83 967.06 L418.02 967.16 L419.22 967.25 L420.41 967.35 L421.61 967.44 L422.81 967.53 L424.00 967.61 L425.20 967.70 L426.40 967.78 L427.60 967.87 L428.79 967.95 L429.99 968.03 L431.19 968.11 L432.38 968.19 L433.58 968.27 L434.78 968.34 L435.98 968.42 L437.18 968.49 L438.37 968.56 L439.57 968.63 L440.77 968.70 L441.97 968.77 L443.16 968.84 L444.36 968.91 L445.56 968.98 L446.76 969.04 L447.96 969.11 L449.15 969.18 L450.35 969.25 L451.55 969.32 L452.75 969.39 L453.95 969.47 L455.14 969.54 L456.34 969.61 L457.54 969.69 L458.74 969.76 L459.93 969.84 L461.13 969.91 L462.33 969.98 L463.53 970.06 L464.73 970.13 L465.92 970.20 L467.12 970.27 L468.32 970.33 L469.52 970.40 L470.72 970.46 L471.91 970.52 L473.11 970.57 L474.31 970.63 L475.51 970.67 L476.71 970.72 L477.91 970.76 L479.11 970.80 L480.31 970.84 L481.51 970.88 L482.71 970.91 L483.90 970.94 L485.10 970.97 L486.30 971.00 L487.50 971.02 L488.70 971.05 L489.90 971.07 L491.10 971.09 L492.30 971.12 L493.50 971.14 L494.70 971.16 L495.90 971.18 L497.10 971.20 L498.30 971.22 L499.50 971.24 L500.70 971.26 L501.90 971.27 L503.10 971.29 L504.30 971.31 L505.50 971.33 L506.70 971.35 L507.90 971.36 L509.10 971.38 L510.30 971.40 L511.50 971.41 L512.70 971.43 L513.90 971.44 L515.10 971.46 L516.30 971.47 L517.50 971.49 L518.70 971.50 L519.90 971.52 L521.10 971.53 L522.30 971.55 L523.50 971.56 L524.70 971.57 L525.90 971.59 L527.10 971.60 L528.30 971.61 L529.50 971.63 L530.70 971.64 L531.90 971.65 L533.10 971.66 L534.30 971.67 L535.50 971.69 L536.70 971.70 L537.90 971.71 L539.10 971.72 L540.30 971.73 L541.50 971.74 L542.70 971.75 L543.90 971.76 L545.10 971.77 L546.30 971.78 L547.50 971.79 L548.70 971.80 L549.90 971.81 L551.10 971.82 L552.30 971.83 L553.50 971.84 L554.70 971.85 L555.90 971.86 L557.10 971.86 L558.30 971.87 L559.50 971.88 L560.70 971.89 L561.90 971.90 L563.10 971.91 L564.30 971.91 L565.50 971.92 L566.70 971.93 L567.90 971.94 L569.10 971.94 L570.30 971.95 L571.50 971.96 L572.70 971.96 L573.90 971.97 L575.10 971.98 L576.30 971.98 L577.50 971.99 L578.70 972.00 L579.90 972.00 L581.10 972.01 L582.30 972.02 L583.50 972.02 L584.70 972.03 L585.90 972.03 L587.10 972.04 L588.30 972.05 L589.50 972.05 L590.70 972.06 L591.90 972.06 L593.10 972.07 L594.30 972.07 L595.50 972.08 L596.70 972.08 L597.90 972.09 L599.10 972.10 L600.30 972.10 L601.50 972.11 L602.70 972.11 L603.90 972.12 L605.10 972.12 L606.30 972.13 L607.50 972.13 L608.70 972.14 L609.90 972.14 L611.10 972.15 L612.30 972.15 L613.50 972.16 L614.70 972.16 L615.90 972.17 L617.10 972.17 L618.30 972.18 L619.50 972.18 L620.70 972.19 L621.90 972.19 L623.10 972.20 L624.30 972.20 L625.50 972.21 L626.70 972.21 L627.90 972.22 L629.10 972.22 L630.30 972.22 L631.50 972.23 L632.70 972.23 L633.90 972.24 L635.10 972.24 L636.30 972.25 L637.50 972.25 L638.70 972.26 L639.90 972.26 L641.10 972.27 L642.30 972.27 L643.50 972.28 L644.70 972.28 L645.90 972.28 L647.10 972.29 L648.30 972.29 L649.50 972.30 L650.70 972.30 L651.90 972.31 L653.10 972.31 L654.30 972.31 L655.50 972.32 L656.70 972.32 L657.90 972.33 L659.10 972.33 L660.30 972.33 L661.50 972.34 L662.70 972.34 L663.90 972.35 L665.10 972.35 L666.30 972.35 L667.50 972.36 L668.70 972.36 L669.90 972.36 L671.10 972.37 L672.30 972.37 L673.50 972.38 L674.70 972.38 L675.90 972.38 L677.10 972.39 L678.30 972.39 L679.50 972.39 L680.70 972.40 L681.90 972.40 L683.10 972.40 L684.30 972.41 L685.50 972.41 L686.70 972.41 L687.90 972.41 L689.10 972.42 L690.30 972.42 L691.50 972.42 L692.70 972.43 L693.90 972.43 L695.10 972.43 L696.30 972.43 L697.50 972.44 L698.70 972.44 L699.90 972.44 L701.10 972.45 L702.30 972.45 L703.50 972.45 L704.70 972.45 L705.90 972.45 L707.10 972.46 L708.30 972.46 L709.50 972.46 L710.70 972.46 L711.90 972.47 L713.10 972.47 L714.30 972.47 L715.50 972.47 L716.70 972.47 L717.90 972.47 L719.10 972.48 L720.30 972.48 L721.50 972.48 L722.70 972.48 L723.90 972.48 L725.10 972.48 L726.30 972.49 L727.50 972.49 L728.70 972.49 L729.90 972.49 L731.10 972.49 L732.30 972.49 L733.50 972.49 L734.70 972.49 L735.90 972.49 L737.10 972.50 L738.30 972.50 L739.50 972.50 L740.70 972.50 L741.90 972.50 L743.10 972.50 L744.30 972.50 L745.50 972.50 L746.70 972.50 L747.90 972.50 L749.10 972.50 L749.90 972.50" stroke="#000000"/>
<path d="M73.20 972.70 L74.40 972.70 L75.60 972.70 L76.80 972.70 L78.00 972.70 L79.20 972.70 L80.40 972.69 L81.60 972.69 L82.80 972.69 L84.00 972.69 L85.20 972.68 L86.40 972.68 L87.60 972.67 L88.80 972.67 L90.00 972.67 L91.20 972.66 L92.40 972.66 L93.60 972.65 L94.80 972.65 L96.00 972.64 L97.20 972.64 L98.40 972.63 L99.60 972.63 L100.80 972.62 L102.00 972.61 L103.20 972.61 L104.40 972.60 L105.60 972.59 L106.80 972.58 L108.00 972.58 L109.20 972.57 L110.40 972.56 L111.60 972.55 L112.80 972.54 L114.00 972.53 L115.20 972.53 L116.40 972.52 L117.60 972.51 L118.80 972.50 L120.00 972.48 L121.20 972.47 L122.40 972.46 L123.60 972.45 L124.80 972.43 L126.00 972.42 L127.20 972.40 L128.40 972.39 L129.60 972.37 L130.80 972.35 L132.00 972.33 L133.20 972.30 L134.40 972.28 L135.60 972.25 L136.80 972.22 L138.00 972.19 L139.20 972.16 L140.39 972.12 L141.59 972.09 L142.79 972.05 L143.99 972.01 L145.19 971.97 L146.39 971.93 L147.59 971.89 L148.79 971.84 L149.99 971.80 L151.19 971.75 L152.39 971.70 L153.59 971.65 L154.79 971.61 L155.98 971.56 L157.18 971.50 L158.38 971.45 L159.58 971.40 L160.78 971.34 L161.98 971.29 L163.18 971.23 L164.37 971.17 L165.57 971.10 L166.77 971.04 L167.97 970.97 L169.17 970.89 L170.36 970.81 L171.56 970.73 L172.75 970.64 L173.95 970.55 L175.15 970.45 L176.34 970.34 L177.53 970.22 L178.73 970.10 L179.92 969.98 L181.11 969.84 L182.30 969.70 L183.49 969.54 L184.68 969.38 L185.86 969.22 L187.05 969.04 L188.23 968.86 L189.42 968.67 L190.60 968.48 L191.78 968.27 L192.96 968.06 L194.14 967.85 L195.32 967.62 L196.50 967.39 L197.67 967.15 L198.85 966.91 L200.02 966.66 L201.19 966.40 L202.36 966.14 L203.53 965.87 L204.70 965.60 L205.86 965.32 L207.03 965.04 L208.20 964.76 L209.36 964.48 L210.53 964.19 L211.69 963.91 L212.86 963.62 L214.02 963.34 L215.19 963.06 L216.35 962.78 L217.52 962.50 L218.69 962.22 L219.85 961.94 L221.01 961.65 L222.18 961.37 L223.34 961.08 L224.50 960.79 L225.66 960.50 L226.82 960.20 L227.97 959.90 L229.12 959.57 L230.26 959.22 L231.39 958.85 L232.52 958.44 L233.63 958.01 L234.73 957.55 L235.81 957.06 L236.89 956.55 L237.96 956.03 L239.03 955.50 L240.09 954.96 L241.14 954.40 L242.18 953.82 L243.20 953.22 L244.21 952.60 L245.21 951.96 L246.19 951.30 L247.16 950.61 L248.10 949.90 L249.03 949.17 L249.94 948.41 L250.82 947.63 L251.69 946.83 L252.53 946.00 L253.34 945.15 L254.14 944.28 L254.90 943.38 L255.65 942.47 L256.36 941.53 L257.05 940.57 L257.72 939.60 L258.36 938.60 L258.97 937.59 L259.57 936.57 L260.13 935.53 L260.68 934.47 L261.21 933.41 L261.71 932.33 L262.20 931.24 L262.66 930.15 L263.11 929.04 L263.54 927.93 L263.96 926.81 L264.36 925.68 L264.75 924.55 L265.12 923.42 L265.48 922.27 L265.82 921.13 L266.16 919.98 L266.48 918.83 L266.79 917.67 L267.09 916.51 L267.38 915.35 L267.66 914.18 L267.94 913.02 L268.20 911.85 L268.45 910.68 L268.70 909.50 L268.94 908.33 L269.18 907.15 L269.41 905.98 L269.63 904.80 L269.85 903.62 L270.06 902.44 L270.27 901.26 L270.48 900.07 L270.68 898.89 L270.88 897.71 L271.07 896.53 L271.26 895.34 L271.45 894.16 L271.64 892.97 L271.83 891.79 L272.01 890.60 L272.19 889.41 L272.37 888.23 L272.55 887.04 L272.72 885.85 L272.89 884.67 L273.06 883.48 L273.23 882.29 L273.40 881.10 L273.56 879.91 L273.73 878.72 L273.89 877.53 L274.05 876.35 L274.21 875.16 L274.37 873.97 L274.52 872.78 L274.68 871.59 L274.84 870.40 L274.99 869.21 L275.15 868.02 L275.31 866.83 L275.46 865.64 L275.62 864.45 L275.77 863.26 L275.93 862.07 L276.09 860.88 L276.24 859.69 L276.40 858.50 L276.56 857.31 L276.71 856.12 L276.87 854.93 L277.02 853.74 L277.18 852.55 L277.33 851.36 L277.48 850.17 L277.63 848.98 L277.79 847.79 L277.94 846.60 L278.09 845.41 L278.23 844.22 L278.38 843.03 L278.53 841.84 L278.67 840.64 L278.82 839.45 L278.96 838.26 L279.10 837.07 L279.24 835.88 L279.38 834.69 L279.51 833.49 L279.65 832.30 L279.78 831.11 L279.91 829.92 L280.04 828.72 L280.16 827.53 L280.29 826.34 L280.41 825.14 L280.54 823.95 L280.66 822.76 L280.78 821.56 L280.90 820.37 L281.02 819.17 L281.13 817.98 L281.25 816.78 L281.36 815.59 L281.48 814.40 L281.60 813.20 L281.71 812.01 L281.83 810.81 L281.94 809.62 L282.06 808.42 L282.17 807.23 L282.29 806.04 L282.41 804.84 L282.52 803.65 L282.64 802.45 L282.76 801.26 L282.87 800.06 L282.99 798.87 L283.11 797.68 L283.23 796.48 L283.35 795.29 L283.48 794.09 L283.60 792.90 L283.73 791.71 L283.85 790.51 L283.98 789.32 L284.11 788.13 L284.24 786.94 L284.37 785.74 L284.51 784.55 L284.65 783.36 L284.79 782.17 L284.93 780.98 L285.07 779.78 L285.22 778.59 L285.37 777.40 L285.53 776.21 L285.68 775.03 L285.84 773.84 L286.01 772.65 L286.18 771.47 L286.36 770.29 L286.54 769.11 L286.73 767.94 L286.92 766.77 L287.13 765.62 L287.34 764.48 L287.57 763.35 L287.80 762.24 L288.03 761.10 L288.24 759.91 L288.42 758.65 L288.58 757.37 L288.76 756.12 L288.97 754.92 L289.24 753.75 L289.61 752.61 L290.07 751.51 L290.64 750.48 L291.39 749.74 L292.29 749.69 L293.11 750.35 L293.77 751.32 L294.28 752.40 L294.66 753.53 L294.95 754.69 L295.18 755.87 L295.37 757.09 L295.53 758.36 L295.69 759.65 L295.89 760.88 L296.11 762.03 L296.36 763.15 L296.59 764.27 L296.82 765.40 L297.03 766.55 L297.24 767.72 L297.44 768.89 L297.63 770.06 L297.82 771.24 L298.00 772.42 L298.18 773.61 L298.36 774.79 L298.53 775.98 L298.70 777.17 L298.87 778.35 L299.04 779.54 L299.20 780.73 L299.37 781.92 L299.53 783.11 L299.70 784.30 L299.86 785.49 L300.02 786.67 L300.18 787.86 L300.35 789.05 L300.51 790.24 L300.67 791.43 L300.83 792.62 L300.99 793.81 L301.15 795.00 L301.32 796.19 L301.48 797.38 L301.64 798.57 L301.80 799.75 L301.96 800.94 L302.12 802.13 L302.28 803.32 L302.44 804.51 L302.60 805.70 L302.76 806.89 L302.92 808.08 L303.08 809.27 L303.23 810.46 L303.39 811.65 L303.54 812.84 L303.69 814.03 L303.85 815.22 L304.00 816.41 L304.15 817.60 L304.30 818.79 L304.44 819.98 L304.59 821.17 L304.74 822.36 L304.89 823.55 L305.03 824.75 L305.18 825.94 L305.33 827.13 L305.48 828.32 L305.63 829.51 L305.78 830.70 L305.94 831.89 L306.09 833.08 L306.24 834.27 L306.40 835.46 L306.56 836.65 L306.71 837.84 L306.87 839.03 L307.03 840.22 L307.19 841.41 L307.35 842.60 L307.51 843.78 L307.67 844.97 L307.84 846.16 L308.00 847.35 L308.16 848.54 L308.32 849.73 L308.48 850.92 L308.65 852.11 L308.81 853.30 L308.97 854.49 L309.14 855.67 L309.30 856.86 L309.46 858.05 L309.63 859.24 L309.80 860.43 L309.97 861.62 L310.14 862.80 L310.31 863.99 L310.48 865.18 L310.66 866.37 L310.84 867.55 L311.02 868.74 L311.21 869.92 L311.39 871.11 L311.59 872.29 L311.78 873.48 L311.98 874.66 L312.19 875.84 L312.39 877.02 L312.61 878.20 L312.82 879.38 L313.04 880.56 L313.27 881.74 L313.50 882.92 L313.74 884.09 L313.98 885.27 L314.23 886.44 L314.48 887.61 L314.73 888.79 L314.99 889.96 L315.25 891.13 L315.52 892.30 L315.79 893.47 L316.06 894.64 L316.34 895.80 L316.61 896.97 L316.89 898.14 L317.17 899.31 L317.45 900.47 L317.74 901.64 L318.03 902.80 L318.32 903.97 L318.61 905.13 L318.90 906.29 L319.20 907.46 L319.49 908.62 L319.80 909.78 L320.10 910.94 L320.41 912.10 L320.72 913.26 L321.03 914.42 L321.35 915.57 L321.68 916.73 L322.01 917.88 L322.34 919.03 L322.68 920.18 L323.03 921.33 L323.38 922.48 L323.74 923.62 L324.11 924.76 L324.49 925.89 L324.88 927.03 L325.28 928.16 L325.69 929.28 L326.11 930.40 L326.54 931.51 L326.99 932.62 L327.45 933.73 L327.93 934.82 L328.42 935.91 L328.93 936.99 L329.45 938.06 L329.99 939.13 L330.54 940.18 L331.12 941.23 L331.71 942.26 L332.32 943.28 L332.95 944.29 L333.60 945.28 L334.27 946.26 L334.96 947.22 L335.67 948.17 L336.40 949.10 L337.14 950.02 L337.88 950.94 L338.64 951.85 L339.42 952.74 L340.24 953.59 L341.11 954.39 L342.01 955.15 L342.95 955.87 L343.91 956.56 L344.89 957.21 L345.90 957.82 L346.94 958.39 L348.00 958.91 L349.09 959.39 L350.19 959.82 L351.30 960.24 L352.42 960.64 L353.54 961.03 L354.66 961.41 L355.79 961.78 L356.93 962.12 L358.07 962.44 L359.23 962.74 L360.39 963.02 L361.55 963.28 L362.72 963.52 L363.89 963.75 L365.07 963.97 L366.25 964.17 L367.43 964.37 L368.61 964.55 L369.80 964.72 L370.98 964.88 L372.17 965.04 L373.36 965.18 L374.55 965.32 L375.74 965.46 L376.94 965.59 L378.13 965.71 L379.32 965.83 L380.52 965.95 L381.71 966.06 L382.91 966.17 L384.10 966.28 L385.30 966.38 L386.49 966.48 L387.69 966.58 L388.88 966.67 L390.08 966.76 L391.28 966.85 L392.47 966.94 L393.67 967.03 L394.87 967.11 L396.06 967.19 L397.26 967.27 L398.46 967.35 L399.66 967.42 L400.85 967.50 L402.05 967.57 L403.25 967.64 L404.45 967.70 L405.65 967.77 L406.85 967.83 L408.04 967.90 L409.24 967.96 L410.44 968.02 L411.64 968.07 L412.84 968.13 L414.04 968.19 L415.23 968.24 L416.43 968.30 L417.63 968.35 L418.83 968.41 L420.03 968.46 L421.23 968.51 L422.43 968.56 L423.63 968.62 L424.83 968.67 L426.02 968.72 L427.22 968.77 L428.42 968.82 L429.62 968.87 L430.82 968.93 L432.02 968.98 L433.22 969.03 L434.42 969.08 L435.62 969.14 L436.81 969.19 L438.01 969.25 L439.21 969.30 L440.41 969.36 L441.61 969.41 L442.81 969.47 L444.01 969.53 L445.20 969.59 L446.40 969.65 L447.60 969.72 L448.80 969.78 L450.00 969.85 L451.20 969.91 L452.39 969.98 L453.59 970.05 L454.79 970.12 L455.99 970.19 L457.18 970.27 L458.38 970.34 L459.58 970.42 L460.78 970.49 L461.98 970.56 L463.17 970.64 L464.37 970.71 L465.57 970.78 L466.77 970.85 L467.96 970.92 L469.16 970.98 L470.36 971.05 L471.56 971.10 L472.76 971.16 L473.96 971.21 L475.15 971.26 L476.35 971.31 L477.55 971.35 L478.75 971.39 L479.95 971.42 L481.15 971.45 L482.35 971.48 L483.55 971.51 L484.75 971.53 L485.95 971.56 L487.15 971.58 L488.35 971.60 L489.55 971.61 L490.75 971.63 L491.95 971.65 L493.15 971.66 L494.35 971.68 L495.55 971.69 L496.75 971.71 L497.95 971.72 L499.15 971.73 L500.35 971.75 L501.55 971.76 L502.75 971.77 L503.95 971.78 L505.15 971.80 L506.35 971.81 L507.55 971.82 L508.75 971.83 L509.95 971.84 L511.15 971.85 L512.35 971.86 L513.55 971.87 L514.75 971.88 L515.95 971.89 L517.15 971.90 L518.35 971.91 L519.55 971.92 L520.75 971.93 L521.95 971.94 L523.15 971.95 L524.35 971.96 L525.55 971.97 L526.75 971.98 L527.95 971.99 L529.15 971.99 L530.35 972.00 L531.55 972.01 L532.75 972.02 L533.95 972.03 L535.15 972.03 L536.35 972.04 L537.55 972.05 L538.75 972.06 L539.95 972.06 L541.15 972.07 L542.35 972.08 L543.55 972.08 L544.75 972.09 L545.95 972.09 L547.15 972.10 L548.35 972.11 L549.55 972.11 L550.75 972.12 L551.95 972.12 L553.15 972.13 L554.35 972.14 L555.55 972.14 L556.75 972.15 L557.95 972.15 L559.15 972.16 L560.35 972.16 L561.55 972.17 L562.75 972.17 L563.95 972.18 L565.15 972.18 L566.35 972.19 L567.55 972.19 L568.75 972.20 L569.95 972.20 L571.15 972.20 L572.35 972.21 L573.55 972.21 L574.75 972.22 L575.95 972.22 L577.15 972.23 L578.35 972.23 L579.55 972.23 L580.75 972.24 L581.95 972.24 L583.15 972.25 L584.35 972.25 L585.55 972.25 L586.75 972.26 L587.95 972.26 L589.15 972.27 L590.35 972.27 L591.55 972.27 L592.75 972.28 L593.95 972.28 L595.15 972.28 L596.35 972.29 L597.55 972.29 L598.75 972.30 L599.95 972.30 L601.15 972.30 L602.35 972.31 L603.55 972.31 L604.75 972.31 L605.95 972.32 L607.15 972.32 L608.35 972.33 L609.55 972.33 L610.75 972.33 L611.95 972.34 L613.15 972.34 L614.35 972.34 L615.55 972.35 L616.75 972.35 L617.95 972.36 L619.15 972.36 L620.35 972.36 L621.55 972.37 L622.75 972.37 L623.95 972.37 L625.15 972.38 L626.35 972.38 L627.55 972.38 L628.74 972.39 L629.94 972.39 L631.14 972.39 L632.34 972.40 L633.54 972.40 L634.74 972.40 L635.94 972.41 L637.14 972.41 L638.34 972.42 L639.54 972.42 L640.74 972.42 L641.94 972.43 L643.14 972.43 L644.34 972.43 L645.54 972.44 L646.74 972.44 L647.94 972.44 L649.14 972.44 L650.34 972.45 L651.54 972.45 L652.74 972.45 L653.94 972.46 L655.14 972.46 L656.34 972.46 L657.54 972.47 L658.74 972.47 L659.94 972.47 L661.14 972.48 L662.34 972.48 L663.54 972.48 L664.74 972.48 L665.94 972.49 L667.14 972.49 L668.34 972.49 L669.54 972.50 L670.74 972.50 L671.94 972.50 L673.14 972.50 L674.34 972.51 L675.54 972.51 L676.74 972.51 L677.94 972.51 L679.14 972.52 L680.34 972.52 L681.54 972.52 L682.74 972.52 L683.94 972.53 L685.14 972.53 L686.34 972.53 L687.54 972.53 L688.74 972.54 L689.94 972.54 L691.14 972.54 L692.34 972.54 L693.54 972.55 L694.74 972.55 L695.94 972.55 L697.14 972.55 L698.34 972.55 L699.54 972.56 L700.74 972.56 L701.94 972.56 L703.14 972.56 L704.34 972.56 L705.54 972.56 L706.74 972.57 L707.94 972.57 L709.14 972.57 L710.34 972.57 L711.54 972.57 L712.74 972.57 L713.94 972.58 L715.14 972.58 L716.34 972.58 L717.54 972.58 L718.74 972.58 L719.94 972.58 L721.14 972.58 L722.34 972.59 L723.54 972.59 L724.74 972.59 L725.94 972.59 L727.14 972.59 L728.34 972.59 L729.54 972.59 L730.74 972.59 L731.94 972.59 L733.14 972.59 L734.34 972.59 L735.54 972.60 L736.74 972.60 L737.94 972.60 L739.14 972.60 L740.34 972.60 L741.54 972.60 L742.74 972.60 L743.94 972.60 L745.14 972.60 L746.34 972.60 L747.54 972.60 L748.74 972.60 L749.94 972.60 L749.94 972.60" stroke="#bfbf00"/>
<path d="M73.20 972.20 L74.40 972.20 L75.60 972.19 L76.80 972.19 L78.00 972.19 L79.20 972.18 L80.40 972.18 L81.60 972.17 L82.80 972.17 L84.00 972.16 L85.20 972.16 L86.40 972.15 L87.60 972.15 L88.80 972.14 L90.00 972.13 L91.20 972.13 L92.40 972.12 L93.60 972.12 L94.80 972.11 L96.00 972.10 L97.20 972.10 L98.40 972.09 L99.60 972.08 L100.80 972.07 L102.00 972.07 L103.20 972.06 L104.40 972.05 L105.60 972.04 L106.80 972.04 L108.00 972.03 L109.20 972.02 L110.40 972.01 L111.60 972.01 L112.80 972.00 L114.00 971.99 L115.20 971.98 L116.40 971.97 L117.60 971.96 L118.80 971.95 L120.00 971.94 L121.20 971.93 L122.40 971.91 L123.60 971.90 L124.80 971.88 L126.00 971.86 L127.20 971.83 L128.40 971.81 L129.60 971.78 L130.79 971.74 L131.99 971.70 L133.19 971.66 L134.39 971.61 L135.59 971.55 L136.79 971.49 L137.98 971.43 L139.18 971.35 L140.38 971.28 L141.57 971.20 L142.77 971.11 L143.97 971.02 L145.16 970.93 L146.36 970.84 L147.55 970.74 L148.75 970.65 L149.95 970.55 L151.14 970.45 L152.34 970.36 L153.53 970.26 L154.73 970.16 L155.93 970.06 L157.12 969.97 L158.32 969.87 L159.51 969.77 L160.71 969.67 L161.90 969.56 L163.10 969.46 L164.29 969.35 L165.49 969.24 L166.68 969.12 L167.88 969.00 L169.07 968.87 L170.26 968.74 L171.45 968.60 L172.64 968.46 L173.83 968.30 L175.02 968.14 L176.20 967.96 L177.39 967.78 L178.57 967.59 L179.75 967.39 L180.93 967.18 L182.11 966.96 L183.28 966.72 L184.45 966.48 L185.62 966.23 L186.79 965.97 L187.96 965.69 L189.12 965.41 L190.29 965.12 L191.45 964.82 L192.60 964.51 L193.76 964.19 L194.91 963.86 L196.06 963.53 L197.21 963.18 L198.36 962.83 L199.50 962.47 L200.64 962.10 L201.78 961.73 L202.92 961.35 L204.05 960.96 L205.18 960.56 L206.31 960.16 L207.44 959.75 L208.56 959.33 L209.68 958.91 L210.80 958.48 L211.92 958.04 L213.04 957.60 L214.15 957.16 L215.26 956.72 L216.38 956.27 L217.49 955.82 L218.60 955.37 L219.71 954.92 L220.82 954.47 L221.94 954.03 L223.05 953.58 L224.17 953.14 L225.29 952.71 L226.40 952.27 L227.52 951.84 L228.64 951.41 L229.76 950.98 L230.88 950.55 L232.00 950.12 L233.11 949.68 L234.22 949.24 L235.33 948.79 L236.44 948.34 L237.53 947.87 L238.62 947.39 L239.71 946.89 L240.79 946.39 L241.86 945.87 L242.91 945.33 L243.95 944.76 L244.97 944.16 L245.98 943.53 L246.96 942.88 L247.92 942.19 L248.86 941.48 L249.79 940.76 L250.71 940.03 L251.62 939.28 L252.51 938.49 L253.35 937.66 L254.15 936.80 L254.91 935.89 L255.63 934.96 L256.32 934.00 L256.96 933.01 L257.56 931.99 L258.11 930.94 L258.62 929.87 L259.10 928.79 L259.57 927.70 L260.03 926.61 L260.49 925.51 L260.92 924.41 L261.34 923.30 L261.74 922.18 L262.11 921.05 L262.47 919.91 L262.82 918.77 L263.15 917.62 L263.46 916.46 L263.77 915.31 L264.06 914.15 L264.34 912.98 L264.61 911.81 L264.88 910.65 L265.13 909.47 L265.38 908.30 L265.62 907.13 L265.86 905.95 L266.09 904.78 L266.32 903.60 L266.54 902.42 L266.75 901.24 L266.97 900.06 L267.18 898.88 L267.38 897.69 L267.58 896.51 L267.78 895.33 L267.98 894.14 L268.18 892.96 L268.37 891.78 L268.56 890.59 L268.75 889.41 L268.94 888.22 L269.12 887.04 L269.30 885.85 L269.49 884.66 L269.67 883.48 L269.84 882.29 L270.02 881.10 L270.19 879.92 L270.37 878.73 L270.54 877.54 L270.71 876.35 L270.88 875.17 L271.05 873.98 L271.21 872.79 L271.38 871.60 L271.54 870.41 L271.71 869.22 L271.87 868.04 L272.04 866.85 L272.21 865.66 L272.37 864.47 L272.54 863.28 L272.71 862.09 L272.87 860.91 L273.04 859.72 L273.21 858.53 L273.37 857.34 L273.54 856.15 L273.70 854.96 L273.86 853.77 L274.02 852.59 L274.18 851.40 L274.33 850.21 L274.49 849.02 L274.64 847.83 L274.79 846.64 L274.94 845.44 L275.09 844.25 L275.23 843.06 L275.37 841.87 L275.52 840.68 L275.66 839.49 L275.80 838.30 L275.94 837.11 L276.08 835.91 L276.22 834.72 L276.36 833.53 L276.50 832.34 L276.64 831.15 L276.78 829.95 L276.93 828.76 L277.07 827.57 L277.21 826.38 L277.35 825.19 L277.49 824.00 L277.64 822.81 L277.78 821.61 L277.93 820.42 L278.07 819.23 L278.22 818.04 L278.36 816.85 L278.51 815.66 L278.66 814.47 L278.80 813.28 L278.95 812.09 L279.10 810.89 L279.24 809.70 L279.39 808.51 L279.54 807.32 L279.69 806.13 L279.84 804.94 L279.98 803.75 L280.13 802.56 L280.28 801.37 L280.43 800.18 L280.58 798.99 L280.73 797.80 L280.88 796.61 L281.04 795.42 L281.19 794.23 L281.34 793.04 L281.50 791.85 L281.65 790.66 L281.81 789.47 L281.97 788.28 L282.13 787.09 L282.29 785.90 L282.45 784.71 L282.62 783.52 L282.78 782.33 L282.96 781.15 L283.13 779.96 L283.31 778.77 L283.49 777.59 L283.68 776.41 L283.87 775.23 L284.07 774.05 L284.28 772.88 L284.50 771.72 L284.72 770.57 L284.96 769.43 L285.21 768.30 L285.48 767.19 L285.74 766.07 L286.00 764.93 L286.24 763.75 L286.48 762.53 L286.70 761.26 L286.93 760.00 L287.22 758.80 L287.60 757.66 L288.06 756.55 L288.60 755.50 L289.29 754.62 L290.17 754.30 L291.07 754.73 L291.81 755.61 L292.42 756.64 L292.93 757.72 L293.34 758.84 L293.65 760.00 L293.91 761.17 L294.14 762.38 L294.34 763.61 L294.54 764.86 L294.77 766.08 L295.01 767.23 L295.27 768.36 L295.53 769.49 L295.77 770.63 L296.01 771.79 L296.23 772.95 L296.45 774.12 L296.66 775.29 L296.86 776.47 L297.05 777.65 L297.24 778.83 L297.43 780.02 L297.61 781.20 L297.79 782.39 L297.96 783.58 L298.13 784.76 L298.30 785.95 L298.46 787.14 L298.62 788.33 L298.78 789.52 L298.94 790.71 L299.10 791.90 L299.26 793.09 L299.41 794.28 L299.57 795.47 L299.73 796.66 L299.88 797.85 L300.04 799.04 L300.20 800.23 L300.36 801.42 L300.51 802.60 L300.67 803.79 L300.83 804.98 L300.99 806.17 L301.15 807.36 L301.31 808.55 L301.47 809.74 L301.63 810.93 L301.79 812.12 L301.95 813.31 L302.11 814.50 L302.26 815.69 L302.42 816.88 L302.58 818.07 L302.74 819.26 L302.90 820.45 L303.05 821.64 L303.21 822.83 L303.37 824.02 L303.53 825.20 L303.69 826.39 L303.84 827.58 L304.00 828.77 L304.16 829.96 L304.32 831.15 L304.48 832.34 L304.64 833.53 L304.80 834.72 L304.96 835.91 L305.12 837.10 L305.28 838.29 L305.44 839.48 L305.60 840.67 L305.76 841.86 L305.91 843.04 L306.07 844.23 L306.22 845.43 L306.36 846.62 L306.51 847.81 L306.65 849.00 L306.78 850.19 L306.92 851.38 L307.04 852.58 L307.17 853.77 L307.29 854.96 L307.41 856.16 L307.53 857.35 L307.65 858.54 L307.76 859.74 L307.88 860.93 L307.99 862.13 L308.11 863.32 L308.23 864.51 L308.36 865.71 L308.49 866.90 L308.62 868.09 L308.76 869.28 L308.90 870.47 L309.05 871.66 L309.21 872.85 L309.37 874.04 L309.54 875.23 L309.71 876.41 L309.89 877.60 L310.07 878.78 L310.26 879.97 L310.46 881.15 L310.66 882.33 L310.87 883.52 L311.08 884.70 L311.30 885.88 L311.52 887.05 L311.75 888.23 L311.98 889.41 L312.22 890.58 L312.46 891.76 L312.71 892.93 L312.97 894.10 L313.22 895.28 L313.49 896.45 L313.75 897.62 L314.02 898.79 L314.30 899.95 L314.57 901.12 L314.85 902.29 L315.13 903.45 L315.42 904.62 L315.70 905.78 L315.99 906.95 L316.28 908.11 L316.57 909.28 L316.86 910.44 L317.16 911.61 L317.45 912.77 L317.75 913.93 L318.04 915.09 L318.34 916.26 L318.65 917.42 L318.95 918.58 L319.26 919.73 L319.58 920.89 L319.90 922.05 L320.22 923.20 L320.55 924.36 L320.89 925.51 L321.23 926.65 L321.58 927.80 L321.94 928.94 L322.31 930.08 L322.69 931.21 L323.08 932.34 L323.48 933.46 L323.89 934.58 L324.29 935.71 L324.67 936.85 L325.04 937.99 L325.43 939.12 L325.87 940.23 L326.36 941.32 L326.91 942.37 L327.51 943.39 L328.16 944.38 L328.86 945.33 L329.61 946.25 L330.40 947.15 L331.21 948.02 L332.05 948.88 L332.89 949.72 L333.73 950.56 L334.56 951.42 L335.38 952.28 L336.20 953.14 L337.05 953.98 L337.93 954.79 L338.82 955.58 L339.73 956.34 L340.65 957.08 L341.60 957.80 L342.57 958.47 L343.57 959.11 L344.60 959.69 L345.65 960.23 L346.73 960.72 L347.84 961.16 L348.97 961.55 L350.12 961.88 L351.28 962.20 L352.43 962.52 L353.57 962.84 L354.71 963.17 L355.86 963.48 L357.02 963.78 L358.18 964.06 L359.34 964.32 L360.51 964.56 L361.68 964.80 L362.86 965.01 L364.04 965.22 L365.22 965.41 L366.40 965.59 L367.59 965.77 L368.77 965.93 L369.96 966.08 L371.15 966.23 L372.34 966.37 L373.53 966.51 L374.73 966.64 L375.92 966.77 L377.11 966.89 L378.31 967.01 L379.50 967.13 L380.69 967.24 L381.89 967.35 L383.08 967.46 L384.28 967.57 L385.47 967.68 L386.67 967.78 L387.87 967.88 L389.06 967.98 L390.26 968.07 L391.45 968.16 L392.65 968.25 L393.85 968.34 L395.04 968.42 L396.24 968.51 L397.44 968.59 L398.64 968.66 L399.83 968.74 L401.03 968.81 L402.23 968.88 L403.43 968.95 L404.62 969.01 L405.82 969.07 L407.02 969.13 L408.22 969.19 L409.42 969.25 L410.62 969.30 L411.82 969.35 L413.01 969.40 L414.21 969.45 L415.41 969.49 L416.61 969.54 L417.81 969.58 L419.01 969.62 L420.21 969.66 L421.41 969.70 L422.61 969.74 L423.81 969.77 L425.01 969.81 L426.21 969.85 L427.41 969.88 L428.61 969.92 L429.81 969.96 L431.00 969.99 L432.20 970.03 L433.40 970.06 L434.60 970.10 L435.80 970.14 L437.00 970.18 L438.20 970.21 L439.40 970.25 L440.60 970.29 L441.80 970.33 L443.00 970.37 L444.20 970.41 L445.40 970.45 L446.60 970.49 L447.80 970.53 L449.00 970.57 L450.19 970.61 L451.39 970.65 L452.59 970.69 L453.79 970.73 L454.99 970.77 L456.19 970.81 L457.39 970.85 L458.59 970.89 L459.79 970.93 L460.99 970.97 L462.19 971.01 L463.39 971.05 L464.59 971.09 L465.79 971.13 L466.99 971.16 L468.18 971.20 L469.38 971.23 L470.58 971.26 L471.78 971.29 L472.98 971.32 L474.18 971.35 L475.38 971.38 L476.58 971.40 L477.78 971.43 L478.98 971.45 L480.18 971.47 L481.38 971.49 L482.58 971.51 L483.78 971.53 L484.98 971.55 L486.18 971.56 L487.38 971.58 L488.58 971.59 L489.78 971.61 L490.98 971.62 L492.18 971.64 L493.38 971.65 L494.58 971.66 L495.78 971.68 L496.98 971.69 L498.18 971.70 L499.38 971.71 L500.58 971.73 L501.78 971.74 L502.98 971.75 L504.18 971.76 L505.38 971.77 L506.58 971.78 L507.78 971.79 L508.98 971.81 L510.18 971.82 L511.38 971.83 L512.58 971.84 L513.78 971.85 L514.98 971.86 L516.18 971.87 L517.38 971.88 L518.58 971.89 L519.78 971.90 L520.98 971.91 L522.18 971.92 L523.38 971.92 L524.58 971.93 L525.78 971.94 L526.98 971.95 L528.18 971.96 L529.38 971.97 L530.58 971.98 L531.78 971.98 L532.98 971.99 L534.18 972.00 L535.38 972.01 L536.58 972.02 L537.78 972.02 L538.98 972.03 L540.18 972.04 L541.38 972.05 L542.58 972.05 L543.78 972.06 L544.98 972.07 L546.18 972.07 L547.38 972.08 L548.58 972.09 L549.78 972.09 L550.98 972.10 L552.18 972.11 L553.38 972.11 L554.58 972.12 L555.78 972.13 L556.98 972.13 L558.18 972.14 L559.38 972.14 L560.58 972.15 L561.78 972.15 L562.98 972.16 L564.18 972.17 L565.38 972.17 L566.58 972.18 L567.78 972.18 L568.98 972.19 L570.18 972.19 L571.38 972.20 L572.58 972.20 L573.78 972.21 L574.98 972.21 L576.18 972.22 L577.38 972.22 L578.58 972.23 L579.78 972.23 L580.98 972.23 L582.18 972.24 L583.38 972.24 L584.58 972.25 L585.78 972.25 L586.98 972.26 L588.18 972.26 L589.38 972.26 L590.58 972.27 L591.78 972.27 L592.98 972.28 L594.18 972.28 L595.38 972.28 L596.58 972.29 L597.78 972.29 L598.98 972.30 L600.18 972.30 L601.38 972.30 L602.58 972.31 L603.78 972.31 L604.98 972.32 L606.18 972.32 L607.38 972.32 L608.58 972.33 L609.78 972.33 L610.98 972.33 L612.18 972.34 L613.38 972.34 L614.58 972.35 L615.78 972.35 L616.98 972.35 L618.18 972.36 L619.38 972.36 L620.58 972.36 L621.78 972.37 L622.98 972.37 L624.18 972.37 L625.38 972.38 L626.58 972.38 L627.78 972.38 L628.98 972.39 L630.18 972.39 L631.38 972.40 L632.58 972.40 L633.78 972.40 L634.98 972.41 L636.18 972.41 L637.38 972.41 L638.58 972.42 L639.78 972.42 L640.98 972.42 L642.18 972.43 L643.38 972.43 L644.58 972.43 L645.78 972.44 L646.98 972.44 L648.18 972.44 L649.38 972.45 L650.58 972.45 L651.78 972.45 L652.98 972.45 L654.18 972.46 L655.38 972.46 L656.58 972.46 L657.78 972.47 L658.98 972.47 L660.18 972.47 L661.38 972.48 L662.58 972.48 L663.78 972.48 L664.98 972.49 L666.18 972.49 L667.38 972.49 L668.58 972.49 L669.78 972.50 L670.98 972.50 L672.18 972.50 L673.38 972.50 L674.58 972.51 L675.78 972.51 L676.98 972.51 L678.18 972.52 L679.38 972.52 L680.58 972.52 L681.78 972.52 L682.98 972.53 L684.18 972.53 L685.38 972.53 L686.58 972.53 L687.78 972.53 L688.98 972.54 L690.18 972.54 L691.38 972.54 L692.58 972.54 L693.78 972.55 L694.98 972.55 L696.18 972.55 L697.38 972.55 L698.58 972.55 L699.78 972.56 L700.98 972.56 L702.18 972.56 L703.38 972.56 L704.58 972.56 L705.78 972.57 L706.98 972.57 L708.18 972.57 L709.38 972.57 L710.58 972.57 L711.78 972.57 L712.98 972.57 L714.18 972.58 L715.38 972.58 L716.58 972.58 L717.78 972.58 L718.98 972.58 L720.18 972.58 L721.38 972.58 L722.58 972.59 L723.78 972.59 L724.98 972.59 L726.18 972.59 L727.38 972.59 L728.58 972.59 L729.78 972.59 L730.98 972.59 L732.18 972.59 L733.38 972.59 L734.58 972.59 L735.78 972.60 L736.98 972.60 L738.18 972.60 L739.38 972.60 L740.58 972.60 L741.78 972.60 L742.98 972.60 L744.18 972.60 L745.38 972.60 L746.58 972.60 L747.78 972.60 L748.98 972.60 L749.78 972.60" stroke="#0000ff"/>
</g>
<rect x="73.50" y="711.80" width="676.50" height="261.00" fill="none" stroke="#000" stroke-width="1.75" stroke-linejoin="miter"/>
<path d="M107.33 972.80 V979.80 M174.97 972.80 V979.80 M242.62 972.80 V979.80 M310.27 972.80 V979.80 M377.93 972.80 V979.80 M445.57 972.80 V979.80 M513.23 972.80 V979.80 M580.88 972.80 V979.80 M648.52 972.80 V979.80 M716.17 972.80 V979.80 M73.50 972.80 H66.50 M73.50 885.80 H66.50 M73.50 798.80 H66.50 M73.50 711.80 H66.50" stroke="#000" stroke-width="1.75" fill="none"/>
<rect x="94.12" y="993.40" width="10.1" height="1.0" fill="#222"/>
<text x="105.23" y="998.00" font-size="16.20">40</text>
<rect x="161.78" y="993.40" width="10.1" height="1.0" fill="#222"/>
<text x="172.88" y="998.00" font-size="16.20">20</text>
<text transform="translate(242.62 998.00) scale(1.03 1)" font-size="16.20" text-anchor="middle">0</text>
<text transform="translate(310.27 998.00) scale(1.03 1)" font-size="16.20" text-anchor="middle">20</text>
<text transform="translate(377.93 998.00) scale(1.03 1)" font-size="16.20" text-anchor="middle">40</text>
<text transform="translate(445.57 998.00) scale(1.03 1)" font-size="16.20" text-anchor="middle">60</text>
<text transform="translate(513.23 998.00) scale(1.03 1)" font-size="16.20" text-anchor="middle">80</text>
<text transform="translate(580.88 998.00) scale(1.03 1)" font-size="16.20" text-anchor="middle">100</text>
<text transform="translate(648.52 998.00) scale(1.03 1)" font-size="16.20" text-anchor="middle">120</text>
<text transform="translate(716.17 998.00) scale(1.03 1)" font-size="16.20" text-anchor="middle">140</text>
<text transform="translate(57.90 978.30) scale(1.055 1)" font-size="16.20" text-anchor="end">0.00</text>
<text transform="translate(57.90 891.30) scale(1.055 1)" font-size="16.20" text-anchor="end">0.02</text>
<text transform="translate(57.90 804.30) scale(1.055 1)" font-size="16.20" text-anchor="end">0.04</text>
<text transform="translate(57.90 717.30) scale(1.055 1)" font-size="16.20" text-anchor="end">0.06</text>
<text x="412.05" y="1018.70" font-size="20.80" text-anchor="middle" class="it">s</text>
<text transform="translate(15.70 862.82) rotate(-90) scale(1.414 1)" font-size="20.00" style="stroke:none" class="it">f</text>
<text transform="translate(18.50 853.78) rotate(-90) scale(1.017 1)" font-size="15.20" style="stroke:none" class="it">S</text>
<text transform="translate(15.50 843.64) rotate(-90) scale(0.867 1)" font-size="22.00" style="stroke:none">(</text>
<text transform="translate(15.70 837.15) rotate(-90) scale(1.024 1)" font-size="20.00" style="stroke:none" class="it">s</text>
<text transform="translate(15.50 828.09) rotate(-90) scale(0.690 1)" font-size="22.00" style="stroke:none">)</text>
<rect x="552.60" y="720.50" width="189.10" height="116.60" rx="3.5" ry="3.5" fill="#fff" stroke="#d2d2d2" stroke-width="1.90"/>
<path d="M558.30 732.30 H592.80" stroke="#008000" stroke-width="1.80"/>
<text x="605.68" y="738.20" font-size="17.50" class="it">α</text>
<text x="619.85" y="738.20" font-size="16.20" textLength="12.97" lengthAdjust="spacingAndGlyphs" dy="1.2">=</text>
<text x="632.58" y="738.20" font-size="16.20">0.01,</text>
<text x="670.26" y="738.20" font-size="18.50" class="it">β</text>
<text x="683.40" y="738.20" font-size="16.20" textLength="12.97" lengthAdjust="spacingAndGlyphs" dy="1.2">=</text>
<text x="695.54" y="738.20" font-size="16.20">2.00</text>
<path d="M558.30 755.00 H592.80" stroke="#ff0000" stroke-width="1.80"/>
<text x="605.68" y="760.90" font-size="17.50" class="it">α</text>
<text x="619.85" y="760.90" font-size="16.20" textLength="12.97" lengthAdjust="spacingAndGlyphs" dy="1.2">=</text>
<text x="632.58" y="760.90" font-size="16.20">0.10,</text>
<text x="670.26" y="760.90" font-size="18.50" class="it">β</text>
<text x="683.40" y="760.90" font-size="16.20" textLength="12.97" lengthAdjust="spacingAndGlyphs" dy="1.2">=</text>
<text x="695.54" y="760.90" font-size="16.20">2.00</text>
<path d="M558.30 777.70 H592.80" stroke="#000000" stroke-width="1.80"/>
<text x="605.68" y="783.60" font-size="17.50" class="it">α</text>
<text x="619.85" y="783.60" font-size="16.20" textLength="12.97" lengthAdjust="spacingAndGlyphs" dy="1.2">=</text>
<text x="632.58" y="783.60" font-size="16.20">0.20,</text>
<text x="670.26" y="783.60" font-size="18.50" class="it">β</text>
<text x="683.40" y="783.60" font-size="16.20" textLength="12.97" lengthAdjust="spacingAndGlyphs" dy="1.2">=</text>
<text x="695.54" y="783.60" font-size="16.20">2.00</text>
<path d="M558.30 800.40 H592.80" stroke="#bfbf00" stroke-width="1.80"/>
<text x="605.68" y="806.30" font-size="17.50" class="it">α</text>
<text x="619.85" y="806.30" font-size="16.20" textLength="12.97" lengthAdjust="spacingAndGlyphs" dy="1.2">=</text>
<text x="632.58" y="806.30" font-size="16.20">0.50,</text>
<text x="670.26" y="806.30" font-size="18.50" class="it">β</text>
<text x="683.40" y="806.30" font-size="16.20" textLength="12.97" lengthAdjust="spacingAndGlyphs" dy="1.2">=</text>
<text x="695.54" y="806.30" font-size="16.20">2.00</text>
<path d="M558.30 823.10 H592.80" stroke="#0000ff" stroke-width="1.80"/>
<text x="605.68" y="829.00" font-size="17.50" class="it">α</text>
<text x="619.85" y="829.00" font-size="16.20" textLength="12.97" lengthAdjust="spacingAndGlyphs" dy="1.2">=</text>
<text x="631.78" y="829.00" font-size="16.20">1.00,</text>
<text x="669.45" y="829.00" font-size="18.50" class="it">β</text>
<text x="682.60" y="829.00" font-size="16.20" textLength="12.97" lengthAdjust="spacingAndGlyphs" dy="1.2">=</text>
<text x="694.73" y="829.00" font-size="16.20">2.00</text>
</svg></body></html>
